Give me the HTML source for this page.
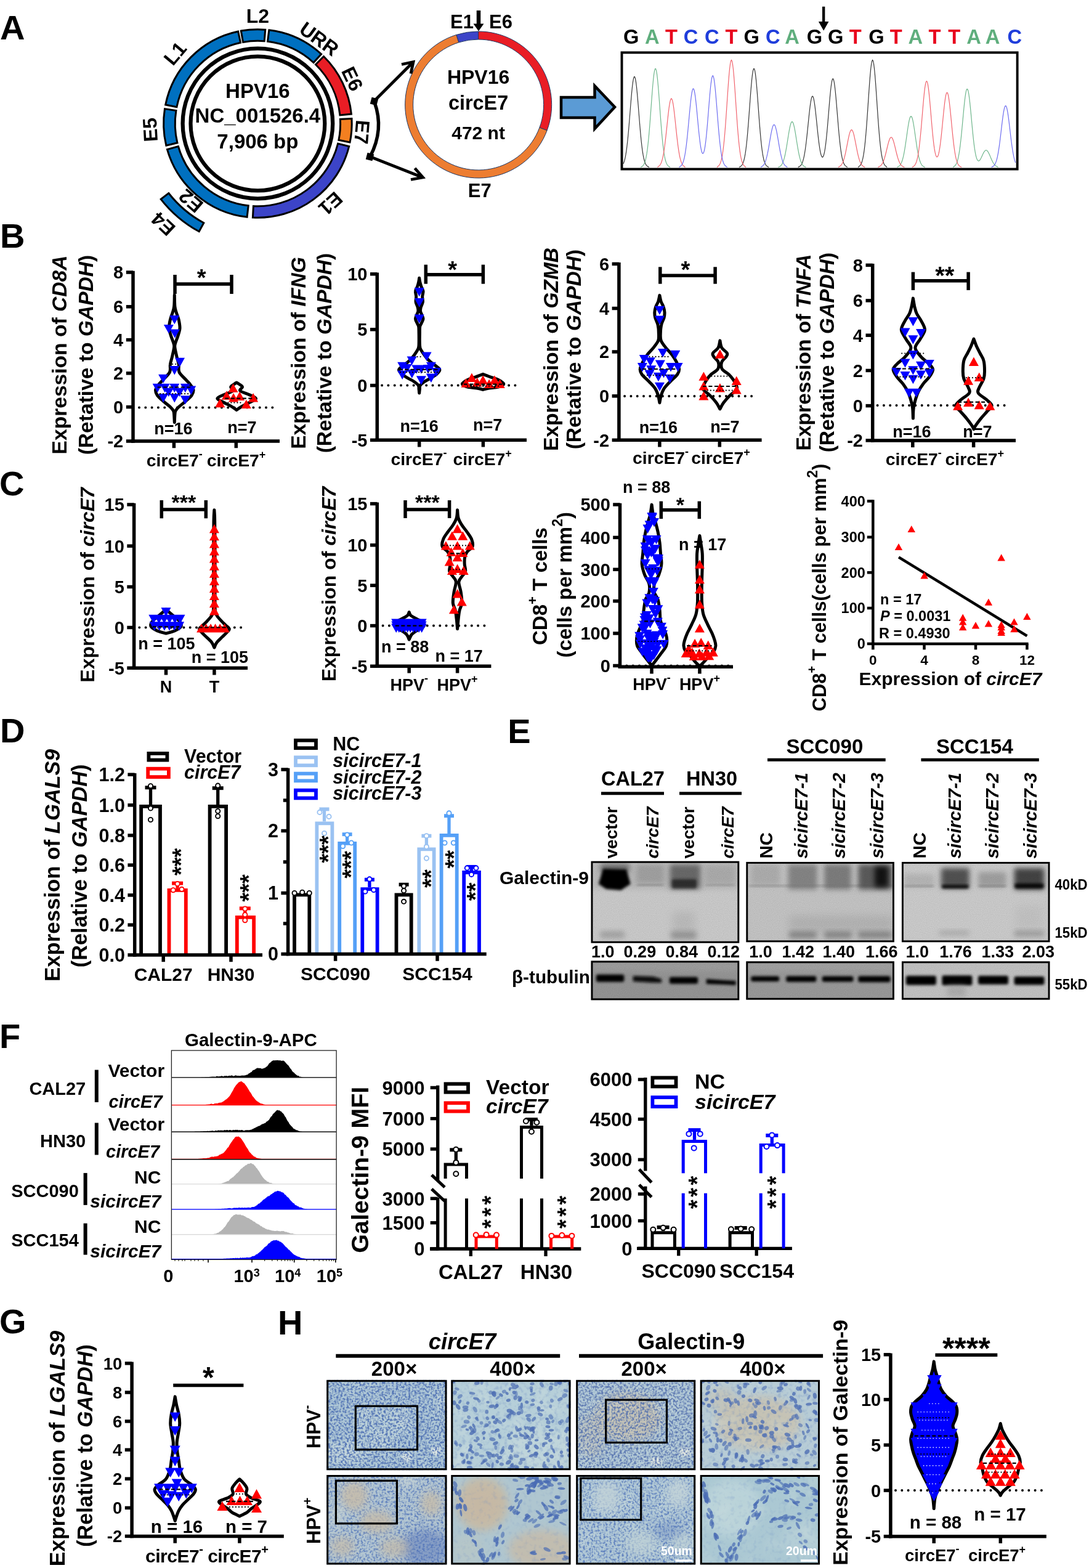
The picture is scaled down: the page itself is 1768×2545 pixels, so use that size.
<!DOCTYPE html>
<html><head><meta charset="utf-8"><title>Figure</title><style>html,body{margin:0;padding:0;background:#fff;}svg{display:block;}</style></head><body>
<svg width="1768" height="2545" viewBox="0 0 1768 2545" font-family='"Liberation Sans", Arial, sans-serif' font-weight="bold">
<rect x="0" y="0" width="1768" height="2545" fill="#fff"/>
<text x="0" y="63.9" font-size="56">A</text>
<text x="0" y="401.9" font-size="56">B</text>
<text x="-1" y="803.5" font-size="56">C</text>
<text x="0" y="1204.9" font-size="56">D</text>
<text x="824.3" y="1205.8" font-size="56">E</text>
<text x="-1" y="1701.4" font-size="56">F</text>
<text x="-1" y="2163.5" font-size="56">G</text>
<text x="451" y="2165.6" font-size="56">H</text>
<path d="M391.3 50.1A152.8 152.8 0 0 1 430.7 48.2L429.2 66.7A134.2 134.2 0 0 0 394.6 68.4Z" fill="#0070c0" stroke="#000" stroke-width="3"/>
<path d="M436.8 48.8A152.8 152.8 0 0 1 521.6 87.8L509.1 101.6A134.2 134.2 0 0 0 434.5 67.3Z" fill="#0070c0" stroke="#000" stroke-width="3"/>
<path d="M525.5 91.5A152.8 152.8 0 0 1 570.4 185.1L551.9 186.9A134.2 134.2 0 0 0 512.5 104.8Z" fill="#e91d25" stroke="#000" stroke-width="3"/>
<path d="M571 192.5A152.8 152.8 0 0 1 568.1 231L549.9 227.3A134.2 134.2 0 0 0 552.4 193.5Z" fill="#f47f20" stroke="#000" stroke-width="3"/>
<path d="M566.7 237.5A152.8 152.8 0 0 1 410.4 353.1L411.4 334.5A134.2 134.2 0 0 0 548.6 233Z" fill="#3c44c8" stroke="#000" stroke-width="3"/>
<path d="M401.1 352.3A152.8 152.8 0 0 1 271.5 242.6L289.4 237.5A134.2 134.2 0 0 0 403.2 333.8Z" fill="#0070c0" stroke="#000" stroke-width="3"/>
<path d="M269.8 236.2A152.8 152.8 0 0 1 267.5 176.6L285.9 179.5A134.2 134.2 0 0 0 287.9 231.8Z" fill="#0070c0" stroke="#000" stroke-width="3"/>
<path d="M268.7 170A152.8 152.8 0 0 1 386.6 51L390.5 69.2A134.2 134.2 0 0 0 286.9 173.7Z" fill="#0070c0" stroke="#000" stroke-width="3"/>
<path d="M323.2 375.8A199.5 199.5 0 0 1 261.2 323.3L273.8 313.5A183.5 183.5 0 0 0 330.8 361.8Z" fill="#0070c0" stroke="#000" stroke-width="3"/>
<circle cx="418.4" cy="200.5" r="121.8" fill="none" stroke="#000" stroke-width="6.3"/>
<circle cx="418.4" cy="200.5" r="108.9" fill="none" stroke="#000" stroke-width="6.2"/>
<text x="418.4" y="159.1" font-size="33" text-anchor="middle">HPV16</text>
<text x="418.4" y="199.2" font-size="33" text-anchor="middle">NC_001526.4</text>
<text x="418.4" y="240.6" font-size="33" text-anchor="middle">7,906 bp</text>
<text transform="translate(418.4 25.5) rotate(0)" font-size="32" text-anchor="middle" dy="11.2">L2</text>
<text transform="translate(518.3 63) rotate(36)" font-size="32" text-anchor="middle" dy="11.2">URR</text>
<text transform="translate(572.1 127.8) rotate(64.7)" font-size="32" text-anchor="middle" dy="11.2">E6</text>
<text transform="translate(587.8 214.4) rotate(94.7)" font-size="32" text-anchor="middle" dy="11.2">E7</text>
<text transform="translate(536.9 330.7) rotate(137.7)" font-size="32" text-anchor="middle" dy="11.2">E1</text>
<text transform="translate(309.9 326.2) rotate(220.8)" font-size="32" text-anchor="middle" dy="11.2">E2</text>
<text transform="translate(264.8 363.5) rotate(223.3)" font-size="32" text-anchor="middle" dy="11.2">E4</text>
<text transform="translate(243.7 210.6) rotate(266.7)" font-size="32" text-anchor="middle" dy="11.2">E5</text>
<text transform="translate(284.2 86.7) rotate(310.3)" font-size="32" text-anchor="middle" dy="11.2">L1</text>
<path d="M740.8 56.5A119 119 0 0 1 776.6 51L776.6 64A106 106 0 0 0 744.7 68.9Z" fill="#3c44c8" stroke="#1f3864" stroke-width="1"/>
<path d="M776.6 51A119 119 0 0 1 888.1 211.7L875.9 207.1A106 106 0 0 0 776.6 64Z" fill="#e91d25" stroke="#1f3864" stroke-width="1"/>
<path d="M888.1 211.7A119 119 0 1 1 740.8 56.5L744.7 68.9A106 106 0 1 0 875.9 207.1Z" fill="#ed7d31" stroke="#1f3864" stroke-width="1"/>
<text x="776.6" y="136.3" font-size="32" text-anchor="middle">HPV16</text>
<text x="776.6" y="177.6" font-size="32.4" text-anchor="middle">circE7</text>
<text x="776.6" y="226" font-size="30" text-anchor="middle">472 nt</text>
<text x="731" y="46" font-size="31">E1</text>
<text x="794" y="46" font-size="31">E6</text>
<path d="M777 17V41" stroke="#000" stroke-width="6.5"/><path d="M768.5 38.5L785.5 38.5L777 50.5Z" fill="#000"/>
<text x="778.7" y="320" font-size="31" text-anchor="middle">E7</text>
<path d="M608 166Q624 210 601 254" fill="none" stroke="#000" stroke-width="5.5"/>
<rect x="602" y="159" width="11" height="11" transform="rotate(15 607.5 164.5)" fill="#000"/><rect x="595" y="249" width="11" height="11" transform="rotate(15 600.5 254.5)" fill="#000"/>
<path d="M607 164.5L670 101.5M652 104.5L671 100.5L667 119.5" fill="none" stroke="#000" stroke-width="4.8" stroke-linejoin="miter"/>
<path d="M600 254L685 287.5M667 291.5L686.5 288L673.5 273" fill="none" stroke="#000" stroke-width="4.8" stroke-linejoin="miter"/>
<path d="M911 158H965.5V139.5L998 173.7L965.5 209V191H911Z" fill="#5b9bd5" stroke="#000" stroke-width="4.5" stroke-linejoin="miter"/>
<g transform="translate(990 0) scale(0.48757)">
<text x="71" y="145" font-size="67" text-anchor="middle">G</text>
<text x="141" y="145" font-size="67" fill="#5fae7d" text-anchor="middle">A</text>
<text x="205" y="145" font-size="67" fill="#e8001c" text-anchor="middle">T</text>
<text x="270" y="145" font-size="67" fill="#1f3ddb" text-anchor="middle">C</text>
<text x="340" y="145" font-size="67" fill="#1f3ddb" text-anchor="middle">C</text>
<text x="405" y="145" font-size="67" fill="#e8001c" text-anchor="middle">T</text>
<text x="472" y="145" font-size="67" text-anchor="middle">G</text>
<text x="543" y="145" font-size="67" fill="#1f3ddb" text-anchor="middle">C</text>
<text x="607" y="145" font-size="67" fill="#5fae7d" text-anchor="middle">A</text>
<text x="682" y="145" font-size="67" text-anchor="middle">G</text>
<text x="752" y="145" font-size="67" text-anchor="middle">G</text>
<text x="818" y="145" font-size="67" fill="#e8001c" text-anchor="middle">T</text>
<text x="888" y="145" font-size="67" text-anchor="middle">G</text>
<text x="953" y="145" font-size="67" fill="#e8001c" text-anchor="middle">T</text>
<text x="1018" y="145" font-size="67" fill="#5fae7d" text-anchor="middle">A</text>
<text x="1082" y="145" font-size="67" fill="#e8001c" text-anchor="middle">T</text>
<text x="1147" y="145" font-size="67" fill="#e8001c" text-anchor="middle">T</text>
<text x="1212" y="145" font-size="67" fill="#5fae7d" text-anchor="middle">A</text>
<text x="1275" y="145" font-size="67" fill="#5fae7d" text-anchor="middle">A</text>
<text x="1348" y="145" font-size="67" fill="#1f3ddb" text-anchor="middle">C</text>
<path d="M712 22V80" stroke="#000" stroke-width="9"/><path d="M695 72L729 72L712 102Z" fill="#000"/>
<path d="M45,545.4 L47,540.6 L49,534.3 L51,526.3 L53,516.1 L55,503.7 L57,488.7 L59,471.2 L61,451.2 L63,429 L65,405.1 L67,380.1 L69,354.9 L71,330.5 L73,307.9 L75,288.2 L77,272.4 L79,261.4 L81,255.7 L83,255.7 L85,261.4 L87,272.4 L89,288.2 L91,307.9 L93,330.5 L95,354.9 L97,380.1 L99,405.1 L101,429 L103,451.2 L105,471.2 L107,488.7 L109,503.7 L111,516.1 L113,526.3 L115,534.3 L117,540.6 L119,545.4 L121,548.9 L123,551.5 L125,553.3 L127,554.6 L129,555.4 L131,557M431,557 L433,555.3 L435,554.3 L437,552.9 L439,551 L441,548.2 L443,544.3 L445,539.1 L447,532.3 L449,523.5 L451,512.5 L453,498.9 L455,482.6 L457,463.5 L459,441.7 L461,417.6 L463,391.5 L465,364.3 L467,336.9 L469,310.3 L471,285.6 L473,264.2 L475,247 L477,235 L479,228.8 L481,228.8 L483,235 L485,247 L487,264.2 L489,285.6 L491,310.3 L493,336.9 L495,364.3 L497,391.5 L499,417.6 L501,441.7 L503,463.5 L505,482.6 L507,498.9 L509,512.5 L511,523.5 L513,532.3 L515,539.1 L517,544.3 L519,548.2 L521,551 L523,552.9 L525,554.3 L527,555.3 L529,557M627,557 L629,555.5 L631,554.6 L633,553.4 L635,551.7 L637,549.4 L639,546.1 L641,541.8 L643,536.2 L645,529.1 L647,520.3 L649,509.5 L651,496.8 L653,482 L655,465.5 L657,447.3 L659,428.1 L661,408.3 L663,388.7 L665,370.2 L667,353.5 L669,339.4 L671,328.8 L673,322.2 L675,320 L677,322.2 L679,328.8 L681,339.4 L683,353.4 L685,370.1 L687,388.6 L689,408 L691,427.6 L693,446.5 L695,464.2 L697,480.1 L699,493.8 L701,505.1 L703,513.7 L705,519.6 L707,522.7 L709,523 L711,520.3 L713,514.7 L715,506 L717,494.3 L719,479.7 L721,462.1 L723,442.1 L725,419.9 L727,396.1 L729,371.7 L731,347.4 L733,324.4 L735,303.6 L737,286.2 L739,273 L741,264.8 L743,262 L745,264.8 L747,273 L749,286.2 L751,303.6 L753,324.4 L755,347.5 L757,371.9 L759,396.5 L761,420.5 L763,443.1 L765,463.7 L767,482 L769,497.9 L771,511.3 L773,522.3 L775,531.2 L777,538.1 L779,543.5 L781,547.5 L783,550.4 L785,552.6 L787,554 L789,555.1 L791,557M827,557 L829,554.7 L831,553.4 L833,551.6 L835,549.1 L837,545.5 L839,540.6 L841,534.2 L843,525.7 L845,515 L847,501.7 L849,485.5 L851,466.3 L853,444.1 L855,419.1 L857,391.8 L859,362.8 L861,333 L863,303.5 L865,275.6 L867,250.4 L869,229.3 L871,213.3 L873,203.4 L875,200 L877,203.4 L879,213.3 L881,229.3 L883,250.4 L885,275.6 L887,303.5 L889,333 L891,362.8 L893,391.8 L895,419.1 L897,444.1 L899,466.3 L901,485.5 L903,501.7 L905,515 L907,525.7 L909,534.2 L911,540.6 L913,545.5 L915,549.1 L917,551.6 L919,553.4 L921,554.7 L923,557" fill="none" stroke="#333" stroke-width="2.4"/>
<path d="M103,557 L105,555.3 L107,554.3 L109,552.9 L111,551 L113,548.2 L115,544.3 L117,539.1 L119,532.3 L121,523.5 L123,512.5 L125,498.9 L127,482.6 L129,463.5 L131,441.7 L133,417.6 L135,391.5 L137,364.3 L139,336.9 L141,310.3 L143,285.6 L145,264.2 L147,247 L149,235 L151,228.8 L153,228.8 L155,235 L157,247 L159,264.2 L161,285.6 L163,310.3 L165,336.9 L167,364.3 L169,391.5 L171,417.6 L173,441.7 L175,463.5 L177,482.6 L179,498.9 L181,512.5 L183,523.5 L185,532.3 L187,539.1 L189,544.3 L191,548.2 L193,551 L195,552.9 L197,554.3 L199,555.3 L201,557M561,557 L563,555.5 L565,554.7 L567,553.6 L569,552.1 L571,550 L573,547.3 L575,543.7 L577,539.1 L579,533.4 L581,526.5 L583,518.4 L585,508.9 L587,498.3 L589,486.7 L591,474.3 L593,461.6 L595,449.1 L597,437.2 L599,426.5 L601,417.5 L603,410.7 L605,406.4 L607,405 L609,406.4 L611,410.7 L613,417.5 L615,426.5 L617,437.2 L619,449.1 L621,461.6 L623,474.3 L625,486.7 L627,498.3 L629,508.9 L631,518.4 L633,526.5 L635,533.4 L637,539.1 L639,543.7 L641,547.3 L643,550 L645,552.1 L647,553.6 L649,554.7 L651,555.5 L653,557M957,557 L959,555.3 L961,554.4 L963,553.2 L965,551.5 L967,549.2 L969,546.1 L971,542.1 L973,537 L975,530.7 L977,522.9 L979,513.8 L981,503.2 L983,491.3 L985,478.3 L987,464.5 L989,450.3 L991,436.3 L993,423 L995,411 L997,400.9 L999,393.3 L1001,388.6 L1003,387 L1005,388.6 L1007,393.3 L1009,400.9 L1011,411 L1013,423 L1015,436.3 L1017,450.3 L1019,464.5 L1021,478.3 L1023,491.3 L1025,503.2 L1027,513.8 L1029,522.9 L1031,530.7 L1033,537 L1035,542.1 L1037,546.1 L1039,549.2 L1041,551.5 L1043,553.2 L1045,554.4 L1047,555.3 L1049,557M1143,557 L1145,554.9 L1147,553.8 L1149,552.2 L1151,550 L1153,546.9 L1155,542.8 L1157,537.4 L1159,530.4 L1161,521.7 L1163,510.9 L1165,498 L1167,482.8 L1169,465.6 L1171,446.4 L1173,425.7 L1175,404.2 L1177,382.4 L1179,361.3 L1181,341.7 L1183,324.7 L1185,311.1 L1187,301.5 L1189,296.6 L1191,296.6 L1193,301.5 L1195,311 L1197,324.7 L1199,341.7 L1201,361.2 L1203,382.2 L1205,403.9 L1207,425.4 L1209,445.8 L1211,464.7 L1213,481.6 L1215,496.1 L1217,508.3 L1219,518 L1221,525.5 L1223,530.7 L1225,534 L1227,535.5 L1229,535.5 L1231,534.2 L1233,531.8 L1235,528.5 L1237,524.6 L1239,520.4 L1241,516 L1243,511.7 L1245,507.9 L1247,504.6 L1249,502.1 L1251,500.5 L1253,500 L1255,500.5 L1257,502.1 L1259,504.7 L1261,508 L1263,512.1 L1265,516.5 L1267,521.2 L1269,526 L1271,530.6 L1273,535 L1275,539 L1277,542.5 L1279,545.6 L1281,548.2 L1283,550.3 L1285,552 L1287,553.4 L1289,554.4 L1291,555.2 L1293,557" fill="none" stroke="#6cb58a" stroke-width="2.4"/>
<path d="M159,557 L161,554.7 L163,553.5 L165,551.9 L167,549.6 L169,546.5 L171,542.3 L173,536.9 L175,530.1 L177,521.5 L179,511.1 L181,498.8 L183,484.6 L185,468.5 L187,451 L189,432.4 L191,413.3 L193,394.4 L195,376.5 L197,360.3 L199,346.8 L201,336.5 L203,330.2 L205,328 L207,330.2 L209,336.5 L211,346.8 L213,360.3 L215,376.5 L217,394.4 L219,413.3 L221,432.4 L223,451 L225,468.5 L227,484.6 L229,498.8 L231,511.1 L233,521.5 L235,530.1 L237,536.9 L239,542.3 L241,546.5 L243,549.6 L245,551.9 L247,553.5 L249,554.7 L251,557M357,557 L359,554.7 L361,553.4 L363,551.6 L365,549.1 L367,545.5 L369,540.6 L371,534.2 L373,525.7 L375,515 L377,501.7 L379,485.5 L381,466.3 L383,444.1 L385,419.1 L387,391.8 L389,362.8 L391,333 L393,303.5 L395,275.6 L397,250.4 L399,229.3 L401,213.3 L403,203.4 L405,200 L407,203.4 L409,213.3 L411,229.3 L413,250.4 L415,275.6 L417,303.5 L419,333 L421,362.8 L423,391.8 L425,419.1 L427,444.1 L429,466.3 L431,485.5 L433,501.7 L435,515 L437,525.7 L439,534.2 L441,540.6 L443,545.5 L445,549.1 L447,551.6 L449,553.4 L451,554.7 L453,557M761,557 L763,555.1 L765,554.2 L767,553 L769,551.3 L771,549 L773,546.1 L775,542.3 L777,537.6 L779,532 L781,525.2 L783,517.5 L785,508.7 L787,499.2 L789,489 L791,478.6 L793,468.2 L795,458.5 L797,449.6 L799,442.3 L801,436.7 L803,433.2 L805,432 L807,433.2 L809,436.7 L811,442.3 L813,449.6 L815,458.5 L817,468.2 L819,478.6 L821,489 L823,499.2 L825,508.7 L827,517.5 L829,525.2 L831,532 L833,537.6 L835,542.3 L837,546.1 L839,549 L841,551.3 L843,553 L845,554.2 L847,555.1 L849,557M893,557 L895,555.5 L897,554.8 L899,553.8 L901,552.4 L903,550.6 L905,548.2 L907,545.2 L909,541.5 L911,537 L913,531.6 L915,525.4 L917,518.4 L919,510.7 L921,502.6 L923,494.3 L925,486 L927,478.2 L929,471.1 L931,465.2 L933,460.7 L935,457.9 L937,457 L939,457.9 L941,460.7 L943,465.2 L945,471.1 L947,478.2 L949,486 L951,494.3 L953,502.6 L955,510.7 L957,518.4 L959,525.4 L961,531.6 L963,537 L965,541.5 L967,545.2 L969,548.2 L971,550.6 L973,552.4 L975,553.8 L977,554.8 L979,555.5 L981,557M1007,557 L1009,555.1 L1011,554.1 L1013,552.7 L1015,550.6 L1017,547.7 L1019,543.8 L1021,538.6 L1023,531.9 L1025,523.2 L1027,512.5 L1029,499.5 L1031,484.1 L1033,466.2 L1035,446.1 L1037,424.2 L1039,400.9 L1041,376.9 L1043,353.2 L1045,330.7 L1047,310.5 L1049,293.5 L1051,280.7 L1053,272.7 L1055,270 L1057,272.7 L1059,280.7 L1061,293.5 L1063,310.5 L1065,330.7 L1067,353.1 L1069,376.7 L1071,400.5 L1073,423.5 L1075,445.1 L1077,464.6 L1079,481.6 L1081,495.7 L1083,507 L1085,515.2 L1087,520.4 L1089,522.7 L1091,522 L1093,518.5 L1095,512 L1097,502.8 L1099,490.8 L1101,476.4 L1103,459.6 L1105,441 L1107,421.1 L1109,400.5 L1111,380 L1113,360.6 L1115,343.1 L1117,328.4 L1119,317.3 L1121,310.3 L1123,308 L1125,310.4 L1127,317.3 L1129,328.4 L1131,343.2 L1133,360.7 L1135,380.2 L1137,400.8 L1139,421.5 L1141,441.8 L1143,460.8 L1145,478.2 L1147,493.7 L1149,507.1 L1151,518.4 L1153,527.7 L1155,535.2 L1157,541.1 L1159,545.6 L1161,549 L1163,551.5 L1165,553.2 L1167,554.5 L1169,555.4 L1171,557" fill="none" stroke="#f0606a" stroke-width="2.4"/>
<path d="M231,557 L233,554.9 L235,553.8 L237,552.2 L239,550 L241,546.9 L243,542.8 L245,537.3 L247,530.3 L249,521.5 L251,510.7 L253,497.7 L255,482.5 L257,465.2 L259,446 L261,425.2 L263,403.6 L265,381.7 L267,360.5 L269,340.9 L271,323.8 L273,310.1 L275,300.5 L277,295.6 L279,295.6 L281,300.5 L283,310.1 L285,323.7 L287,340.7 L289,360.2 L291,381.2 L293,402.8 L295,424 L297,444 L299,462.1 L301,477.9 L303,490.9 L305,500.9 L307,507.6 L309,510.8 L311,510.6 L313,506.9 L315,499.6 L317,488.9 L319,474.7 L321,457.3 L323,437.1 L325,414.5 L327,390.2 L329,365.1 L331,340.1 L333,316.4 L335,294.9 L337,277 L339,263.3 L341,254.9 L343,252 L345,254.9 L347,263.4 L349,277 L351,295.1 L353,316.6 L355,340.4 L357,365.6 L359,391.1 L361,415.9 L363,439.2 L365,460.5 L367,479.5 L369,495.9 L371,509.7 L373,521.1 L375,530.3 L377,537.5 L379,543 L381,547.2 L383,550.2 L385,552.4 L387,553.9 L389,555 L391,557M503,557 L505,554.9 L507,553.8 L509,552.4 L511,550.5 L513,547.9 L515,544.6 L517,540.3 L519,535 L521,528.5 L523,520.9 L525,512.1 L527,502.2 L529,491.3 L531,479.8 L533,467.9 L535,456.2 L537,445.1 L539,435 L541,426.7 L543,420.3 L545,416.3 L547,415 L549,416.3 L551,420.3 L553,426.7 L555,435 L557,445.1 L559,456.2 L561,467.9 L563,479.8 L565,491.3 L567,502.2 L569,512.1 L571,520.9 L573,528.5 L575,535 L577,540.3 L579,544.6 L581,547.9 L583,550.5 L585,552.4 L587,553.8 L589,554.9 L591,557M1271,557 L1273,555.3 L1275,554.5 L1277,553.2 L1279,551.5 L1281,549.1 L1283,545.9 L1285,541.6 L1287,536.1 L1289,529.3 L1291,520.8 L1293,510.6 L1295,498.7 L1297,485.2 L1299,470.1 L1301,453.9 L1303,436.9 L1305,419.8 L1307,403.3 L1309,387.9 L1311,374.5 L1313,363.8 L1315,356.3 L1317,352.5 L1319,352.5 L1321,356.3 L1323,363.8 L1325,374.5 L1327,387.9 L1329,403.3 L1331,419.8 L1333,436.9 L1335,453.9 L1337,470.1 L1339,485.2 L1341,498.7 L1343,510.6 L1345,520.8 L1347,529.3 L1349,536.1 L1351,541.6" fill="none" stroke="#6a6af0" stroke-width="2.4"/>
<rect x="40" y="175" width="1317" height="388" fill="none" stroke="#000" stroke-width="8"/>
</g>
<text transform="translate(108 576) rotate(-90)" font-size="33.6" text-anchor="middle">Expression of <tspan font-style="italic">CD8A</tspan></text>
<text transform="translate(151 576) rotate(-90)" font-size="33.6" text-anchor="middle">(Retative to <tspan font-style="italic">GAPDH</tspan>)</text>
<line x1="226" y1="661.5" x2="450" y2="661.5" stroke="#000" stroke-width="4" stroke-dasharray="0 10.3" stroke-linecap="round"/>
<path d="M283.3 478.8C283.4 481.9 283.4 492.8 283.9 497.6C284.4 502.4 285.3 504.1 286.4 507.6C287.4 511.2 289.2 514.7 290.2 518.9C291.1 523.1 292.2 528.3 292 532.7C291.8 537.1 290.2 541 288.9 545.2C287.6 549.4 285.3 554.6 284.5 557.7C283.7 560.9 283.5 560.5 283.9 564C284.3 567.6 286 574.5 287 579C288.1 583.6 289.5 587.4 290.2 591.6C290.8 595.8 289 599.9 291 604.1C293 608.3 299.1 613.3 302.1 616.6C305 620 307 621.4 308.9 624.2C310.9 626.9 313.6 630 314 632.9C314.3 635.9 313.3 638.6 311.1 641.7C308.9 644.8 304.3 648.6 300.8 651.7C297.3 654.9 292.8 658 290.2 660.5C287.5 663 286.1 664.7 285 666.8C284 668.9 284.2 669.9 283.9 673C283.6 676.2 283.4 683.5 283.3 685.6L283.3 685.6C283.2 683.5 282.9 676.2 282.6 673C282.3 669.9 282.5 668.9 281.5 666.8C280.5 664.7 279 663 276.4 660.5C273.7 658 269.2 654.9 265.7 651.7C262.2 648.6 257.6 644.8 255.4 641.7C253.2 638.6 252.2 635.9 252.6 632.9C252.9 630 255.6 626.9 257.6 624.2C259.6 621.4 261.5 620 264.5 616.6C267.4 613.3 273.5 608.3 275.5 604.1C277.5 599.9 275.7 595.8 276.4 591.6C277 587.4 278.5 583.6 279.5 579C280.5 574.5 282.2 567.6 282.6 564C283 560.5 282.8 560.9 282 557.7C281.2 554.6 278.9 549.4 277.6 545.2C276.4 541 274.7 537.1 274.5 532.7C274.3 528.3 275.4 523.1 276.4 518.9C277.3 514.7 279.1 511.2 280.1 507.6C281.2 504.1 282.1 502.4 282.6 497.6C283.2 492.8 283.2 481.9 283.3 478.8Z" fill="none" stroke="#000" stroke-width="5" stroke-linejoin="round" stroke-linecap="round"/>
<path d="M384.1 621C384.7 621.3 385.7 621.8 387.3 622.9C388.8 624.1 393.1 626 393.5 627.9C394 629.8 388 632.1 389.8 634.2C391.5 636.3 399.9 638.4 404.2 640.5C408.5 642.5 415.3 644.6 415.5 646.7C415.7 648.8 408.6 651.2 405.4 653C402.3 654.8 399.4 655.9 396.7 657.4C394 658.8 391.2 660.4 389.1 661.8C387.1 663.1 385 664.9 384.1 665.5L384.1 665.5C383.3 664.9 381.2 663.1 379.1 661.8C377 660.4 374.3 658.8 371.6 657.4C368.9 655.9 366 654.8 362.8 653C359.7 651.2 352.6 648.8 352.8 646.7C353 644.6 359.8 642.5 364.1 640.5C368.4 638.4 376.7 636.3 378.5 634.2C380.3 632.1 374.3 629.8 374.7 627.9C375.2 626 379.4 624.1 381 622.9C382.6 621.8 383.6 621.3 384.1 621Z" fill="none" stroke="#000" stroke-width="5" stroke-linejoin="round" stroke-linecap="round"/>
<path d="M283.3 526.3l-8 -14.4h16zM273.9 541.3l-8 -14.4h16zM283.9 548.8l-8 -14.4h16zM292 595.2l-8 -14.4h16zM283.3 608.4l-8 -14.4h16zM265.1 622.1l-8 -14.4h16zM255.7 637.2l-8 -14.4h16zM267.6 637.2l-8 -14.4h16zM283.3 637.2l-8 -14.4h16zM300.8 637.2l-8 -14.4h16zM310.2 640.9l-8 -14.4h16zM265.1 653.5l-8 -14.4h16zM283.3 653.5l-8 -14.4h16zM300.8 656.6l-8 -14.4h16zM273.9 644.1l-8 -14.4h16zM291.4 644.1l-8 -14.4h16z" fill="#0000ff"/>
<line x1="255.7" y1="628.5" x2="310.2" y2="628.5" stroke="#000" stroke-width="2.2" stroke-dasharray="6 3.5"/>
<line x1="255.1" y1="639.2" x2="308.9" y2="639.2" stroke="#000" stroke-width="2.2" stroke-dasharray="0 5" stroke-linecap="round"/>
<line x1="280.1" y1="591" x2="286.4" y2="591" stroke="#000" stroke-width="2.2" stroke-dasharray="0 5" stroke-linecap="round"/>
<path d="M378.5 622.4l8 14.4h-16zM367.8 634.3l8 14.4h-16zM379.1 638.1l8 14.4h-16zM389.1 635.6l8 14.4h-16zM411.1 638.1l8 14.4h-16zM357.2 646.8l8 14.4h-16zM399.8 648.7l8 14.4h-16z" fill="#ff0000"/>
<line x1="365.3" y1="646.7" x2="413" y2="646.7" stroke="#000" stroke-width="2.2" stroke-dasharray="6 3.5"/>
<line x1="370.4" y1="653.6" x2="392.9" y2="653.6" stroke="#000" stroke-width="2.2" stroke-dasharray="0 5" stroke-linecap="round"/>
<line x1="216" y1="439.8" x2="216" y2="718.8" stroke="#000" stroke-width="5.5"/>
<line x1="213.2" y1="716" x2="454" y2="716" stroke="#000" stroke-width="5.5"/>
<line x1="204.8" y1="442" x2="216" y2="442" stroke="#000" stroke-width="5.5"/>
<text x="200.2" y="452.4" font-size="29" text-anchor="end">8</text>
<line x1="204.8" y1="497.8" x2="216" y2="497.8" stroke="#000" stroke-width="5.5"/>
<text x="200.2" y="508.2" font-size="29" text-anchor="end">6</text>
<line x1="204.8" y1="551.6" x2="216" y2="551.6" stroke="#000" stroke-width="5.5"/>
<text x="200.2" y="562" font-size="29" text-anchor="end">4</text>
<line x1="204.8" y1="605.8" x2="216" y2="605.8" stroke="#000" stroke-width="5.5"/>
<text x="200.2" y="616.2" font-size="29" text-anchor="end">2</text>
<line x1="204.8" y1="660.6" x2="216" y2="660.6" stroke="#000" stroke-width="5.5"/>
<text x="200.2" y="671" font-size="29" text-anchor="end">0</text>
<line x1="204.8" y1="716" x2="216" y2="716" stroke="#000" stroke-width="5.5"/>
<text x="200.2" y="726.4" font-size="29" text-anchor="end">-2</text>
<line x1="282.4" y1="716" x2="282.4" y2="727.2" stroke="#000" stroke-width="5.5"/>
<line x1="383.3" y1="716" x2="383.3" y2="727.2" stroke="#000" stroke-width="5.5"/>
<line x1="284" y1="461" x2="376" y2="461" stroke="#000" stroke-width="5.5"/>
<line x1="284" y1="446" x2="284" y2="477" stroke="#000" stroke-width="5.5"/>
<line x1="376" y1="446" x2="376" y2="477" stroke="#000" stroke-width="5.5"/>
<text x="327.1" y="463.5" font-size="38" text-anchor="middle">*</text>
<text x="281.5" y="704.8" font-size="27" text-anchor="middle">n=16</text>
<text x="393" y="702.8" font-size="27" text-anchor="middle">n=7</text>
<text x="237.8" y="756.6" font-size="28.3">circE7<tspan dy="-14" font-size="18">-</tspan></text>
<text x="335.8" y="756.6" font-size="28.3">circE7<tspan dy="-13" font-size="18">+</tspan></text>
<text transform="translate(496 573) rotate(-90)" font-size="33.6" text-anchor="middle">Expression of <tspan font-style="italic">IFNG</tspan></text>
<text transform="translate(538 573) rotate(-90)" font-size="33.6" text-anchor="middle">(Retative to <tspan font-style="italic">GAPDH</tspan>)</text>
<line x1="620.1" y1="625.6" x2="846.4" y2="625.6" stroke="#000" stroke-width="4" stroke-dasharray="0 10.3" stroke-linecap="round"/>
<path d="M680.7 451.3C680.9 452.3 681.2 455.2 681.7 457.5C682.3 459.8 683 462.6 683.9 465.1C684.7 467.6 686.7 469.9 687 472.6C687.3 475.3 685.8 478.4 685.7 481.4C685.6 484.3 686.8 487.2 686.4 490.1C685.9 493 683.9 496.4 683.2 498.9C682.6 501.4 682.4 503.3 682.6 505.2C682.8 507 683.8 508.1 684.5 510.2C685.2 512.3 687.1 515.2 687 517.7C686.9 520.2 684.7 523.1 683.9 525.2C683 527.3 682.1 527.7 681.7 530.2C681.3 532.7 681.4 535.4 681.4 540.3C681.3 545.1 681.2 554.9 681.4 559C681.5 563.2 681.5 563.2 682.2 565.3C683 567.4 684.1 569.1 685.7 571.6C687.4 574.1 689.7 577.6 692 580.4C694.3 583.1 696.6 585.4 699.5 587.9C702.4 590.4 707.1 593.3 709.5 595.4C712 597.5 713.9 598.5 713.9 600.4C713.9 602.3 711.7 604.6 709.5 606.7C707.4 608.8 704.1 610.8 700.8 612.9C697.4 615 692.6 617.1 689.5 619.2C686.4 621.3 683.6 623.4 682.2 625.5C680.9 627.6 681.6 629.6 681.4 631.7C681.1 633.8 680.8 637 680.7 638L680.7 638C680.6 637 680.4 633.8 680.1 631.7C679.8 629.6 680.6 627.6 679.2 625.5C677.9 623.4 675 621.3 672 619.2C668.9 617.1 664 615 660.7 612.9C657.3 610.8 654.1 608.8 651.9 606.7C649.7 604.6 647.5 602.3 647.5 600.4C647.5 598.5 649.5 597.5 651.9 595.4C654.3 593.3 659 590.4 661.9 587.9C664.9 585.4 667.2 583.1 669.4 580.4C671.7 577.6 674.1 574.1 675.7 571.6C677.3 569.1 678.5 567.4 679.2 565.3C680 563.2 680 563.2 680.1 559C680.2 554.9 680.2 545.1 680.1 540.3C680 535.4 680.1 532.7 679.7 530.2C679.3 527.7 678.5 527.3 677.6 525.2C676.7 523.1 674.6 520.2 674.5 517.7C674.4 515.2 676.2 512.3 677 510.2C677.7 508.1 678.6 507 678.8 505.2C679.1 503.3 678.8 501.4 678.2 498.9C677.6 496.4 675.5 493 675.1 490.1C674.7 487.2 675.8 484.3 675.7 481.4C675.6 478.4 674.1 475.3 674.5 472.6C674.8 469.9 676.7 467.6 677.6 465.1C678.5 462.6 679.2 459.8 679.7 457.5C680.2 455.2 680.6 452.3 680.7 451.3Z" fill="none" stroke="#000" stroke-width="5" stroke-linejoin="round" stroke-linecap="round"/>
<path d="M784.1 607.3C784.9 607.6 787.2 608.4 789.1 609.2C791 609.9 792.5 610.6 795.4 611.7C798.3 612.7 803.3 614 806.7 615.4C810 616.9 813.7 619 815.4 620.5C817.2 621.9 818.4 623 817.3 624.2C816.3 625.5 813.5 626.9 809.2 628C804.9 629 795.8 629.7 791.6 630.5C787.5 631.2 785.4 632 784.1 632.4L784.1 632.4C782.9 632 780.8 631.2 776.6 630.5C772.4 629.7 763.3 629 759 628C754.8 626.9 751.9 625.5 750.9 624.2C749.9 623 751 621.9 752.8 620.5C754.6 619 758.2 616.9 761.6 615.4C764.9 614 769.9 612.7 772.8 611.7C775.8 610.6 777.2 609.9 779.1 609.2C781 608.4 783.3 607.6 784.1 607.3Z" fill="none" stroke="#000" stroke-width="5" stroke-linejoin="round" stroke-linecap="round"/>
<path d="M680.7 481.5l-8 -14.4h16zM680.7 498.5l-8 -14.4h16zM680.7 524.8l-8 -14.4h16zM692.6 585.9l-8 -14.4h16zM668.6 592.8l-8 -14.4h16zM653.2 602.1l-8 -14.4h16zM699.9 602.1l-8 -14.4h16zM660.7 605.3l-8 -14.4h16zM683.9 606.8l-8 -14.4h16zM676.3 606.8l-8 -14.4h16zM708.3 611.5l-8 -14.4h16zM653.2 615.9l-8 -14.4h16zM668.8 614.1l-8 -14.4h16zM683.9 624.7l-8 -14.4h16zM699.9 620.9l-8 -14.4h16zM695.1 606.5l-8 -14.4h16z" fill="#0000ff"/>
<path d="M765.9 605.5l8 14.4h-16zM756.5 614.3l8 14.4h-16zM774.7 613.1l8 14.4h-16zM784.1 609.3l8 14.4h-16zM794.1 615.6l8 14.4h-16zM802.9 609.3l8 14.4h-16zM811.7 615.6l8 14.4h-16z" fill="#ff0000"/>
<line x1="647.5" y1="599.8" x2="713.9" y2="599.8" stroke="#000" stroke-width="2.2" stroke-dasharray="6 3.5"/>
<line x1="650" y1="604.2" x2="710.2" y2="604.2" stroke="#000" stroke-width="2.2" stroke-dasharray="0 5" stroke-linecap="round"/>
<line x1="677.6" y1="579.1" x2="685.1" y2="579.1" stroke="#000" stroke-width="2.2" stroke-dasharray="0 5" stroke-linecap="round"/>
<line x1="752.8" y1="623.6" x2="815.4" y2="623.6" stroke="#000" stroke-width="2.2" stroke-dasharray="6 3.5"/>
<line x1="759" y1="626.7" x2="809.2" y2="626.7" stroke="#000" stroke-width="2.2" stroke-dasharray="0 5" stroke-linecap="round"/>
<line x1="612.3" y1="442.6" x2="612.3" y2="717" stroke="#000" stroke-width="5.5"/>
<line x1="609.5" y1="714.3" x2="855" y2="714.3" stroke="#000" stroke-width="5.5"/>
<line x1="601" y1="444.8" x2="612.3" y2="444.8" stroke="#000" stroke-width="5.5"/>
<text x="596.5" y="455.2" font-size="29" text-anchor="end">10</text>
<line x1="601" y1="534.8" x2="612.3" y2="534.8" stroke="#000" stroke-width="5.5"/>
<text x="596.5" y="545.2" font-size="29" text-anchor="end">5</text>
<line x1="601" y1="625.6" x2="612.3" y2="625.6" stroke="#000" stroke-width="5.5"/>
<text x="596.5" y="636" font-size="29" text-anchor="end">0</text>
<line x1="601" y1="714.3" x2="612.3" y2="714.3" stroke="#000" stroke-width="5.5"/>
<text x="596.5" y="724.7" font-size="29" text-anchor="end">-5</text>
<line x1="680.7" y1="714.3" x2="680.7" y2="725.5" stroke="#000" stroke-width="5.5"/>
<line x1="784.4" y1="714.3" x2="784.4" y2="725.5" stroke="#000" stroke-width="5.5"/>
<line x1="691.3" y1="445.7" x2="784.4" y2="445.7" stroke="#000" stroke-width="5.5"/>
<line x1="691.3" y1="429.6" x2="691.3" y2="460.7" stroke="#000" stroke-width="5.5"/>
<line x1="784.4" y1="429.6" x2="784.4" y2="460.7" stroke="#000" stroke-width="5.5"/>
<text x="734.6" y="450.7" font-size="38" text-anchor="middle">*</text>
<text x="680.7" y="700.5" font-size="27" text-anchor="middle">n=16</text>
<text x="791.6" y="699.3" font-size="27" text-anchor="middle">n=7</text>
<text x="634.5" y="754.7" font-size="28.3">circE7<tspan dy="-14" font-size="18">-</tspan></text>
<text x="735.4" y="754.7" font-size="28.3">circE7<tspan dy="-13" font-size="18">+</tspan></text>
<text transform="translate(906 567) rotate(-90)" font-size="33.6" text-anchor="middle">Expression of <tspan font-style="italic">GZMB</tspan></text>
<text transform="translate(943.4 567) rotate(-90)" font-size="33.6" text-anchor="middle">(Retative to <tspan font-style="italic">GAPDH</tspan>)</text>
<line x1="1014.1" y1="642.9" x2="1227.4" y2="642.9" stroke="#000" stroke-width="4" stroke-dasharray="0 10.3" stroke-linecap="round"/>
<path d="M1070.9 479.4C1071.3 481.1 1072.1 486.4 1073.2 489.5C1074.3 492.6 1076.3 495.3 1077.2 498.2C1078.2 501.1 1078.8 503.9 1079 506.8C1079.1 509.7 1079 512.1 1078.1 515.5C1077.2 518.8 1074.7 522.7 1073.8 527C1072.8 531.3 1072.4 537.1 1072.3 541.4C1072.2 545.7 1071.8 549.1 1073.2 552.9C1074.6 556.8 1078 560.6 1081 564.5C1084 568.3 1088.2 572.1 1091.1 576C1093.9 579.8 1096.3 583.7 1098.3 587.5C1100.2 591.4 1102.4 595.7 1102.6 599C1102.8 602.4 1102.1 604.3 1099.7 607.7C1097.3 611.1 1091.8 615.4 1088.2 619.2C1084.6 623.1 1080.6 626.9 1078.1 630.7C1075.6 634.6 1074.4 638.4 1073.2 642.3C1072 646.1 1071.3 651.9 1070.9 653.8L1070.9 653.8C1070.5 651.9 1069.8 646.1 1068.6 642.3C1067.4 638.4 1066.2 634.6 1063.7 630.7C1061.2 626.9 1057.2 623.1 1053.6 619.2C1050 615.4 1044.5 611.1 1042.1 607.7C1039.7 604.3 1038.9 602.4 1039.2 599C1039.4 595.7 1041.6 591.4 1043.5 587.5C1045.4 583.7 1047.8 579.8 1050.7 576C1053.6 572.1 1057.8 568.3 1060.8 564.5C1063.8 560.6 1067.1 556.8 1068.6 552.9C1070 549.1 1069.5 545.7 1069.4 541.4C1069.4 537.1 1069 531.3 1068 527C1067 522.7 1064.5 518.8 1063.7 515.5C1062.8 512.1 1062.7 509.7 1062.8 506.8C1063 503.9 1063.6 501.1 1064.5 498.2C1065.5 495.3 1067.5 492.6 1068.6 489.5C1069.6 486.4 1070.5 481.1 1070.9 479.4Z" fill="none" stroke="#000" stroke-width="5" stroke-linejoin="round" stroke-linecap="round"/>
<path d="M1168.9 552.9C1169.4 554.9 1169.8 561.1 1171.8 564.5C1173.7 567.8 1179.2 570.7 1180.4 573.1C1181.6 575.5 1180.4 576.5 1179 578.9C1177.5 581.3 1172.9 584.2 1171.8 587.5C1170.7 590.9 1170.4 595.7 1172.3 599C1174.3 602.4 1180.3 604.8 1183.3 607.7C1186.3 610.6 1188.3 613 1190.5 616.3C1192.7 619.7 1195.5 625 1196.3 627.9C1197 630.7 1196.7 631.2 1194.8 633.6C1192.9 636 1188.1 638.9 1184.7 642.3C1181.4 645.6 1177.3 650.2 1174.6 653.8C1172 657.4 1169.8 662.2 1168.9 663.9L1168.9 663.9C1167.9 662.2 1165.8 657.4 1163.1 653.8C1160.5 650.2 1156.4 645.6 1153 642.3C1149.7 638.9 1144.9 636 1142.9 633.6C1141 631.2 1140.8 630.7 1141.5 627.9C1142.2 625 1145.1 619.7 1147.3 616.3C1149.4 613 1151.4 610.6 1154.5 607.7C1157.5 604.8 1163.5 602.4 1165.4 599C1167.3 595.7 1167.1 590.9 1166 587.5C1164.9 584.2 1160.2 581.3 1158.8 578.9C1157.4 576.5 1156.2 575.5 1157.4 573.1C1158.6 570.7 1164.1 567.8 1166 564.5C1167.9 561.1 1168.4 554.9 1168.9 552.9Z" fill="none" stroke="#000" stroke-width="5" stroke-linejoin="round" stroke-linecap="round"/>
<path d="M1070.9 511.1l-8 -14.4h16zM1070.9 527l-8 -14.4h16zM1045.8 590.4l-8 -14.4h16zM1055.9 594.7l-8 -14.4h16zM1076.1 580.3l-8 -14.4h16zM1096.3 583.2l-8 -14.4h16zM1042.9 603.4l-8 -14.4h16zM1057.3 607.7l-8 -14.4h16zM1071.8 599l-8 -14.4h16zM1089 603.4l-8 -14.4h16zM1100.6 603.4l-8 -14.4h16zM1054.5 614.9l-8 -14.4h16zM1068.9 619.2l-8 -14.4h16zM1087.6 622.1l-8 -14.4h16zM1070.9 635.1l-8 -14.4h16zM1077.5 613.4l-8 -14.4h16z" fill="#0000ff"/>
<path d="M1168.9 567.3l8 14.4h-16zM1142.4 603.4l8 14.4h-16zM1142.4 619.2l8 14.4h-16zM1168.9 622.1l8 14.4h-16zM1195.7 610.6l8 14.4h-16zM1195.7 625l8 14.4h-16zM1142.4 635.1l8 14.4h-16z" fill="#ff0000"/>
<line x1="1042.9" y1="599" x2="1099.1" y2="599" stroke="#000" stroke-width="2.2" stroke-dasharray="6 3.5"/>
<line x1="1054.5" y1="578.9" x2="1086.2" y2="578.9" stroke="#000" stroke-width="2.2" stroke-dasharray="0 5" stroke-linecap="round"/>
<line x1="1045.8" y1="609.1" x2="1094.8" y2="609.1" stroke="#000" stroke-width="2.2" stroke-dasharray="0 5" stroke-linecap="round"/>
<line x1="1140.9" y1="627" x2="1195.7" y2="627" stroke="#000" stroke-width="2.2" stroke-dasharray="6 3.5"/>
<line x1="1155.3" y1="610.6" x2="1181.3" y2="610.6" stroke="#000" stroke-width="2.2" stroke-dasharray="0 5" stroke-linecap="round"/>
<line x1="1143.8" y1="633.6" x2="1192.8" y2="633.6" stroke="#000" stroke-width="2.2" stroke-dasharray="0 5" stroke-linecap="round"/>
<line x1="1004.9" y1="426.1" x2="1004.9" y2="717" stroke="#000" stroke-width="5.5"/>
<line x1="1002.1" y1="714.3" x2="1236.6" y2="714.3" stroke="#000" stroke-width="5.5"/>
<line x1="993.6" y1="428.4" x2="1004.9" y2="428.4" stroke="#000" stroke-width="5.5"/>
<text x="989.1" y="438.8" font-size="29" text-anchor="end">6</text>
<line x1="993.6" y1="500.5" x2="1004.9" y2="500.5" stroke="#000" stroke-width="5.5"/>
<text x="989.1" y="510.9" font-size="29" text-anchor="end">4</text>
<line x1="993.6" y1="571" x2="1004.9" y2="571" stroke="#000" stroke-width="5.5"/>
<text x="989.1" y="581.4" font-size="29" text-anchor="end">2</text>
<line x1="993.6" y1="642.8" x2="1004.9" y2="642.8" stroke="#000" stroke-width="5.5"/>
<text x="989.1" y="653.2" font-size="29" text-anchor="end">0</text>
<line x1="993.6" y1="714.3" x2="1004.9" y2="714.3" stroke="#000" stroke-width="5.5"/>
<text x="989.1" y="724.7" font-size="29" text-anchor="end">-2</text>
<line x1="1070.9" y1="714.3" x2="1070.9" y2="725.5" stroke="#000" stroke-width="5.5"/>
<line x1="1168.3" y1="714.3" x2="1168.3" y2="725.5" stroke="#000" stroke-width="5.5"/>
<line x1="1071.8" y1="447.2" x2="1161.1" y2="447.2" stroke="#000" stroke-width="5.5"/>
<line x1="1071.8" y1="433.3" x2="1071.8" y2="460.7" stroke="#000" stroke-width="5.5"/>
<line x1="1161.1" y1="433.3" x2="1161.1" y2="460.7" stroke="#000" stroke-width="5.5"/>
<text x="1113" y="451.3" font-size="38" text-anchor="middle">*</text>
<text x="1068.9" y="702.8" font-size="27" text-anchor="middle">n=16</text>
<text x="1177" y="702.2" font-size="27" text-anchor="middle">n=7</text>
<text x="1027.1" y="753.2" font-size="28.3">circE7<tspan dy="-14" font-size="18">-</tspan></text>
<text x="1122.2" y="753.2" font-size="28.3">circE7<tspan dy="-13" font-size="18">+</tspan></text>
<text transform="translate(1316 572) rotate(-90)" font-size="33.6" text-anchor="middle">Expression of <tspan font-style="italic">TNFA</tspan></text>
<text transform="translate(1354 572) rotate(-90)" font-size="33.6" text-anchor="middle">(Retative to <tspan font-style="italic">GAPDH</tspan>)</text>
<line x1="1424.6" y1="658" x2="1640.1" y2="658" stroke="#000" stroke-width="4" stroke-dasharray="0 10.3" stroke-linecap="round"/>
<path d="M1482.4 484.1C1482.8 486.3 1483.8 493.1 1484.7 497.3C1485.7 501.4 1486.4 505.1 1488.3 509C1490.1 512.9 1493.4 516.4 1495.6 520.8C1497.8 525.1 1501.7 530.5 1501.4 535.4C1501.2 540.3 1496.7 545.2 1494.1 550.1C1491.5 555 1485.7 559.8 1485.9 564.7C1486.2 569.6 1491.8 575 1495.6 579.4C1499.4 583.8 1505.6 587.7 1508.8 591.1C1512 594.5 1514.6 596.5 1514.6 599.9C1514.6 603.3 1511.5 607.7 1508.8 611.7C1506.1 615.6 1501.4 619.5 1498.5 623.4C1495.6 627.3 1493.1 631.2 1491.2 635.1C1489.2 639 1488.1 642.4 1486.8 646.8C1485.5 651.2 1484 656.1 1483.3 661.5C1482.5 666.9 1482.5 676.2 1482.4 679.1L1482.4 679.1C1482.2 676.2 1482.2 666.9 1481.5 661.5C1480.8 656.1 1479.3 651.2 1478 646.8C1476.7 642.4 1475.5 639 1473.6 635.1C1471.6 631.2 1469.2 627.3 1466.3 623.4C1463.3 619.5 1458.7 615.6 1456 611.7C1453.3 607.7 1450.1 603.3 1450.1 599.9C1450.1 596.5 1452.8 594.5 1456 591.1C1459.2 587.7 1465.4 583.8 1469.2 579.4C1473 575 1478.6 569.6 1478.9 564.7C1479.1 559.8 1473.2 555 1470.7 550.1C1468.1 545.2 1463.6 540.3 1463.3 535.4C1463.1 530.5 1467 525.1 1469.2 520.8C1471.4 516.4 1474.7 512.9 1476.5 509C1478.3 505.1 1479.1 501.4 1480 497.3C1481 493.1 1482 486.3 1482.4 484.1Z" fill="none" stroke="#000" stroke-width="5" stroke-linejoin="round" stroke-linecap="round"/>
<path d="M1580.9 550.1C1581.6 552 1583.6 557.9 1585.3 561.8C1587 565.7 1589.2 569.6 1591.2 573.5C1593.1 577.4 1595.8 580.4 1597 585.3C1598.3 590.1 1598.5 598 1598.5 602.9C1598.5 607.7 1598.5 610.2 1597 614.6C1595.6 619 1591.2 625.3 1589.7 629.2C1588.2 633.2 1586 634.6 1588.2 638C1590.4 641.5 1599.2 646.3 1602.9 649.8C1606.6 653.2 1610.2 655.6 1610.2 658.6C1610.2 661.5 1605.8 663.9 1602.9 667.4C1600 670.8 1595.8 675.2 1592.6 679.1C1589.5 683 1585.8 687.9 1583.8 690.8C1581.9 693.8 1581.4 695.7 1580.9 696.7L1580.9 696.7C1580.4 695.7 1579.9 693.8 1578 690.8C1576 687.9 1572.4 683 1569.2 679.1C1566 675.2 1561.9 670.8 1558.9 667.4C1556 663.9 1551.6 661.5 1551.6 658.6C1551.6 655.6 1555.3 653.2 1558.9 649.8C1562.6 646.3 1571.4 641.5 1573.6 638C1575.8 634.6 1573.6 633.2 1572.1 629.2C1570.7 625.3 1566.3 619 1564.8 614.6C1563.3 610.2 1563.3 607.7 1563.3 602.9C1563.3 598 1563.6 590.1 1564.8 585.3C1566 580.4 1568.7 577.4 1570.7 573.5C1572.6 569.6 1574.8 565.7 1576.5 561.8C1578.2 557.9 1580.2 552 1580.9 550.1Z" fill="none" stroke="#000" stroke-width="5" stroke-linejoin="round" stroke-linecap="round"/>
<path d="M1482.4 529.4l-8 -14.4h16zM1469.5 547l-8 -14.4h16zM1495 548.4l-8 -14.4h16zM1482.4 558.7l-8 -14.4h16zM1482.4 583.6l-8 -14.4h16zM1469.5 596.8l-8 -14.4h16zM1495 601.2l-8 -14.4h16zM1508.8 598.3l-8 -14.4h16zM1455.4 611.5l-8 -14.4h16zM1469.5 617.4l-8 -14.4h16zM1482.4 608.6l-8 -14.4h16zM1482.4 623.2l-8 -14.4h16zM1495 615.9l-8 -14.4h16zM1508.8 613l-8 -14.4h16zM1475.9 645.2l-8 -14.4h16zM1487.7 645.2l-8 -14.4h16z" fill="#0000ff"/>
<path d="M1580.9 579.6l8 14.4h-16zM1572.1 610.3l8 14.4h-16zM1589.7 604.5l8 14.4h-16zM1572.1 645.5l8 14.4h-16zM1589.7 649.9l8 14.4h-16zM1555.1 651.4l8 14.4h-16zM1607.3 651.4l8 14.4h-16z" fill="#ff0000"/>
<line x1="1455.4" y1="598.5" x2="1508.8" y2="598.5" stroke="#000" stroke-width="2.2" stroke-dasharray="6 3.5"/>
<line x1="1464.2" y1="573.5" x2="1502.3" y2="573.5" stroke="#000" stroke-width="2.2" stroke-dasharray="0 5" stroke-linecap="round"/>
<line x1="1461.3" y1="611.7" x2="1505.3" y2="611.7" stroke="#000" stroke-width="2.2" stroke-dasharray="0 5" stroke-linecap="round"/>
<line x1="1555.1" y1="652.7" x2="1607.3" y2="652.7" stroke="#000" stroke-width="2.2" stroke-dasharray="6 3.5"/>
<line x1="1563.9" y1="613.1" x2="1596.2" y2="613.1" stroke="#000" stroke-width="2.2" stroke-dasharray="0 5" stroke-linecap="round"/>
<line x1="1416.7" y1="428.1" x2="1416.7" y2="717.6" stroke="#000" stroke-width="5.5"/>
<line x1="1414" y1="714.9" x2="1649" y2="714.9" stroke="#000" stroke-width="5.5"/>
<line x1="1405.5" y1="430.4" x2="1416.7" y2="430.4" stroke="#000" stroke-width="5.5"/>
<text x="1401" y="440.8" font-size="29" text-anchor="end">8</text>
<line x1="1405.5" y1="487.9" x2="1416.7" y2="487.9" stroke="#000" stroke-width="5.5"/>
<text x="1401" y="498.3" font-size="29" text-anchor="end">6</text>
<line x1="1405.5" y1="544.2" x2="1416.7" y2="544.2" stroke="#000" stroke-width="5.5"/>
<text x="1401" y="554.6" font-size="29" text-anchor="end">4</text>
<line x1="1405.5" y1="601.4" x2="1416.7" y2="601.4" stroke="#000" stroke-width="5.5"/>
<text x="1401" y="611.8" font-size="29" text-anchor="end">2</text>
<line x1="1405.5" y1="658.6" x2="1416.7" y2="658.6" stroke="#000" stroke-width="5.5"/>
<text x="1401" y="669" font-size="29" text-anchor="end">0</text>
<line x1="1405.5" y1="714.9" x2="1416.7" y2="714.9" stroke="#000" stroke-width="5.5"/>
<text x="1401" y="725.3" font-size="29" text-anchor="end">-2</text>
<line x1="1481.8" y1="714.9" x2="1481.8" y2="726.1" stroke="#000" stroke-width="5.5"/>
<line x1="1580.6" y1="714.9" x2="1580.6" y2="726.1" stroke="#000" stroke-width="5.5"/>
<line x1="1482.4" y1="455.7" x2="1572.1" y2="455.7" stroke="#000" stroke-width="5.5"/>
<line x1="1482.4" y1="441.6" x2="1482.4" y2="470.9" stroke="#000" stroke-width="5.5"/>
<line x1="1572.1" y1="441.6" x2="1572.1" y2="470.9" stroke="#000" stroke-width="5.5"/>
<text x="1533.7" y="460.5" font-size="40" text-anchor="middle">**</text>
<text x="1480.3" y="709.9" font-size="27" text-anchor="middle">n=16</text>
<text x="1586.8" y="709.9" font-size="27" text-anchor="middle">n=7</text>
<text x="1437.8" y="755.3" font-size="28.3">circE7<tspan dy="-14" font-size="18">-</tspan></text>
<text x="1534.6" y="755.3" font-size="28.3">circE7<tspan dy="-13" font-size="18">+</tspan></text>
<text transform="translate(153 949.4) rotate(-90)" font-size="32" text-anchor="middle">Expression of <tspan font-style="italic">circE7</tspan></text>
<line x1="226.3" y1="1018.5" x2="399.2" y2="1018.5" stroke="#000" stroke-width="4" stroke-dasharray="0 10.3" stroke-linecap="round"/>
<path d="M347.9 827.7C348 830.9 348.6 833.7 348.7 846.5C348.9 859.2 349 884.9 349 904.1C349.1 923.3 349 947.3 349 961.8C349.1 976.2 348.8 984.3 349.3 990.6C349.8 996.8 350.5 996.3 352.2 999.2C353.9 1002.1 357 1005.2 359.4 1007.9C361.8 1010.5 364.5 1012.9 366.6 1015.1C368.8 1017.2 372.1 1018.9 372.4 1020.8C372.6 1022.8 370 1024.4 368.1 1026.6C366.1 1028.8 363.5 1031.2 360.8 1033.8C358.2 1036.4 354.4 1039.6 352.2 1042.5C350 1045.3 348.6 1049.7 347.9 1051.1L347.9 1051.1C347.2 1049.7 345.7 1045.3 343.6 1042.5C341.4 1039.6 337.6 1036.4 334.9 1033.8C332.3 1031.2 329.6 1028.8 327.7 1026.6C325.8 1024.4 323.1 1022.8 323.4 1020.8C323.6 1018.9 327 1017.2 329.1 1015.1C331.3 1012.9 333.9 1010.5 336.4 1007.9C338.8 1005.2 341.9 1002.1 343.6 999.2C345.2 996.3 345.9 996.8 346.4 990.6C347 984.3 346.7 976.2 346.7 961.8C346.8 947.3 346.7 923.3 346.7 904.1C346.8 884.9 346.8 859.2 347 846.5C347.2 833.7 347.7 830.9 347.9 827.7Z" fill="none" stroke="#000" stroke-width="5" stroke-linejoin="round" stroke-linecap="round"/>
<path d="M269.5 989.1C271.4 990.8 277.4 996.1 281 999.2C284.6 1002.3 288.9 1005 291.1 1007.9C293.3 1010.7 295.2 1013.9 294 1016.5C292.8 1019.2 288 1021.8 283.9 1023.7C279.8 1025.6 271.9 1027.3 269.5 1028L269.5 1028C267.1 1027.3 259.2 1025.6 255.1 1023.7C251 1021.8 246.2 1019.2 245 1016.5C243.8 1013.9 245.7 1010.7 247.9 1007.9C250 1005 254.4 1002.3 258 999.2C261.6 996.1 267.6 990.8 269.5 989.1Z" fill="none" stroke="#000" stroke-width="5" stroke-linejoin="round" stroke-linecap="round"/>
<path d="M269.5 1000.7l-8 -14.4h16zM249.3 1012.2l-8 -14.4h16zM258 1012.2l-8 -14.4h16zM266.6 1012.2l-8 -14.4h16zM275.2 1012.2l-8 -14.4h16zM283.9 1012.2l-8 -14.4h16zM292.5 1012.2l-8 -14.4h16zM250.7 1023.7l-8 -14.4h16zM258.8 1023.7l-8 -14.4h16zM266.9 1023.7l-8 -14.4h16zM275 1023.7l-8 -14.4h16zM283 1023.7l-8 -14.4h16zM291.1 1023.7l-8 -14.4h16z" fill="#0000ff"/>
<path d="M347.9 850.8l8 14.4h-16zM347.9 862.9l8 14.4h-16zM347.9 875l8 14.4h-16zM347.9 887.1l8 14.4h-16zM347.9 899.2l8 14.4h-16zM347.9 911.3l8 14.4h-16zM347.9 923.4l8 14.4h-16zM347.9 935.5l8 14.4h-16zM347.9 947.6l8 14.4h-16zM347.9 959.7l8 14.4h-16zM347.9 971.8l8 14.4h-16zM347.9 984l8 14.4h-16zM327.1 1012.2l8 14.4h-16zM334.6 1012.2l8 14.4h-16zM342.1 1012.2l8 14.4h-16zM349.6 1012.2l8 14.4h-16zM357.1 1012.2l8 14.4h-16zM364.6 1012.2l8 14.4h-16z" fill="#ff0000"/>
<line x1="247.9" y1="1017.4" x2="291.1" y2="1017.4" stroke="#000" stroke-width="2.2" stroke-dasharray="6 3.5"/>
<line x1="322.8" y1="1018.5" x2="371.8" y2="1018.5" stroke="#000" stroke-width="2.2" stroke-dasharray="6 3.5"/>
<line x1="217.6" y1="816.8" x2="217.6" y2="1087" stroke="#000" stroke-width="5.5"/>
<line x1="214.8" y1="1084.2" x2="402" y2="1084.2" stroke="#000" stroke-width="5.5"/>
<line x1="206.3" y1="819" x2="217.6" y2="819" stroke="#000" stroke-width="5.5"/>
<text x="201.8" y="829.4" font-size="29" text-anchor="end">15</text>
<line x1="206.3" y1="886.2" x2="217.6" y2="886.2" stroke="#000" stroke-width="5.5"/>
<text x="201.8" y="896.6" font-size="29" text-anchor="end">10</text>
<line x1="206.3" y1="952.5" x2="217.6" y2="952.5" stroke="#000" stroke-width="5.5"/>
<text x="201.8" y="962.9" font-size="29" text-anchor="end">5</text>
<line x1="206.3" y1="1018.5" x2="217.6" y2="1018.5" stroke="#000" stroke-width="5.5"/>
<text x="201.8" y="1028.9" font-size="29" text-anchor="end">0</text>
<line x1="206.3" y1="1084.2" x2="217.6" y2="1084.2" stroke="#000" stroke-width="5.5"/>
<text x="201.8" y="1094.6" font-size="29" text-anchor="end">-5</text>
<line x1="269.5" y1="1084.2" x2="269.5" y2="1095.5" stroke="#000" stroke-width="5.5"/>
<line x1="347.9" y1="1084.2" x2="347.9" y2="1095.5" stroke="#000" stroke-width="5.5"/>
<line x1="262.3" y1="826.9" x2="334.3" y2="826.9" stroke="#000" stroke-width="5.5"/>
<line x1="262.3" y1="811.9" x2="262.3" y2="841.3" stroke="#000" stroke-width="5.5"/>
<line x1="334.3" y1="811.9" x2="334.3" y2="841.3" stroke="#000" stroke-width="5.5"/>
<text x="298.3" y="826.5" font-size="34" text-anchor="middle">***</text>
<text x="224.2" y="1054" font-size="27">n = 105</text>
<text x="310.7" y="1075.6" font-size="27">n = 105</text>
<text x="269.5" y="1123.7" font-size="27" text-anchor="middle">N</text>
<text x="347.9" y="1123.7" font-size="27" text-anchor="middle">T</text>
<text transform="translate(545 948) rotate(-90)" font-size="32" text-anchor="middle">Expression of <tspan font-style="italic">circE7</tspan></text>
<line x1="621.6" y1="1015.6" x2="793.1" y2="1015.6" stroke="#000" stroke-width="4" stroke-dasharray="0 10.3" stroke-linecap="round"/>
<path d="M664.2 993.5C664.7 994.4 665 997.3 667.1 999.2C669.3 1001.1 673.8 1003.1 677.2 1005C680.6 1006.9 685.5 1008.8 687.3 1010.7C689.1 1012.7 689.3 1014.6 687.9 1016.5C686.4 1018.4 681.9 1020.1 678.6 1022.3C675.4 1024.4 671 1026.8 668.6 1029.5C666.2 1032.1 665 1036.7 664.2 1038.1L664.2 1038.1C663.5 1036.7 662.3 1032.1 659.9 1029.5C657.5 1026.8 653 1024.4 649.8 1022.3C646.6 1020.1 642 1018.4 640.6 1016.5C639.2 1014.6 639.4 1012.7 641.2 1010.7C643 1008.8 647.9 1006.9 651.3 1005C654.6 1003.1 659.2 1001.1 661.4 999.2C663.5 997.3 663.8 994.4 664.2 993.5Z" fill="none" stroke="#000" stroke-width="5" stroke-linejoin="round" stroke-linecap="round"/>
<path d="M742.6 827.7C742.9 829.9 742.9 836.6 744.1 840.7C745.3 844.8 747.4 848.4 749.8 852.2C752.2 856.1 755.8 859.9 758.5 863.8C761.1 867.6 764.2 871.4 765.7 875.3C767.1 879.1 768.3 883.5 767.1 886.8C765.9 890.2 760.5 892.6 758.5 895.5C756.4 898.3 755.5 900.7 754.7 904.1C754 907.5 754 911.8 754.2 915.6C754.3 919.5 756.3 923.8 755.6 927.2C754.9 930.5 751.6 932.9 749.8 935.8C748.1 938.7 745.2 940.1 744.9 944.5C744.7 948.8 747.6 956 748.4 961.8C749.2 967.5 750.2 974.2 749.8 979C749.4 983.8 747 986.3 746.1 990.6C745.1 994.9 744.6 999.9 744.1 1005C743.5 1010 742.9 1018.2 742.6 1020.8L742.6 1020.8C742.4 1018.2 741.8 1010 741.2 1005C740.6 999.9 740.1 994.9 739.2 990.6C738.2 986.3 735.8 983.8 735.4 979C735 974.2 736 967.5 736.9 961.8C737.7 956 740.6 948.8 740.3 944.5C740.1 940.1 737.2 938.7 735.4 935.8C733.6 932.9 730.4 930.5 729.7 927.2C728.9 923.8 731 919.5 731.1 915.6C731.2 911.8 731.2 907.5 730.5 904.1C729.8 900.7 728.8 898.3 726.8 895.5C724.7 892.6 719.3 890.2 718.1 886.8C716.9 883.5 718.1 879.1 719.6 875.3C721 871.4 724.1 867.6 726.8 863.8C729.4 859.9 733 856.1 735.4 852.2C737.8 848.4 740 844.8 741.2 840.7C742.4 836.6 742.4 829.9 742.6 827.7Z" fill="none" stroke="#000" stroke-width="5" stroke-linejoin="round" stroke-linecap="round"/>
<path d="M643.2 1018.8l-8 -14.4h16zM647.8 1018.8l-8 -14.4h16zM652.4 1018.8l-8 -14.4h16zM657 1018.8l-8 -14.4h16zM661.6 1018.8l-8 -14.4h16zM666.3 1018.8l-8 -14.4h16zM670.9 1018.8l-8 -14.4h16zM675.5 1018.8l-8 -14.4h16zM680.1 1018.8l-8 -14.4h16zM684.7 1018.8l-8 -14.4h16zM643.2 1022.8l-8 -14.4h16zM647.8 1022.8l-8 -14.4h16zM652.4 1022.8l-8 -14.4h16zM657 1022.8l-8 -14.4h16zM661.6 1022.8l-8 -14.4h16zM666.3 1022.8l-8 -14.4h16zM670.9 1022.8l-8 -14.4h16zM675.5 1022.8l-8 -14.4h16zM680.1 1022.8l-8 -14.4h16zM684.7 1022.8l-8 -14.4h16zM643.2 1026.9l-8 -14.4h16zM647.8 1026.9l-8 -14.4h16zM652.4 1026.9l-8 -14.4h16zM657 1026.9l-8 -14.4h16zM661.6 1026.9l-8 -14.4h16zM666.3 1026.9l-8 -14.4h16zM670.9 1026.9l-8 -14.4h16zM675.5 1026.9l-8 -14.4h16zM680.1 1026.9l-8 -14.4h16zM684.7 1026.9l-8 -14.4h16z" fill="#0000ff"/>
<line x1="641.8" y1="1015.6" x2="687.9" y2="1015.6" stroke="#000" stroke-width="2.2" stroke-dasharray="6 3.5"/>
<path d="M742.6 850.8l8 14.4h-16zM734 862.3l8 14.4h-16zM751.3 862.3l8 14.4h-16zM723.9 878.2l8 14.4h-16zM742.6 878.2l8 14.4h-16zM762.8 878.2l8 14.4h-16zM732.5 888.3l8 14.4h-16zM751.3 889.7l8 14.4h-16zM742.6 896.9l8 14.4h-16zM729.7 904.1l8 14.4h-16zM742.6 915.6l8 14.4h-16zM752.7 918.5l8 14.4h-16zM734 918.5l8 14.4h-16zM742.6 956l8 14.4h-16zM749.8 969l8 14.4h-16zM736.9 981.9l8 14.4h-16z" fill="#ff0000"/>
<line x1="721" y1="885.4" x2="764.2" y2="885.4" stroke="#000" stroke-width="2.2" stroke-dasharray="0 5" stroke-linecap="round"/>
<line x1="731.1" y1="898.3" x2="754.2" y2="898.3" stroke="#000" stroke-width="2.2" stroke-dasharray="6 3.5"/>
<line x1="731.1" y1="924.3" x2="754.2" y2="924.3" stroke="#000" stroke-width="2.2" stroke-dasharray="0 5" stroke-linecap="round"/>
<line x1="612.3" y1="815.4" x2="612.3" y2="1084" stroke="#000" stroke-width="5.5"/>
<line x1="609.5" y1="1081.3" x2="797.4" y2="1081.3" stroke="#000" stroke-width="5.5"/>
<line x1="601" y1="817.6" x2="612.3" y2="817.6" stroke="#000" stroke-width="5.5"/>
<text x="596.5" y="828" font-size="29" text-anchor="end">15</text>
<line x1="601" y1="884.8" x2="612.3" y2="884.8" stroke="#000" stroke-width="5.5"/>
<text x="596.5" y="895.2" font-size="29" text-anchor="end">10</text>
<line x1="601" y1="950.2" x2="612.3" y2="950.2" stroke="#000" stroke-width="5.5"/>
<text x="596.5" y="960.6" font-size="29" text-anchor="end">5</text>
<line x1="601" y1="1015.6" x2="612.3" y2="1015.6" stroke="#000" stroke-width="5.5"/>
<text x="596.5" y="1026" font-size="29" text-anchor="end">0</text>
<line x1="601" y1="1081.3" x2="612.3" y2="1081.3" stroke="#000" stroke-width="5.5"/>
<text x="596.5" y="1091.7" font-size="29" text-anchor="end">-5</text>
<line x1="664.2" y1="1081.3" x2="664.2" y2="1092.5" stroke="#000" stroke-width="5.5"/>
<line x1="742.6" y1="1081.3" x2="742.6" y2="1092.5" stroke="#000" stroke-width="5.5"/>
<line x1="658" y1="826.9" x2="729.6" y2="826.9" stroke="#000" stroke-width="5.5"/>
<line x1="658" y1="812" x2="658" y2="841" stroke="#000" stroke-width="5.5"/>
<line x1="729.6" y1="812" x2="729.6" y2="841" stroke="#000" stroke-width="5.5"/>
<text x="693.8" y="826.5" font-size="34" text-anchor="middle">***</text>
<text x="619" y="1059" font-size="27">n = 88</text>
<text x="706.6" y="1074" font-size="27">n = 17</text>
<text x="664.2" y="1120.8" font-size="27" text-anchor="middle">HPV<tspan dy="-14" font-size="18">-</tspan></text>
<text x="742.6" y="1120.8" font-size="27" text-anchor="middle">HPV<tspan dy="-13" font-size="18">+</tspan></text>
<text transform="translate(888 951.6) rotate(-90)" font-size="33" text-anchor="middle">CD8<tspan dy="-16" font-size="22">+</tspan><tspan dy="16"> T cells</tspan></text>
<text transform="translate(928 949.3) rotate(-90)" font-size="33" text-anchor="middle">(cells per mm<tspan dy="-15" font-size="23">2</tspan><tspan dy="15">)</tspan></text>
<path d="M1058.1 819.1C1058.5 821.7 1059.4 830.4 1060.4 834.9C1061.4 839.5 1062.6 841.7 1063.9 846.5C1065.2 851.3 1067 858 1068.2 863.8C1069.4 869.5 1070.3 875.3 1071.1 881.1C1071.8 886.8 1072 892.6 1072.5 898.3C1073 904.1 1074.4 909.9 1073.9 915.6C1073.5 921.4 1071.5 927.6 1069.6 932.9C1067.7 938.2 1063.6 942.5 1062.4 947.3C1061.2 952.1 1061.5 957.4 1062.4 961.8C1063.4 966.1 1066.7 968.5 1068.2 973.3C1069.6 978.1 1070.3 984.8 1071.1 990.6C1071.8 996.3 1071.1 1002.1 1072.5 1007.9C1073.9 1013.6 1078 1020.4 1079.7 1025.2C1081.4 1030 1082.3 1032.8 1082.6 1036.7C1082.9 1040.5 1083.2 1044.4 1081.7 1048.2C1080.3 1052.1 1076.7 1055.9 1073.9 1059.7C1071.2 1063.6 1067.9 1067.8 1065.3 1071.3C1062.7 1074.7 1059.3 1079 1058.1 1080.5L1058.1 1080.5C1056.9 1079 1053.5 1074.7 1050.9 1071.3C1048.2 1067.8 1045 1063.6 1042.2 1059.7C1039.5 1055.9 1035.9 1052.1 1034.5 1048.2C1033 1044.4 1033.3 1040.5 1033.6 1036.7C1033.9 1032.8 1034.8 1030 1036.5 1025.2C1038.2 1020.4 1042.2 1013.6 1043.7 1007.9C1045.1 1002.1 1044.4 996.3 1045.1 990.6C1045.8 984.8 1046.6 978.1 1048 973.3C1049.4 968.5 1052.8 966.1 1053.8 961.8C1054.7 957.4 1055 952.1 1053.8 947.3C1052.6 942.5 1048.5 938.2 1046.6 932.9C1044.6 927.6 1042.7 921.4 1042.2 915.6C1041.8 909.9 1043.2 904.1 1043.7 898.3C1044.2 892.6 1044.4 886.8 1045.1 881.1C1045.8 875.3 1046.8 869.5 1048 863.8C1049.2 858 1051 851.3 1052.3 846.5C1053.6 841.7 1054.8 839.5 1055.8 834.9C1056.7 830.4 1057.7 821.7 1058.1 819.1Z" fill="none" stroke="#000" stroke-width="5" stroke-linejoin="round" stroke-linecap="round"/>
<path d="M1135.9 869.5C1136.3 871.9 1137.5 879.1 1138.2 883.9C1138.9 888.7 1139.9 892.6 1140.2 898.3C1140.6 904.1 1140.4 910.4 1140.2 918.5C1140.1 926.7 1139.5 937.7 1139.4 947.3C1139.2 956.9 1139 968 1139.4 976.2C1139.8 984.3 1140.1 990.1 1141.7 996.3C1143.3 1002.6 1146.5 1008.3 1148.9 1013.6C1151.3 1018.9 1154.2 1023.7 1156.1 1028C1158 1032.4 1159.4 1036.2 1160.4 1039.6C1161.4 1042.9 1162.1 1045.3 1161.9 1048.2C1161.6 1051.1 1160.9 1054 1159 1056.9C1157 1059.7 1153 1062.6 1150.3 1065.5C1147.7 1068.4 1145.5 1071.5 1143.1 1074.2C1140.7 1076.8 1137.1 1080.2 1135.9 1081.4L1135.9 1081.4C1134.7 1080.2 1131.1 1076.8 1128.7 1074.2C1126.3 1071.5 1124.1 1068.4 1121.5 1065.5C1118.9 1062.6 1114.8 1059.7 1112.9 1056.9C1110.9 1054 1110.2 1051.1 1110 1048.2C1109.7 1045.3 1110.5 1042.9 1111.4 1039.6C1112.4 1036.2 1113.8 1032.4 1115.7 1028C1117.7 1023.7 1120.5 1018.9 1122.9 1013.6C1125.3 1008.3 1128.6 1002.6 1130.1 996.3C1131.7 990.1 1132.1 984.3 1132.5 976.2C1132.8 968 1132.6 956.9 1132.5 947.3C1132.3 937.7 1131.7 926.7 1131.6 918.5C1131.4 910.4 1131.3 904.1 1131.6 898.3C1131.9 892.6 1132.9 888.7 1133.6 883.9C1134.3 879.1 1135.5 871.9 1135.9 869.5Z" fill="none" stroke="#000" stroke-width="5" stroke-linejoin="round" stroke-linecap="round"/>
<path d="M1058.4 846.3l-8 -14.4h16zM1058.9 847.8l-8 -14.4h16zM1051.5 865.9l-8 -14.4h16zM1062 855.3l-8 -14.4h16zM1054.6 859.6l-8 -14.4h16zM1057.4 889.6l-8 -14.4h16zM1057.6 886.9l-8 -14.4h16zM1051 883.4l-8 -14.4h16zM1065.5 883.4l-8 -14.4h16zM1063.7 898.7l-8 -14.4h16zM1047.9 901.3l-8 -14.4h16zM1060.2 902.8l-8 -14.4h16zM1047.5 894.9l-8 -14.4h16zM1057.4 904.7l-8 -14.4h16zM1067.7 919.4l-8 -14.4h16zM1068.8 919.3l-8 -14.4h16zM1065.6 913.8l-8 -14.4h16zM1069 914.7l-8 -14.4h16zM1047.7 922.2l-8 -14.4h16zM1051.2 909.3l-8 -14.4h16zM1056.9 941l-8 -14.4h16zM1053.9 935.1l-8 -14.4h16zM1055.6 933l-8 -14.4h16zM1060.1 930.3l-8 -14.4h16zM1066.8 934.4l-8 -14.4h16zM1062.3 951.4l-8 -14.4h16zM1061.8 953.9l-8 -14.4h16zM1054.7 951.2l-8 -14.4h16zM1060.8 968.4l-8 -14.4h16zM1059.1 980.8l-8 -14.4h16zM1054.3 978.6l-8 -14.4h16zM1059.6 996.3l-8 -14.4h16zM1050.3 986.8l-8 -14.4h16zM1068.4 996.7l-8 -14.4h16zM1063.1 983.5l-8 -14.4h16zM1049.9 1006.3l-8 -14.4h16zM1064.3 1004.3l-8 -14.4h16zM1046.5 1014.3l-8 -14.4h16zM1047 1009.8l-8 -14.4h16zM1053.9 1011.6l-8 -14.4h16zM1075.4 1031.7l-8 -14.4h16zM1073.9 1025.2l-8 -14.4h16zM1045.6 1021.9l-8 -14.4h16zM1042.7 1026.9l-8 -14.4h16zM1055.5 1019.9l-8 -14.4h16zM1046.8 1027.1l-8 -14.4h16zM1067.8 1017.2l-8 -14.4h16zM1076.1 1037.4l-8 -14.4h16zM1052.9 1044.1l-8 -14.4h16zM1058.9 1039.1l-8 -14.4h16zM1062 1041.2l-8 -14.4h16zM1063 1040.2l-8 -14.4h16zM1058.4 1044.6l-8 -14.4h16zM1066.9 1038.8l-8 -14.4h16zM1050.4 1036.5l-8 -14.4h16zM1059 1045.1l-8 -14.4h16zM1038.2 1040.1l-8 -14.4h16zM1061.5 1050.1l-8 -14.4h16zM1063.1 1045.6l-8 -14.4h16zM1039.6 1052.6l-8 -14.4h16zM1056.7 1052.6l-8 -14.4h16zM1051.9 1053.2l-8 -14.4h16zM1068.1 1053.5l-8 -14.4h16zM1039.1 1045.6l-8 -14.4h16zM1077.6 1053.1l-8 -14.4h16zM1056.2 1048.2l-8 -14.4h16zM1050.5 1052.2l-8 -14.4h16zM1051.2 1061.1l-8 -14.4h16zM1061.6 1061.1l-8 -14.4h16zM1053.5 1060.3l-8 -14.4h16zM1043.1 1065.8l-8 -14.4h16zM1066.2 1063.4l-8 -14.4h16zM1047.7 1060.4l-8 -14.4h16zM1049.9 1066.1l-8 -14.4h16zM1055.6 1059l-8 -14.4h16zM1051.4 1074.4l-8 -14.4h16zM1054.2 1071.2l-8 -14.4h16zM1057.2 1075.6l-8 -14.4h16zM1053.5 1075.8l-8 -14.4h16zM1061.5 1071.3l-8 -14.4h16z" fill="#0000ff"/>
<line x1="1048.9" y1="923.4" x2="1069" y2="923.4" stroke="#000" stroke-width="2.2" stroke-dasharray="0 5" stroke-linecap="round"/>
<line x1="1046" y1="1008.4" x2="1071.9" y2="1008.4" stroke="#000" stroke-width="2.2" stroke-dasharray="6 3.5"/>
<line x1="1037.3" y1="1041" x2="1077.7" y2="1041" stroke="#000" stroke-width="2.2" stroke-dasharray="0 5" stroke-linecap="round"/>
<path d="M1135.9 908.4l8 14.4h-16zM1135.9 932.9l8 14.4h-16zM1135.9 948.8l8 14.4h-16zM1135.9 973.3l8 14.4h-16zM1135.9 1012.2l8 14.4h-16zM1118 1045.3l8 14.4h-16zM1128.1 1036.7l8 14.4h-16zM1138.2 1035.3l8 14.4h-16zM1149.7 1039.6l8 14.4h-16zM1113.7 1052.5l8 14.4h-16zM1123.8 1051.1l8 14.4h-16zM1135.3 1052.5l8 14.4h-16zM1146.9 1051.1l8 14.4h-16zM1157.8 1051.1l8 14.4h-16zM1126.7 1057.4l8 14.4h-16zM1139.7 1057.4l8 14.4h-16zM1151.2 1056.9l8 14.4h-16z" fill="#ff0000"/>
<line x1="1115.2" y1="1048.2" x2="1155.5" y2="1048.2" stroke="#000" stroke-width="2.2" stroke-dasharray="6 3.5"/>
<line x1="1115.2" y1="1056.3" x2="1155.5" y2="1056.3" stroke="#000" stroke-width="2.2" stroke-dasharray="0 5" stroke-linecap="round"/>
<line x1="1007.1" y1="1080.5" x2="1190.1" y2="1080.5" stroke="#000" stroke-width="4" stroke-dasharray="0 10.3" stroke-linecap="round"/>
<line x1="1006.5" y1="816.8" x2="1006.5" y2="1085" stroke="#000" stroke-width="5.5"/>
<line x1="1003.8" y1="1082.2" x2="1190" y2="1082.2" stroke="#000" stroke-width="5.5"/>
<line x1="995.2" y1="819" x2="1006.5" y2="819" stroke="#000" stroke-width="5.5"/>
<text x="990.8" y="829.4" font-size="29" text-anchor="end">500</text>
<line x1="995.2" y1="872.4" x2="1006.5" y2="872.4" stroke="#000" stroke-width="5.5"/>
<text x="990.8" y="882.8" font-size="29" text-anchor="end">400</text>
<line x1="995.2" y1="924.3" x2="1006.5" y2="924.3" stroke="#000" stroke-width="5.5"/>
<text x="990.8" y="934.7" font-size="29" text-anchor="end">300</text>
<line x1="995.2" y1="975.6" x2="1006.5" y2="975.6" stroke="#000" stroke-width="5.5"/>
<text x="990.8" y="986" font-size="29" text-anchor="end">200</text>
<line x1="995.2" y1="1028" x2="1006.5" y2="1028" stroke="#000" stroke-width="5.5"/>
<text x="990.8" y="1038.4" font-size="29" text-anchor="end">100</text>
<line x1="995.2" y1="1080.5" x2="1006.5" y2="1080.5" stroke="#000" stroke-width="5.5"/>
<text x="990.8" y="1090.9" font-size="29" text-anchor="end">0</text>
<line x1="1058" y1="1082.2" x2="1058" y2="1093.5" stroke="#000" stroke-width="5.5"/>
<line x1="1135.9" y1="1082.2" x2="1135.9" y2="1093.5" stroke="#000" stroke-width="5.5"/>
<line x1="1073.3" y1="827.7" x2="1135.3" y2="827.7" stroke="#000" stroke-width="5.5"/>
<line x1="1073.3" y1="813.6" x2="1073.3" y2="842.1" stroke="#000" stroke-width="5.5"/>
<line x1="1135.3" y1="813.6" x2="1135.3" y2="842.1" stroke="#000" stroke-width="5.5"/>
<text x="1104.3" y="831" font-size="34" text-anchor="middle">*</text>
<text x="1011" y="799.8" font-size="27">n = 88</text>
<text x="1102" y="892.6" font-size="27">n = 17</text>
<text x="1058" y="1120.3" font-size="27" text-anchor="middle">HPV<tspan dy="-14" font-size="18">-</tspan></text>
<text x="1135.9" y="1120.3" font-size="27" text-anchor="middle">HPV<tspan dy="-13" font-size="18">+</tspan></text>
<line x1="1417.3" y1="811.2" x2="1417.3" y2="1047.1" stroke="#000" stroke-width="4.5"/>
<line x1="1417.3" y1="1044.9" x2="1669.6" y2="1044.9" stroke="#000" stroke-width="4.5"/>
<line x1="1407.8" y1="813.4" x2="1417.3" y2="813.4" stroke="#000" stroke-width="4.5"/>
<text x="1404.8" y="821.8" font-size="23.5" text-anchor="end">400</text>
<line x1="1407.8" y1="871.8" x2="1417.3" y2="871.8" stroke="#000" stroke-width="4.5"/>
<text x="1404.8" y="880.2" font-size="23.5" text-anchor="end">300</text>
<line x1="1407.8" y1="929.3" x2="1417.3" y2="929.3" stroke="#000" stroke-width="4.5"/>
<text x="1404.8" y="937.7" font-size="23.5" text-anchor="end">200</text>
<line x1="1407.8" y1="987" x2="1417.3" y2="987" stroke="#000" stroke-width="4.5"/>
<text x="1404.8" y="995.4" font-size="23.5" text-anchor="end">100</text>
<line x1="1407.8" y1="1044.9" x2="1417.3" y2="1044.9" stroke="#000" stroke-width="4.5"/>
<text x="1404.8" y="1053.3" font-size="23.5" text-anchor="end">0</text>
<line x1="1417.3" y1="1044.9" x2="1417.3" y2="1054.4" stroke="#000" stroke-width="4.5"/>
<text x="1417.3" y="1079" font-size="22.5" text-anchor="middle">0</text>
<line x1="1500.5" y1="1044.9" x2="1500.5" y2="1054.4" stroke="#000" stroke-width="4.5"/>
<text x="1500.5" y="1079" font-size="22.5" text-anchor="middle">4</text>
<line x1="1584" y1="1044.9" x2="1584" y2="1054.4" stroke="#000" stroke-width="4.5"/>
<text x="1584" y="1079" font-size="22.5" text-anchor="middle">8</text>
<line x1="1667.4" y1="1044.9" x2="1667.4" y2="1054.4" stroke="#000" stroke-width="4.5"/>
<text x="1667.4" y="1079" font-size="22.5" text-anchor="middle">12</text>
<line x1="1459" y1="904.3" x2="1667.4" y2="1032.2" stroke="#000" stroke-width="4.5"/>
<path d="M1459 881.9l6.2 11.2h-12.5zM1479.8 852.9l6.2 11.2h-12.5zM1500.7 928.2l6.2 11.2h-12.5zM1563.2 996.5l6.2 11.2h-12.5zM1563.2 1003.4l6.2 11.2h-12.5zM1563.2 1012.1l6.2 11.2h-12.5zM1584 1009.2l6.2 11.2h-12.5zM1604.9 971.6l6.2 11.2h-12.5zM1604.9 1006.3l6.2 11.2h-12.5zM1625.7 899.2l6.2 11.2h-12.5zM1625.7 1008.1l6.2 11.2h-12.5zM1625.7 1012.1l6.2 11.2h-12.5zM1625.7 1020.8l6.2 11.2h-12.5zM1625.7 1017.9l6.2 11.2h-12.5zM1646.5 1003.4l6.2 11.2h-12.5zM1646.5 1015l6.2 11.2h-12.5zM1667.4 994.7l6.2 11.2h-12.5z" fill="#ff0000"/>
<text x="1429" y="981" font-size="23.5">n = 17</text>
<text x="1429" y="1008" font-size="23.5"><tspan font-style="italic">P</tspan> = 0.0031</text>
<text x="1427" y="1035.5" font-size="23.5">R = 0.4930</text>
<text x="1543" y="1112.4" font-size="30" text-anchor="middle">Expression of <tspan font-style="italic">circE7</tspan></text>
<text transform="translate(1341 953.5) rotate(-90)" font-size="31" text-anchor="middle">CD8<tspan dy="-16" font-size="20">+</tspan><tspan dy="16"> T cells(cells per mm</tspan><tspan dy="-14" font-size="23">2</tspan><tspan dy="14">)</tspan></text>
<text transform="translate(97 1404.5) rotate(-90)" font-size="34.8" text-anchor="middle">Expression of <tspan font-style="italic">LGALS9</tspan></text>
<text transform="translate(141 1405.3) rotate(-90)" font-size="34.3" text-anchor="middle">(Relative to <tspan font-style="italic">GAPDH</tspan>)</text>
<path d="M229.1 1550V1308.9H260V1550" fill="none" stroke="#000" stroke-width="5.8" stroke-linejoin="miter"/>
<path d="M274.5 1550V1444.8H301.8V1550" fill="none" stroke="#ff0000" stroke-width="5.8" stroke-linejoin="miter"/>
<path d="M340.6 1550V1308.9H367.1V1550" fill="none" stroke="#000" stroke-width="5.8" stroke-linejoin="miter"/>
<path d="M384.8 1550V1488.9H412.1V1550" fill="none" stroke="#ff0000" stroke-width="5.8" stroke-linejoin="miter"/>
<line x1="244.5" y1="1306" x2="244.5" y2="1278.3" stroke="#000" stroke-width="5.3"/>
<line x1="235.5" y1="1278.3" x2="253.5" y2="1278.3" stroke="#000" stroke-width="5.9"/>
<line x1="353.7" y1="1306" x2="353.7" y2="1279.2" stroke="#000" stroke-width="5.3"/>
<line x1="344.7" y1="1279.2" x2="362.7" y2="1279.2" stroke="#000" stroke-width="5.9"/>
<line x1="288.1" y1="1441.9" x2="288.1" y2="1433.6" stroke="#ff0000" stroke-width="5.3"/>
<line x1="279.1" y1="1433.6" x2="297.1" y2="1433.6" stroke="#ff0000" stroke-width="5.9"/>
<line x1="397.8" y1="1486" x2="397.8" y2="1474.4" stroke="#ff0000" stroke-width="5.3"/>
<line x1="388.8" y1="1474.4" x2="406.8" y2="1474.4" stroke="#ff0000" stroke-width="5.9"/>
<circle cx="244.5" cy="1275.7" r="3.6" fill="#fff" stroke="#000" stroke-width="1.9"/>
<circle cx="244.5" cy="1311.9" r="3.6" fill="#fff" stroke="#000" stroke-width="1.9"/>
<circle cx="244.5" cy="1330.5" r="3.6" fill="#fff" stroke="#000" stroke-width="1.9"/>
<circle cx="353.7" cy="1275.1" r="3.6" fill="#fff" stroke="#000" stroke-width="1.9"/>
<circle cx="353.7" cy="1316.5" r="3.6" fill="#fff" stroke="#000" stroke-width="1.9"/>
<circle cx="353.7" cy="1324.7" r="3.6" fill="#fff" stroke="#000" stroke-width="1.9"/>
<circle cx="288.1" cy="1434.5" r="3.6" fill="#fff" stroke="#ff0000" stroke-width="1.9"/>
<circle cx="281.2" cy="1444.7" r="3.6" fill="#fff" stroke="#ff0000" stroke-width="1.9"/>
<circle cx="295" cy="1443.3" r="3.6" fill="#fff" stroke="#ff0000" stroke-width="1.9"/>
<circle cx="397.8" cy="1475" r="3.6" fill="#fff" stroke="#ff0000" stroke-width="1.9"/>
<circle cx="397.8" cy="1484.6" r="3.6" fill="#fff" stroke="#ff0000" stroke-width="1.9"/>
<circle cx="397.8" cy="1493.7" r="3.6" fill="#fff" stroke="#ff0000" stroke-width="1.9"/>
<text transform="translate(306.9 1376.6) rotate(-90)" font-size="38" text-anchor="end">***</text>
<text transform="translate(417.4 1419.1) rotate(-90)" font-size="38" text-anchor="end">***</text>
<line x1="218.7" y1="1255" x2="218.7" y2="1552.8" stroke="#000" stroke-width="5.5"/>
<line x1="215.9" y1="1550" x2="426" y2="1550" stroke="#000" stroke-width="5.5"/>
<line x1="207.4" y1="1257.2" x2="218.7" y2="1257.2" stroke="#000" stroke-width="5.5"/>
<text x="202.9" y="1268.1" font-size="30.5" text-anchor="end">1.2</text>
<line x1="207.4" y1="1306.8" x2="218.7" y2="1306.8" stroke="#000" stroke-width="5.5"/>
<text x="202.9" y="1317.7" font-size="30.5" text-anchor="end">1.0</text>
<line x1="207.4" y1="1355.9" x2="218.7" y2="1355.9" stroke="#000" stroke-width="5.5"/>
<text x="202.9" y="1366.8" font-size="30.5" text-anchor="end">0.8</text>
<line x1="207.4" y1="1404.1" x2="218.7" y2="1404.1" stroke="#000" stroke-width="5.5"/>
<text x="202.9" y="1415" font-size="30.5" text-anchor="end">0.6</text>
<line x1="207.4" y1="1452.9" x2="218.7" y2="1452.9" stroke="#000" stroke-width="5.5"/>
<text x="202.9" y="1463.8" font-size="30.5" text-anchor="end">0.4</text>
<line x1="207.4" y1="1501.2" x2="218.7" y2="1501.2" stroke="#000" stroke-width="5.5"/>
<text x="202.9" y="1512.1" font-size="30.5" text-anchor="end">0.2</text>
<line x1="207.4" y1="1550" x2="218.7" y2="1550" stroke="#000" stroke-width="5.5"/>
<text x="202.9" y="1560.9" font-size="30.5" text-anchor="end">0.0</text>
<line x1="265.2" y1="1550" x2="265.2" y2="1561.2" stroke="#000" stroke-width="5.5"/>
<line x1="375" y1="1550" x2="375" y2="1561.2" stroke="#000" stroke-width="5.5"/>
<rect x="241.4" y="1222.9" width="30" height="10.7" fill="none" stroke="#000" stroke-width="5.8"/>
<rect x="240.2" y="1247.7" width="33.7" height="13.4" fill="none" stroke="#ff0000" stroke-width="5.8"/>
<text x="299" y="1237.9" font-size="30.5">Vector</text>
<text x="299" y="1263.5" font-size="30.5" font-style="italic">circE7</text>
<text x="265.2" y="1592.2" font-size="30" text-anchor="middle">CAL27</text>
<text x="375" y="1592.2" font-size="30" text-anchor="middle">HN30</text>
<path d="M478 1548.5V1452.4H502.3V1548.5" fill="none" stroke="#000" stroke-width="5.8" stroke-linejoin="miter"/>
<path d="M514.4 1548.5V1336.3H539.4V1548.5" fill="none" stroke="#9ac2f2" stroke-width="5.8" stroke-linejoin="miter"/>
<path d="M551.2 1548.5V1368.9H576.2V1548.5" fill="none" stroke="#55a0f7" stroke-width="5.8" stroke-linejoin="miter"/>
<path d="M588.3 1548.5V1443.1H612.6V1548.5" fill="none" stroke="#0000ff" stroke-width="5.8" stroke-linejoin="miter"/>
<path d="M643.5 1548.5V1452.4H667.7V1548.5" fill="none" stroke="#000" stroke-width="5.8" stroke-linejoin="miter"/>
<path d="M680.3 1548.5V1378.4H704.6V1548.5" fill="none" stroke="#9ac2f2" stroke-width="5.8" stroke-linejoin="miter"/>
<path d="M716.6 1548.5V1355.9H741.7V1548.5" fill="none" stroke="#55a0f7" stroke-width="5.8" stroke-linejoin="miter"/>
<path d="M753.2 1548.5V1416H778V1548.5" fill="none" stroke="#0000ff" stroke-width="5.8" stroke-linejoin="miter"/>
<line x1="526.5" y1="1333.4" x2="526.5" y2="1313.4" stroke="#9ac2f2" stroke-width="5.3"/>
<line x1="518.5" y1="1313.4" x2="534.5" y2="1313.4" stroke="#9ac2f2" stroke-width="5.9"/>
<line x1="563.6" y1="1366" x2="563.6" y2="1354.2" stroke="#55a0f7" stroke-width="5.3"/>
<line x1="555.6" y1="1354.2" x2="571.6" y2="1354.2" stroke="#55a0f7" stroke-width="5.9"/>
<line x1="599.9" y1="1440.2" x2="599.9" y2="1427.7" stroke="#0000ff" stroke-width="5.3"/>
<line x1="591.9" y1="1427.7" x2="607.9" y2="1427.7" stroke="#0000ff" stroke-width="5.9"/>
<line x1="655.6" y1="1449.5" x2="655.6" y2="1435.7" stroke="#000" stroke-width="5.3"/>
<line x1="647.6" y1="1435.7" x2="663.6" y2="1435.7" stroke="#000" stroke-width="5.9"/>
<line x1="692.4" y1="1375.5" x2="692.4" y2="1356.7" stroke="#9ac2f2" stroke-width="5.3"/>
<line x1="684.4" y1="1356.7" x2="700.4" y2="1356.7" stroke="#9ac2f2" stroke-width="5.9"/>
<line x1="729" y1="1353" x2="729" y2="1324.2" stroke="#55a0f7" stroke-width="5.3"/>
<line x1="721" y1="1324.2" x2="737" y2="1324.2" stroke="#55a0f7" stroke-width="5.9"/>
<line x1="765.4" y1="1413.1" x2="765.4" y2="1406.9" stroke="#0000ff" stroke-width="5.3"/>
<line x1="757.4" y1="1406.9" x2="773.4" y2="1406.9" stroke="#0000ff" stroke-width="5.9"/>
<circle cx="478.1" cy="1449.5" r="3.6" fill="#fff" stroke="#000" stroke-width="1.9"/>
<circle cx="490.7" cy="1448.2" r="3.6" fill="#fff" stroke="#000" stroke-width="1.9"/>
<circle cx="502.2" cy="1449.5" r="3.6" fill="#fff" stroke="#000" stroke-width="1.9"/>
<circle cx="519" cy="1318.4" r="3.6" fill="#fff" stroke="#9ac2f2" stroke-width="1.9"/>
<circle cx="534" cy="1325.4" r="3.6" fill="#fff" stroke="#9ac2f2" stroke-width="1.9"/>
<circle cx="526.5" cy="1352.5" r="3.6" fill="#fff" stroke="#9ac2f2" stroke-width="1.9"/>
<circle cx="563.6" cy="1355" r="3.6" fill="#fff" stroke="#55a0f7" stroke-width="1.9"/>
<circle cx="556.6" cy="1373.5" r="3.6" fill="#fff" stroke="#55a0f7" stroke-width="1.9"/>
<circle cx="570.4" cy="1368" r="3.6" fill="#fff" stroke="#55a0f7" stroke-width="1.9"/>
<circle cx="599.9" cy="1426.9" r="3.6" fill="#fff" stroke="#0000ff" stroke-width="1.9"/>
<circle cx="592.9" cy="1447" r="3.6" fill="#fff" stroke="#0000ff" stroke-width="1.9"/>
<circle cx="606.7" cy="1444.5" r="3.6" fill="#fff" stroke="#0000ff" stroke-width="1.9"/>
<circle cx="655.6" cy="1438.2" r="3.6" fill="#fff" stroke="#000" stroke-width="1.9"/>
<circle cx="655.6" cy="1445.7" r="3.6" fill="#fff" stroke="#000" stroke-width="1.9"/>
<circle cx="655.6" cy="1463.3" r="3.6" fill="#fff" stroke="#000" stroke-width="1.9"/>
<circle cx="692.4" cy="1356.7" r="3.6" fill="#fff" stroke="#9ac2f2" stroke-width="1.9"/>
<circle cx="692.4" cy="1374.3" r="3.6" fill="#fff" stroke="#9ac2f2" stroke-width="1.9"/>
<circle cx="692.4" cy="1393.1" r="3.6" fill="#fff" stroke="#9ac2f2" stroke-width="1.9"/>
<circle cx="729" cy="1319.9" r="3.6" fill="#fff" stroke="#55a0f7" stroke-width="1.9"/>
<circle cx="722" cy="1368" r="3.6" fill="#fff" stroke="#55a0f7" stroke-width="1.9"/>
<circle cx="736.3" cy="1368" r="3.6" fill="#fff" stroke="#55a0f7" stroke-width="1.9"/>
<circle cx="758.3" cy="1408.9" r="3.6" fill="#fff" stroke="#0000ff" stroke-width="1.9"/>
<circle cx="772.9" cy="1408.9" r="3.6" fill="#fff" stroke="#0000ff" stroke-width="1.9"/>
<circle cx="765.4" cy="1419.4" r="3.6" fill="#fff" stroke="#0000ff" stroke-width="1.9"/>
<text transform="translate(545.9 1356.1) rotate(-90)" font-size="38" text-anchor="end">***</text>
<text transform="translate(582.7 1381.2) rotate(-90)" font-size="38" text-anchor="end">***</text>
<text transform="translate(713.3 1411.2) rotate(-90)" font-size="38" text-anchor="end">**</text>
<text transform="translate(750.2 1379.9) rotate(-90)" font-size="38" text-anchor="end">**</text>
<text transform="translate(784.7 1432.5) rotate(-90)" font-size="38" text-anchor="end">**</text>
<line x1="467.6" y1="1246.8" x2="467.6" y2="1551.2" stroke="#000" stroke-width="5.5"/>
<line x1="464.9" y1="1548.5" x2="789.7" y2="1548.5" stroke="#000" stroke-width="5.5"/>
<line x1="456.4" y1="1249" x2="467.6" y2="1249" stroke="#000" stroke-width="5.5"/>
<text x="451.9" y="1259.9" font-size="30.5" text-anchor="end">3</text>
<line x1="456.4" y1="1348.5" x2="467.6" y2="1348.5" stroke="#000" stroke-width="5.5"/>
<text x="451.9" y="1359.4" font-size="30.5" text-anchor="end">2</text>
<line x1="456.4" y1="1449.5" x2="467.6" y2="1449.5" stroke="#000" stroke-width="5.5"/>
<text x="451.9" y="1460.4" font-size="30.5" text-anchor="end">1</text>
<line x1="456.4" y1="1548.5" x2="467.6" y2="1548.5" stroke="#000" stroke-width="5.5"/>
<text x="451.9" y="1559.4" font-size="30.5" text-anchor="end">0</text>
<line x1="459.8" y1="1299" x2="467.6" y2="1299" stroke="#000" stroke-width="5.5"/>
<line x1="459.8" y1="1399" x2="467.6" y2="1399" stroke="#000" stroke-width="5.5"/>
<line x1="459.8" y1="1499" x2="467.6" y2="1499" stroke="#000" stroke-width="5.5"/>
<line x1="544.6" y1="1548.5" x2="544.6" y2="1559.8" stroke="#000" stroke-width="5.5"/>
<line x1="710" y1="1548.5" x2="710" y2="1559.8" stroke="#000" stroke-width="5.5"/>
<rect x="480" y="1201.7" width="33" height="12.5" fill="none" stroke="#000" stroke-width="5.8"/>
<rect x="480" y="1229.3" width="33" height="13" fill="none" stroke="#9ac2f2" stroke-width="5.8"/>
<rect x="480" y="1255.6" width="33" height="11.7" fill="none" stroke="#55a0f7" stroke-width="5.8"/>
<rect x="480" y="1282.7" width="33" height="12.7" fill="none" stroke="#0000ff" stroke-width="5.8"/>
<text x="540.3" y="1218.1" font-size="30.5">NC</text>
<text x="540.3" y="1245.2" font-size="30.5" font-style="italic">sicircE7-1</text>
<text x="540.3" y="1271.5" font-size="30.5" font-style="italic">sicircE7-2</text>
<text x="540.3" y="1298.3" font-size="30.5" font-style="italic">sicircE7-3</text>
<text x="544.6" y="1591" font-size="30" text-anchor="middle">SCC090</text>
<text x="710" y="1591" font-size="30" text-anchor="middle">SCC154</text>
<defs><filter id="b2" x="-50%" y="-50%" width="200%" height="200%"><feGaussianBlur stdDeviation="2"/></filter><filter id="b4" x="-50%" y="-50%" width="200%" height="200%"><feGaussianBlur stdDeviation="4"/></filter><filter id="b7" x="-50%" y="-50%" width="200%" height="200%"><feGaussianBlur stdDeviation="7"/></filter><filter id="nz" x="0" y="0" width="100%" height="100%"><feTurbulence type="fractalNoise" baseFrequency="0.9" numOctaves="1" seed="3" result="t"/><feColorMatrix type="matrix" values="0 0 0 0 0  0 0 0 0 0  0 0 0 0 0  0 0 0 0.16 0"/></filter></defs>
<text x="976" y="1274.7" font-size="32.5">CAL27</text>
<line x1="976" y1="1287.8" x2="1078" y2="1287.8" stroke="#000" stroke-width="5"/>
<text x="1114" y="1274.7" font-size="32.5">HN30</text>
<line x1="1103" y1="1287.8" x2="1204" y2="1287.8" stroke="#000" stroke-width="5"/>
<text x="1276.5" y="1223.4" font-size="33">SCC090</text>
<line x1="1246" y1="1233.3" x2="1437.7" y2="1233.3" stroke="#000" stroke-width="5"/>
<text x="1520" y="1223.4" font-size="33">SCC154</text>
<line x1="1495.4" y1="1233.3" x2="1686.8" y2="1233.3" stroke="#000" stroke-width="5"/>
<text transform="translate(1001.9 1393.5) rotate(-90)" font-size="28">vector</text>
<text transform="translate(1069.2 1393.5) rotate(-90)" font-size="28" font-style="italic">circE7</text>
<text transform="translate(1127.2 1393.5) rotate(-90)" font-size="28">vector</text>
<text transform="translate(1191.2 1393.5) rotate(-90)" font-size="28" font-style="italic">circE7</text>
<text transform="translate(1254.2 1393.5) rotate(-90)" font-size="29.5">NC</text>
<text transform="translate(1311.1 1393.5) rotate(-90)" font-size="29.5" font-style="italic">sicircE7-1</text>
<text transform="translate(1371.7 1393.5) rotate(-90)" font-size="29.5" font-style="italic">sicircE7-2</text>
<text transform="translate(1433.7 1393.5) rotate(-90)" font-size="29.5" font-style="italic">sicircE7-3</text>
<text transform="translate(1503.3 1393.5) rotate(-90)" font-size="29.5">NC</text>
<text transform="translate(1560.2 1393.5) rotate(-90)" font-size="29.5" font-style="italic">sicircE7-1</text>
<text transform="translate(1620.7 1393.5) rotate(-90)" font-size="29.5" font-style="italic">sicircE7-2</text>
<text transform="translate(1683 1393.5) rotate(-90)" font-size="29.5" font-style="italic">sicircE7-3</text>
<text x="811" y="1434.5" font-size="30">Galectin-9</text>
<text x="831" y="1596.4" font-size="29.7">β-tubulin</text>
<text x="1712.5" y="1444" font-size="24" textLength="53" lengthAdjust="spacingAndGlyphs">40kD</text>
<text x="1712.5" y="1522.3" font-size="24" textLength="53" lengthAdjust="spacingAndGlyphs">15kD</text>
<text x="1712.5" y="1606" font-size="24" textLength="53" lengthAdjust="spacingAndGlyphs">55kD</text>
<text x="959.9" y="1553.9" font-size="27">1.0</text>
<text x="1012.6" y="1553.9" font-size="27">0.29</text>
<text x="1080.5" y="1553.9" font-size="27">0.84</text>
<text x="1148.5" y="1553.9" font-size="27">0.12</text>
<text x="1216.3" y="1553.9" font-size="27">1.0</text>
<text x="1269.5" y="1553.9" font-size="27">1.42</text>
<text x="1335.5" y="1553.9" font-size="27">1.40</text>
<text x="1404.9" y="1553.9" font-size="27">1.66</text>
<text x="1470.5" y="1553.9" font-size="27">1.0</text>
<text x="1525.2" y="1553.9" font-size="27">1.76</text>
<text x="1593.5" y="1553.9" font-size="27">1.33</text>
<text x="1659.4" y="1553.9" font-size="27">2.03</text>
<clipPath id="cb1"><rect x="959.5" y="1397.7" width="240.7" height="132.9"/></clipPath>
<g clip-path="url(#cb1)">
<rect x="959.5" y="1397.7" width="240.7" height="132.9" fill="#d6d6d6"/>
<rect x="960" y="1399" width="240" height="44" rx="3" fill="#c2c2c2" fill-opacity="0.9" filter="url(#b4)"/>
<rect x="975" y="1402" width="47" height="14" rx="3" fill="#606060" fill-opacity="0.8" filter="url(#b4)"/>
<path d="M979 1410L1017 1411L1023.7 1434.7L1008 1445L984 1443L971.8 1434.7Z" fill="#000" fill-opacity="1" filter="url(#b2)"/>
<rect x="1033.3" y="1403" width="44.7" height="31" rx="3" fill="#a4a4a4" fill-opacity="0.8" filter="url(#b4)"/>
<rect x="1033.3" y="1435.3" width="44.7" height="2.4" rx="3" fill="#888" fill-opacity="0.9" filter="url(#b2)"/>
<rect x="1087.6" y="1403" width="49.5" height="40" rx="3" fill="#5a5a5a" fill-opacity="0.8" filter="url(#b4)"/>
<rect x="1090.8" y="1427" width="40" height="15" rx="3" fill="#222" fill-opacity="0.8" filter="url(#b2)"/>
<rect x="1145" y="1404.4" width="48" height="31" rx="3" fill="#b2b2b2" fill-opacity="0.8" filter="url(#b4)"/>
<rect x="1145" y="1435.3" width="48" height="2.4" rx="3" fill="#999" fill-opacity="0.9" filter="url(#b2)"/>
<rect x="974.2" y="1511.4" width="40" height="11" rx="3" fill="#a6a6a6" fill-opacity="0.9" filter="url(#b4)"/>
<rect x="1092" y="1480" width="36" height="35" rx="3" fill="#c2c2c2" fill-opacity="0.8" filter="url(#b7)"/>
<rect x="1089" y="1511.4" width="41.7" height="12.8" rx="3" fill="#999" fill-opacity="0.9" filter="url(#b4)"/>
<rect x="959.5" y="1397.7" width="240.7" height="132.9" filter="url(#nz)"/>
</g>
<rect x="961" y="1399.2" width="237.8" height="130" fill="none" stroke="#000" stroke-width="2.9"/>
<clipPath id="cb2"><rect x="959.5" y="1559.4" width="240.7" height="63.9"/></clipPath>
<g clip-path="url(#cb2)">
<rect x="959.5" y="1559.4" width="240.7" height="63.9" fill="#9d9d9d"/>
<rect x="960" y="1560" width="240" height="16" rx="3" fill="#a8a8a8" fill-opacity="1" filter="url(#b4)"/>
<rect x="967.8" y="1581.7" width="45.5" height="12" rx="3" fill="#000" fill-opacity="1" filter="url(#b2)"/>
<path d="M1027.7 1584L1060 1585L1074 1589L1074 1595L1060 1595L1027.7 1593Z" fill="#080808" fill-opacity="1" filter="url(#b2)"/>
<rect x="1086.8" y="1585.7" width="46.3" height="11" rx="3" fill="#000" fill-opacity="1" filter="url(#b2)"/>
<path d="M1146.7 1589L1175 1591L1194.6 1592L1194.6 1599L1175 1598L1146.7 1597Z" fill="#000" fill-opacity="1" filter="url(#b2)"/>
<rect x="959.5" y="1559.4" width="240.7" height="63.9" filter="url(#nz)"/>
</g>
<rect x="961" y="1560.9" width="237.8" height="61" fill="none" stroke="#000" stroke-width="2.9"/>
<clipPath id="cb3"><rect x="1211.3" y="1398.9" width="240.5" height="130.3"/></clipPath>
<g clip-path="url(#cb3)">
<rect x="1211.3" y="1398.9" width="240.5" height="130.3" fill="#cfcfcf"/>
<rect x="1219.2" y="1402.7" width="47.5" height="34.8" rx="3" fill="#b2b2b2" fill-opacity="0.8" filter="url(#b4)"/>
<rect x="1215" y="1436.5" width="235" height="2.5" rx="3" fill="#8a8a8a" fill-opacity="0.8" filter="url(#b2)"/>
<rect x="1279.4" y="1402.7" width="47.4" height="41" rx="3" fill="#7c7c7c" fill-opacity="0.8" filter="url(#b4)"/>
<rect x="1337.9" y="1402.7" width="44.3" height="41" rx="3" fill="#727272" fill-opacity="0.8" filter="url(#b4)"/>
<rect x="1393.3" y="1402.7" width="55.4" height="41" rx="3" fill="#464646" fill-opacity="0.8" filter="url(#b4)"/>
<rect x="1420" y="1406" width="22" height="34" rx="3" fill="#080808" fill-opacity="0.8" filter="url(#b4)"/>
<rect x="1281" y="1486" width="168" height="26" rx="3" fill="#bababa" fill-opacity="0.8" filter="url(#b7)"/>
<rect x="1281" y="1511.8" width="45" height="11" rx="3" fill="#858585" fill-opacity="0.9" filter="url(#b4)"/>
<rect x="1338" y="1511.8" width="45" height="11" rx="3" fill="#858585" fill-opacity="0.9" filter="url(#b4)"/>
<rect x="1393" y="1511.8" width="55" height="11" rx="3" fill="#858585" fill-opacity="0.9" filter="url(#b4)"/>
<rect x="1211.3" y="1398.9" width="240.5" height="130.3" filter="url(#nz)"/>
</g>
<rect x="1212.8" y="1400.4" width="237.6" height="127.4" fill="none" stroke="#000" stroke-width="2.9"/>
<clipPath id="cb4"><rect x="1211.3" y="1560.3" width="240.5" height="62.3"/></clipPath>
<g clip-path="url(#cb4)">
<rect x="1211.3" y="1560.3" width="240.5" height="62.3" fill="#a2a2a2"/>
<rect x="1212" y="1561" width="240" height="15" rx="3" fill="#acacac" fill-opacity="1" filter="url(#b4)"/>
<rect x="1219.2" y="1584.6" width="45.9" height="8.5" rx="3" fill="#000" fill-opacity="1" filter="url(#b2)"/>
<rect x="1276.2" y="1584.2" width="49.1" height="9.5" rx="3" fill="#000" fill-opacity="1" filter="url(#b2)"/>
<rect x="1334.7" y="1584.6" width="50.7" height="9" rx="3" fill="#000" fill-opacity="1" filter="url(#b2)"/>
<rect x="1393.3" y="1584.2" width="52.2" height="10" rx="3" fill="#000" fill-opacity="1" filter="url(#b2)"/>
<rect x="1211.3" y="1560.3" width="240.5" height="62.3" filter="url(#nz)"/>
</g>
<rect x="1212.8" y="1561.8" width="237.6" height="59.4" fill="none" stroke="#000" stroke-width="2.9"/>
<clipPath id="cb5"><rect x="1463.9" y="1398.9" width="240.5" height="130.3"/></clipPath>
<g clip-path="url(#cb5)">
<rect x="1463.9" y="1398.9" width="240.5" height="130.3" fill="#d7d7d7"/>
<rect x="1467.7" y="1418.5" width="49" height="22" rx="3" fill="#bababa" fill-opacity="0.8" filter="url(#b4)"/>
<rect x="1467.7" y="1437" width="49" height="2.5" rx="3" fill="#8a8a8a" fill-opacity="0.9" filter="url(#b2)"/>
<rect x="1527.8" y="1409" width="45.9" height="33" rx="3" fill="#484848" fill-opacity="0.9" filter="url(#b4)"/>
<rect x="1528.8" y="1436" width="44" height="6" rx="3" fill="#000" fill-opacity="0.9" filter="url(#b2)"/>
<rect x="1588" y="1415.3" width="45.8" height="25" rx="3" fill="#9e9e9e" fill-opacity="0.8" filter="url(#b4)"/>
<rect x="1588" y="1437" width="45.8" height="2.5" rx="3" fill="#7a7a7a" fill-opacity="0.9" filter="url(#b2)"/>
<rect x="1646.5" y="1409" width="49" height="35" rx="3" fill="#363636" fill-opacity="0.9" filter="url(#b4)"/>
<rect x="1647.5" y="1434" width="47" height="8" rx="3" fill="#000" fill-opacity="0.9" filter="url(#b2)"/>
<rect x="1524.6" y="1510.3" width="49" height="8" rx="3" fill="#b2b2b2" fill-opacity="0.9" filter="url(#b4)"/>
<rect x="1648" y="1470" width="45" height="40" rx="3" fill="#cccccc" fill-opacity="0.8" filter="url(#b7)"/>
<rect x="1646.5" y="1510.3" width="49" height="10" rx="3" fill="#a2a2a2" fill-opacity="0.9" filter="url(#b4)"/>
<rect x="1463.9" y="1398.9" width="240.5" height="130.3" filter="url(#nz)"/>
</g>
<rect x="1465.4" y="1400.4" width="237.6" height="127.4" fill="none" stroke="#000" stroke-width="2.9"/>
<clipPath id="cb6"><rect x="1463.9" y="1560.3" width="240.5" height="62.3"/></clipPath>
<g clip-path="url(#cb6)">
<rect x="1463.9" y="1560.3" width="240.5" height="62.3" fill="#cdcdcd"/>
<rect x="1470.8" y="1583.7" width="49.1" height="15" rx="3" fill="#000" fill-opacity="1" filter="url(#b2)"/>
<rect x="1529.4" y="1583.2" width="49" height="16" rx="3" fill="#000" fill-opacity="1" filter="url(#b2)"/>
<rect x="1588" y="1583.7" width="49" height="14" rx="3" fill="#000" fill-opacity="1" filter="url(#b2)"/>
<rect x="1646.5" y="1585" width="49" height="13.5" rx="3" fill="#000" fill-opacity="1" filter="url(#b2)"/>
<rect x="1538" y="1600" width="30" height="18" rx="3" fill="#acacac" fill-opacity="0.7" filter="url(#b4)"/>
<rect x="1463.9" y="1560.3" width="240.5" height="62.3" filter="url(#nz)"/>
</g>
<rect x="1465.4" y="1561.8" width="237.6" height="59.4" fill="none" stroke="#000" stroke-width="2.9"/>
<path d="M279.4 1748.8L279.4 1748.4L280.9 1748.4L282.4 1748.4L283.9 1748.4L285.4 1748.4L286.9 1748.4L288.4 1748.4L289.9 1748.4L291.4 1748.4L292.9 1748.4L294.4 1748.4L295.9 1748.4L297.4 1748.4L298.9 1748.4L300.4 1748.4L301.9 1748.4L303.4 1748.4L304.9 1748.4L306.4 1748.4L307.9 1748.4L309.4 1748.4L310.9 1748.4L312.4 1748.4L313.9 1748.4L315.4 1748.4L316.9 1748.4L318.4 1748.4L319.9 1748.4L321.4 1748.4L322.9 1748.4L324.4 1748.4L325.9 1748.4L327.4 1748.3L328.9 1748.3L330.4 1748.2L331.9 1748.2L333.4 1748.1L334.9 1748.1L336.4 1748L337.9 1747.9L339.4 1747.9L340.9 1747.8L342.4 1747.7L343.9 1747.6L345.4 1747.5L346.9 1747.5L348.4 1747.4L349.9 1747.7L351.4 1746.8L352.9 1746.8L354.4 1747.3L355.9 1746.9L357.4 1746.9L358.9 1746.6L360.4 1746.3L361.9 1747.1L363.4 1747.1L364.9 1746L366.4 1746.4L367.9 1745.9L369.4 1746.8L370.9 1746.2L372.4 1745.8L373.9 1746.3L375.4 1745.4L376.9 1745.4L378.4 1746.4L379.9 1746.4L381.4 1745.8L382.9 1745.3L384.4 1745.9L385.9 1746.1L387.4 1745.9L388.9 1746.3L390.4 1746.1L391.9 1745.8L393.4 1745.6L394.9 1745.8L396.4 1745.6L397.9 1745.4L399.4 1744.7L400.9 1744.4L402.4 1744.1L403.9 1742.3L405.4 1741.7L406.9 1740.6L408.4 1739.9L409.9 1737.8L411.4 1736.8L412.9 1736.6L414.4 1735.4L415.9 1734.2L417.4 1733.8L418.9 1733.3L420.4 1733.9L421.9 1733.6L423.4 1734L424.9 1734.7L426.4 1734.4L427.9 1733.9L429.4 1733.4L430.9 1732.8L432.4 1731.4L433.9 1730.5L435.4 1728.5L436.9 1726.1L438.4 1724.9L439.9 1723.8L441.4 1722.3L442.9 1721.4L444.4 1721L445.9 1721.2L447.4 1721.1L448.9 1721L450.4 1720.7L451.9 1721.1L453.4 1721.2L454.9 1721.1L456.4 1721.7L457.9 1721.8L459.4 1721.4L460.9 1721.8L462.4 1723.3L463.9 1724.9L465.4 1726.8L466.9 1728.2L468.4 1729.6L469.9 1731.9L471.4 1734.2L472.9 1735.8L474.4 1738.5L475.9 1739.9L477.4 1740.9L478.9 1742.8L480.4 1744.1L481.9 1745.3L483.4 1745.9L484.9 1746.1L486.4 1747.7L487.9 1747.6L489.4 1747.9L490.9 1748.2L492.4 1748.4L493.9 1748.4L495.4 1748.4L496.9 1748.4L498.4 1748.4L499.9 1748.4L501.4 1748.4L502.9 1748.4L504.4 1748.4L505.9 1748.4L507.4 1748.4L508.9 1748.4L510.4 1748.4L511.9 1748.4L513.4 1748.4L514.9 1748.4L516.4 1748.4L517.9 1748.4L519.4 1748.4L520.9 1748.4L522.4 1748.4L523.9 1748.4L525.4 1748.4L526.9 1748.4L528.4 1748.4L529.9 1748.4L531.4 1748.4L532.9 1748.4L534.4 1748.4L535.9 1748.4L537.4 1748.4L538.9 1748.4L540.4 1748.4L541.9 1748.4L543.4 1748.4L544.9 1748.4L545.1 1748.8Z" fill="#000"/>
<line x1="278.4" y1="1748.8" x2="546.1" y2="1748.8" stroke="#000" stroke-width="1.2"/>
<path d="M279.4 1793.7L279.4 1793.3L280.9 1793.3L282.4 1793.3L283.9 1793.3L285.4 1793.3L286.9 1793.3L288.4 1793.3L289.9 1793.3L291.4 1793.3L292.9 1793.3L294.4 1793.3L295.9 1793.3L297.4 1793.3L298.9 1793.3L300.4 1793.3L301.9 1793.3L303.4 1793.3L304.9 1793.3L306.4 1793.3L307.9 1793.3L309.4 1793.3L310.9 1793.3L312.4 1793.3L313.9 1793.3L315.4 1793.3L316.9 1793.3L318.4 1793.3L319.9 1793.3L321.4 1793.3L322.9 1793.3L324.4 1793.3L325.9 1793.3L327.4 1793.3L328.9 1793.2L330.4 1793.1L331.9 1793L333.4 1792.9L334.9 1792.8L336.4 1792.7L337.9 1792.6L339.4 1792.5L340.9 1792.3L342.4 1791.6L343.9 1791.4L345.4 1792.3L346.9 1792.1L348.4 1791L349.9 1790.9L351.4 1790.7L352.9 1790.9L354.4 1790.3L355.9 1790L357.4 1789.6L358.9 1789.7L360.4 1788.8L361.9 1788.2L363.4 1787.1L364.9 1785.9L366.4 1784.8L367.9 1784L369.4 1782.6L370.9 1781.1L372.4 1779.5L373.9 1777.3L375.4 1774.4L376.9 1772.1L378.4 1769.4L379.9 1766.2L381.4 1764.1L382.9 1761.7L384.4 1760L385.9 1758.5L387.4 1756.8L388.9 1756.1L390.4 1755.4L391.9 1755L393.4 1756L394.9 1757.6L396.4 1758.1L397.9 1759.9L399.4 1762L400.9 1764L402.4 1766.5L403.9 1768.9L405.4 1771.8L406.9 1773.5L408.4 1775.9L409.9 1779.1L411.4 1780.5L412.9 1782.4L414.4 1784.5L415.9 1786L417.4 1787.4L418.9 1788L420.4 1789.6L421.9 1790L423.4 1791.3L424.9 1791.2L426.4 1791.7L427.9 1792.5L429.4 1792.8L430.9 1793L432.4 1793.2L433.9 1793.3L435.4 1793.3L436.9 1793.3L438.4 1793.3L439.9 1793.3L441.4 1793.3L442.9 1793.3L444.4 1793.3L445.9 1793.3L447.4 1793.3L448.9 1793.3L450.4 1793.3L451.9 1793.3L453.4 1793.3L454.9 1793.3L456.4 1793.3L457.9 1793.3L459.4 1793.3L460.9 1793.3L462.4 1793.3L463.9 1793.3L465.4 1793.3L466.9 1793.3L468.4 1793.3L469.9 1793.3L471.4 1793.3L472.9 1793.3L474.4 1793.3L475.9 1793.3L477.4 1793.3L478.9 1793.3L480.4 1793.3L481.9 1793.3L483.4 1793.3L484.9 1793.3L486.4 1793.3L487.9 1793.3L489.4 1793.3L490.9 1793.3L492.4 1793.3L493.9 1793.3L495.4 1793.3L496.9 1793.3L498.4 1793.3L499.9 1793.3L501.4 1793.3L502.9 1793.3L504.4 1793.3L505.9 1793.3L507.4 1793.3L508.9 1793.3L510.4 1793.3L511.9 1793.3L513.4 1793.3L514.9 1793.3L516.4 1793.3L517.9 1793.3L519.4 1793.3L520.9 1793.3L522.4 1793.3L523.9 1793.3L525.4 1793.3L526.9 1793.3L528.4 1793.3L529.9 1793.3L531.4 1793.3L532.9 1793.3L534.4 1793.3L535.9 1793.3L537.4 1793.3L538.9 1793.3L540.4 1793.3L541.9 1793.3L543.4 1793.3L544.9 1793.3L545.1 1793.7Z" fill="#ff0000"/>
<line x1="278.4" y1="1793.7" x2="546.1" y2="1793.7" stroke="#ff0000" stroke-width="1.2"/>
<path d="M279.4 1837.2L279.4 1836.8L280.9 1836.8L282.4 1836.8L283.9 1836.8L285.4 1836.8L286.9 1836.8L288.4 1836.8L289.9 1836.8L291.4 1836.8L292.9 1836.8L294.4 1836.8L295.9 1836.8L297.4 1836.8L298.9 1836.8L300.4 1836.8L301.9 1836.8L303.4 1836.8L304.9 1836.8L306.4 1836.8L307.9 1836.8L309.4 1836.8L310.9 1836.8L312.4 1836.7L313.9 1836.7L315.4 1836.7L316.9 1836.6L318.4 1836.6L319.9 1836.5L321.4 1836.5L322.9 1836.4L324.4 1836.4L325.9 1836.3L327.4 1836.2L328.9 1836.2L330.4 1836.1L331.9 1836L333.4 1836L334.9 1835.9L336.4 1835.8L337.9 1835.7L339.4 1836L340.9 1835.5L342.4 1835.7L343.9 1835.3L345.4 1835.2L346.9 1835.8L348.4 1835.8L349.9 1834.7L351.4 1835.3L352.9 1835.3L354.4 1834.3L355.9 1834.9L357.4 1834.4L358.9 1834.7L360.4 1834.5L361.9 1835L363.4 1834.4L364.9 1834L366.4 1834.4L367.9 1834.1L369.4 1834.1L370.9 1834.8L372.4 1834L373.9 1834.1L375.4 1834.5L376.9 1834.8L378.4 1833.8L379.9 1834.2L381.4 1833.9L382.9 1833.8L384.4 1834L385.9 1833.7L387.4 1834.4L388.9 1834L390.4 1834.4L391.9 1833.9L393.4 1834L394.9 1834.9L396.4 1834.9L397.9 1834.8L399.4 1833.9L400.9 1834.5L402.4 1834.1L403.9 1834.4L405.4 1833.9L406.9 1833.7L408.4 1833.4L409.9 1832.6L411.4 1832.1L412.9 1831.1L414.4 1830.6L415.9 1829.6L417.4 1828.9L418.9 1827.9L420.4 1827.5L421.9 1827.3L423.4 1825.8L424.9 1824.9L426.4 1824.3L427.9 1823.9L429.4 1823L430.9 1822.7L432.4 1820.8L433.9 1819.9L435.4 1818.8L436.9 1817.4L438.4 1814.7L439.9 1812.5L441.4 1811.5L442.9 1808.6L444.4 1807.1L445.9 1805.7L447.4 1804L448.9 1802.4L450.4 1801.6L451.9 1802.4L453.4 1802L454.9 1803.4L456.4 1803.7L457.9 1805.7L459.4 1806.9L460.9 1808.8L462.4 1811.7L463.9 1813.5L465.4 1816.8L466.9 1819.5L468.4 1821.2L469.9 1824.2L471.4 1826L472.9 1827.7L474.4 1829.1L475.9 1831.1L477.4 1832.5L478.9 1832.6L480.4 1834.2L481.9 1834.2L483.4 1834.8L484.9 1835.8L486.4 1836.1L487.9 1836.4L489.4 1836.6L490.9 1836.8L492.4 1836.8L493.9 1836.8L495.4 1836.8L496.9 1836.8L498.4 1836.8L499.9 1836.8L501.4 1836.8L502.9 1836.8L504.4 1836.8L505.9 1836.8L507.4 1836.8L508.9 1836.8L510.4 1836.8L511.9 1836.8L513.4 1836.8L514.9 1836.8L516.4 1836.8L517.9 1836.8L519.4 1836.8L520.9 1836.8L522.4 1836.8L523.9 1836.8L525.4 1836.8L526.9 1836.8L528.4 1836.8L529.9 1836.8L531.4 1836.8L532.9 1836.8L534.4 1836.8L535.9 1836.8L537.4 1836.8L538.9 1836.8L540.4 1836.8L541.9 1836.8L543.4 1836.8L544.9 1836.8L545.1 1837.2Z" fill="#000"/>
<line x1="278.4" y1="1837.2" x2="546.1" y2="1837.2" stroke="#000" stroke-width="1.2"/>
<path d="M279.4 1881.4L279.4 1881L280.9 1881L282.4 1881L283.9 1881L285.4 1881L286.9 1881L288.4 1881L289.9 1881L291.4 1881L292.9 1881L294.4 1881L295.9 1881L297.4 1881L298.9 1881L300.4 1881L301.9 1881L303.4 1881L304.9 1881L306.4 1881L307.9 1881L309.4 1881L310.9 1881L312.4 1881L313.9 1881L315.4 1881L316.9 1881L318.4 1881L319.9 1881L321.4 1880.9L322.9 1880.8L324.4 1880.7L325.9 1880.6L327.4 1880.4L328.9 1880.3L330.4 1880.1L331.9 1879.9L333.4 1880L334.9 1880L336.4 1879.4L337.9 1879.4L339.4 1879.3L340.9 1878.6L342.4 1877.8L343.9 1877.6L345.4 1877.4L346.9 1877.7L348.4 1877L349.9 1877L351.4 1876.8L352.9 1876.5L354.4 1875.9L355.9 1874.5L357.4 1874L358.9 1873.3L360.4 1872.4L361.9 1872.1L363.4 1870.8L364.9 1869L366.4 1867.2L367.9 1865.2L369.4 1863.1L370.9 1861.9L372.4 1858.9L373.9 1856.4L375.4 1854.2L376.9 1852.3L378.4 1849.8L379.9 1848.4L381.4 1845.9L382.9 1844.9L384.4 1844.7L385.9 1844.9L387.4 1844.5L388.9 1845.8L390.4 1846.7L391.9 1848.4L393.4 1850.7L394.9 1853.1L396.4 1855.2L397.9 1857.9L399.4 1860.8L400.9 1863.1L402.4 1864.9L403.9 1868.1L405.4 1870.2L406.9 1871.5L408.4 1873.6L409.9 1874.8L411.4 1876.2L412.9 1877.4L414.4 1877.5L415.9 1879.2L417.4 1879.6L418.9 1880L420.4 1880.3L421.9 1880.6L423.4 1880.8L424.9 1881L426.4 1881L427.9 1881L429.4 1881L430.9 1881L432.4 1881L433.9 1881L435.4 1881L436.9 1881L438.4 1881L439.9 1881L441.4 1881L442.9 1881L444.4 1881L445.9 1881L447.4 1881L448.9 1881L450.4 1881L451.9 1881L453.4 1881L454.9 1881L456.4 1881L457.9 1881L459.4 1881L460.9 1881L462.4 1881L463.9 1881L465.4 1881L466.9 1881L468.4 1881L469.9 1881L471.4 1881L472.9 1881L474.4 1881L475.9 1881L477.4 1881L478.9 1881L480.4 1881L481.9 1881L483.4 1881L484.9 1881L486.4 1881L487.9 1881L489.4 1881L490.9 1881L492.4 1881L493.9 1881L495.4 1881L496.9 1881L498.4 1881L499.9 1881L501.4 1881L502.9 1881L504.4 1881L505.9 1881L507.4 1881L508.9 1881L510.4 1881L511.9 1881L513.4 1881L514.9 1881L516.4 1881L517.9 1881L519.4 1881L520.9 1881L522.4 1881L523.9 1881L525.4 1881L526.9 1881L528.4 1881L529.9 1881L531.4 1881L532.9 1881L534.4 1881L535.9 1881L537.4 1881L538.9 1881L540.4 1881L541.9 1881L543.4 1881L544.9 1881L545.1 1881.4Z" fill="#ff0000"/>
<line x1="278.4" y1="1881.4" x2="546.1" y2="1881.4" stroke="#ff0000" stroke-width="1.2"/>
<path d="M279.4 1921.8L279.4 1921.4L280.9 1921.4L282.4 1921.4L283.9 1921.4L285.4 1921.4L286.9 1921.4L288.4 1921.4L289.9 1921.4L291.4 1921.4L292.9 1921.4L294.4 1921.4L295.9 1921.4L297.4 1921.4L298.9 1921.4L300.4 1921.4L301.9 1921.4L303.4 1921.4L304.9 1921.4L306.4 1921.4L307.9 1921.4L309.4 1921.4L310.9 1921.4L312.4 1921.4L313.9 1921.4L315.4 1921.4L316.9 1921.4L318.4 1921.4L319.9 1921.4L321.4 1921.4L322.9 1921.4L324.4 1921.4L325.9 1921.4L327.4 1921.4L328.9 1921.4L330.4 1921.4L331.9 1921.4L333.4 1921.4L334.9 1921.4L336.4 1921.4L337.9 1921.4L339.4 1921.4L340.9 1921.4L342.4 1921.4L343.9 1921.4L345.4 1921.4L346.9 1921.4L348.4 1921.4L349.9 1921.4L351.4 1921.4L352.9 1921.4L354.4 1921.4L355.9 1921.3L357.4 1921.1L358.9 1920.9L360.4 1920.6L361.9 1920.1L363.4 1919.5L364.9 1919L366.4 1918.2L367.9 1917.7L369.4 1916.7L370.9 1916.9L372.4 1915.3L373.9 1913.6L375.4 1912.8L376.9 1911.2L378.4 1910.8L379.9 1909L381.4 1907.8L382.9 1906L384.4 1904.4L385.9 1903.6L387.4 1901.8L388.9 1900.3L390.4 1898L391.9 1896.7L393.4 1896L394.9 1893.9L396.4 1893.4L397.9 1891.7L399.4 1891.2L400.9 1890.5L402.4 1888.7L403.9 1889L405.4 1888.7L406.9 1887.8L408.4 1888.2L409.9 1889.5L411.4 1889.6L412.9 1891.4L414.4 1892.8L415.9 1895.3L417.4 1896.4L418.9 1898.9L420.4 1900.8L421.9 1903.2L423.4 1906.1L424.9 1908.2L426.4 1910.4L427.9 1912.3L429.4 1914.1L430.9 1915.3L432.4 1916.2L433.9 1918L435.4 1918.1L436.9 1919.3L438.4 1919.9L439.9 1919.8L441.4 1920.6L442.9 1920.9L444.4 1921.2L445.9 1921.3L447.4 1921.4L448.9 1921.4L450.4 1921.4L451.9 1921.4L453.4 1921.4L454.9 1921.4L456.4 1921.4L457.9 1921.4L459.4 1921.4L460.9 1921.4L462.4 1921.4L463.9 1921.4L465.4 1921.4L466.9 1921.4L468.4 1921.4L469.9 1921.4L471.4 1921.4L472.9 1921.4L474.4 1921.4L475.9 1921.4L477.4 1921.4L478.9 1921.4L480.4 1921.4L481.9 1921.4L483.4 1921.4L484.9 1921.4L486.4 1921.4L487.9 1921.4L489.4 1921.4L490.9 1921.4L492.4 1921.4L493.9 1921.4L495.4 1921.4L496.9 1921.4L498.4 1921.4L499.9 1921.4L501.4 1921.4L502.9 1921.4L504.4 1921.4L505.9 1921.4L507.4 1921.4L508.9 1921.4L510.4 1921.4L511.9 1921.4L513.4 1921.4L514.9 1921.4L516.4 1921.4L517.9 1921.4L519.4 1921.4L520.9 1921.4L522.4 1921.4L523.9 1921.4L525.4 1921.4L526.9 1921.4L528.4 1921.4L529.9 1921.4L531.4 1921.4L532.9 1921.4L534.4 1921.4L535.9 1921.4L537.4 1921.4L538.9 1921.4L540.4 1921.4L541.9 1921.4L543.4 1921.4L544.9 1921.4L545.1 1921.8Z" fill="#b4b4b4"/>
<line x1="278.4" y1="1921.8" x2="546.1" y2="1921.8" stroke="#ddd" stroke-width="1.2"/>
<path d="M279.4 1962.8L279.4 1962.4L280.9 1962.4L282.4 1962.4L283.9 1962.4L285.4 1962.4L286.9 1962.4L288.4 1962.4L289.9 1962.4L291.4 1962.4L292.9 1962.4L294.4 1962.4L295.9 1962.4L297.4 1962.4L298.9 1962.4L300.4 1962.4L301.9 1962.4L303.4 1962.4L304.9 1962.4L306.4 1962.4L307.9 1962.4L309.4 1962.4L310.9 1962.4L312.4 1962.4L313.9 1962.4L315.4 1962.4L316.9 1962.4L318.4 1962.4L319.9 1962.4L321.4 1962.4L322.9 1962.4L324.4 1962.4L325.9 1962.4L327.4 1962.4L328.9 1962.4L330.4 1962.4L331.9 1962.4L333.4 1962.4L334.9 1962.4L336.4 1962.4L337.9 1962.4L339.4 1962.4L340.9 1962.4L342.4 1962.4L343.9 1962.4L345.4 1962.4L346.9 1962.4L348.4 1962.4L349.9 1962.3L351.4 1962.3L352.9 1962.2L354.4 1962.1L355.9 1962.1L357.4 1962L358.9 1961.9L360.4 1961.8L361.9 1961.8L363.4 1961.7L364.9 1961.6L366.4 1961.5L367.9 1961.4L369.4 1961.3L370.9 1960.9L372.4 1960.8L373.9 1961.1L375.4 1961.2L376.9 1961.5L378.4 1960.6L379.9 1960.8L381.4 1960.3L382.9 1960.7L384.4 1960.2L385.9 1960.7L387.4 1960L388.9 1960.1L390.4 1960.4L391.9 1960.3L393.4 1960.1L394.9 1960.6L396.4 1960.2L397.9 1959.9L399.4 1960.5L400.9 1959.9L402.4 1959.9L403.9 1959.7L405.4 1960.2L406.9 1960.3L408.4 1959.2L409.9 1958.9L411.4 1958.9L412.9 1958.8L414.4 1958L415.9 1956.7L417.4 1956.2L418.9 1954.3L420.4 1953.6L421.9 1952.9L423.4 1951.1L424.9 1950.2L426.4 1948.2L427.9 1947L429.4 1946.2L430.9 1944.9L432.4 1943.8L433.9 1942.6L435.4 1941.3L436.9 1941.4L438.4 1940L439.9 1938.6L441.4 1937.9L442.9 1936.5L444.4 1936.1L445.9 1934.2L447.4 1933.9L448.9 1933.7L450.4 1932.7L451.9 1933L453.4 1933.4L454.9 1933.4L456.4 1934.5L457.9 1935.2L459.4 1935.4L460.9 1936.7L462.4 1938.9L463.9 1939.4L465.4 1941.8L466.9 1943.1L468.4 1944L469.9 1946L471.4 1948L472.9 1949.5L474.4 1951.1L475.9 1952.8L477.4 1953.1L478.9 1955.5L480.4 1956.2L481.9 1956.8L483.4 1958.1L484.9 1958.2L486.4 1959.8L487.9 1959.5L489.4 1960.1L490.9 1960.8L492.4 1961.4L493.9 1961.7L495.4 1961.9L496.9 1962.1L498.4 1962.3L499.9 1962.4L501.4 1962.4L502.9 1962.4L504.4 1962.4L505.9 1962.4L507.4 1962.4L508.9 1962.4L510.4 1962.4L511.9 1962.4L513.4 1962.4L514.9 1962.4L516.4 1962.4L517.9 1962.4L519.4 1962.4L520.9 1962.4L522.4 1962.4L523.9 1962.4L525.4 1962.4L526.9 1962.4L528.4 1962.4L529.9 1962.4L531.4 1962.4L532.9 1962.4L534.4 1962.4L535.9 1962.4L537.4 1962.4L538.9 1962.4L540.4 1962.4L541.9 1962.4L543.4 1962.4L544.9 1962.4L545.1 1962.8Z" fill="#0000ff"/>
<line x1="278.4" y1="1962.8" x2="546.1" y2="1962.8" stroke="#0000ff" stroke-width="1.2"/>
<path d="M279.4 2003.9L279.4 2003.5L280.9 2003.5L282.4 2003.5L283.9 2003.5L285.4 2003.5L286.9 2003.5L288.4 2003.5L289.9 2003.5L291.4 2003.5L292.9 2003.5L294.4 2003.5L295.9 2003.5L297.4 2003.5L298.9 2003.5L300.4 2003.5L301.9 2003.5L303.4 2003.5L304.9 2003.5L306.4 2003.5L307.9 2003.5L309.4 2003.5L310.9 2003.5L312.4 2003.5L313.9 2003.5L315.4 2003.5L316.9 2003.5L318.4 2003.5L319.9 2003.5L321.4 2003.5L322.9 2003.5L324.4 2003.5L325.9 2003.5L327.4 2003.5L328.9 2003.5L330.4 2003.5L331.9 2003.5L333.4 2003.5L334.9 2003.5L336.4 2003.5L337.9 2003.5L339.4 2003.5L340.9 2003.5L342.4 2003.5L343.9 2003.4L345.4 2003.2L346.9 2002.9L348.4 2002.6L349.9 2002.4L351.4 2002.1L352.9 2000.9L354.4 2000.9L355.9 1999.5L357.4 1998.6L358.9 1997.8L360.4 1995.9L361.9 1995L363.4 1992.8L364.9 1991.4L366.4 1989.4L367.9 1987L369.4 1984.3L370.9 1983.1L372.4 1980.8L373.9 1978.3L375.4 1976L376.9 1974.8L378.4 1973.6L379.9 1971.7L381.4 1972L382.9 1970.6L384.4 1971.2L385.9 1971.4L387.4 1971.6L388.9 1971.6L390.4 1971.3L391.9 1972.4L393.4 1972.4L394.9 1972.8L396.4 1973.8L397.9 1974.2L399.4 1975.5L400.9 1976.3L402.4 1976.9L403.9 1977.2L405.4 1978.4L406.9 1979.5L408.4 1980.1L409.9 1981.2L411.4 1982.4L412.9 1982.8L414.4 1983.9L415.9 1985.5L417.4 1986L418.9 1987.1L420.4 1987.6L421.9 1988.7L423.4 1990.2L424.9 1990.2L426.4 1992.1L427.9 1992.6L429.4 1992.9L430.9 1994.4L432.4 1994.6L433.9 1995.8L435.4 1995.6L436.9 1996L438.4 1996.6L439.9 1996.7L441.4 1997.6L442.9 1997.4L444.4 1997.7L445.9 1997.9L447.4 1998.1L448.9 1997.7L450.4 1997.6L451.9 1998.2L453.4 1998L454.9 1998.8L456.4 1998L457.9 1998.2L459.4 1997.9L460.9 1998.3L462.4 1999.2L463.9 1999.4L465.4 1999.4L466.9 2000.6L468.4 2000.5L469.9 2001.3L471.4 2001.8L472.9 2002.3L474.4 2001.8L475.9 2002.5L477.4 2002.8L478.9 2003L480.4 2003.2L481.9 2003.4L483.4 2003.5L484.9 2003.5L486.4 2003.5L487.9 2003.5L489.4 2003.5L490.9 2003.5L492.4 2003.5L493.9 2003.5L495.4 2003.5L496.9 2003.5L498.4 2003.5L499.9 2003.5L501.4 2003.5L502.9 2003.5L504.4 2003.5L505.9 2003.5L507.4 2003.5L508.9 2003.5L510.4 2003.5L511.9 2003.5L513.4 2003.5L514.9 2003.5L516.4 2003.5L517.9 2003.5L519.4 2003.5L520.9 2003.5L522.4 2003.5L523.9 2003.5L525.4 2003.5L526.9 2003.5L528.4 2003.5L529.9 2003.5L531.4 2003.5L532.9 2003.5L534.4 2003.5L535.9 2003.5L537.4 2003.5L538.9 2003.5L540.4 2003.5L541.9 2003.5L543.4 2003.5L544.9 2003.5L545.1 2003.9Z" fill="#b4b4b4"/>
<line x1="278.4" y1="2003.9" x2="546.1" y2="2003.9" stroke="#ddd" stroke-width="1.2"/>
<path d="M279.4 2043.5L279.4 2043.1L280.9 2043.1L282.4 2043.1L283.9 2043.1L285.4 2043.1L286.9 2043.1L288.4 2043.1L289.9 2043.1L291.4 2043.1L292.9 2043.1L294.4 2043.1L295.9 2043.1L297.4 2043.1L298.9 2043.1L300.4 2043.1L301.9 2043.1L303.4 2043.1L304.9 2043.1L306.4 2043.1L307.9 2043.1L309.4 2043.1L310.9 2043.1L312.4 2043.1L313.9 2043.1L315.4 2043.1L316.9 2043.1L318.4 2043.1L319.9 2043.1L321.4 2043.1L322.9 2043.1L324.4 2043.1L325.9 2043.1L327.4 2043.1L328.9 2043.1L330.4 2043.1L331.9 2043.1L333.4 2043.1L334.9 2043.1L336.4 2043.1L337.9 2043.1L339.4 2043.1L340.9 2043.1L342.4 2043.1L343.9 2043.1L345.4 2043.1L346.9 2043.1L348.4 2043.1L349.9 2043.1L351.4 2043.1L352.9 2043.1L354.4 2043.1L355.9 2043.1L357.4 2043L358.9 2043L360.4 2042.9L361.9 2042.9L363.4 2042.8L364.9 2042.8L366.4 2042.7L367.9 2042.6L369.4 2042.6L370.9 2042.5L372.4 2042.4L373.9 2042.3L375.4 2042.3L376.9 2042.2L378.4 2042.1L379.9 2042.1L381.4 2042.3L382.9 2041.4L384.4 2042.3L385.9 2041.5L387.4 2042.2L388.9 2042L390.4 2041L391.9 2041.9L393.4 2041.3L394.9 2041.5L396.4 2041.4L397.9 2041.3L399.4 2041.5L400.9 2040.6L402.4 2041.3L403.9 2041L405.4 2041L406.9 2040.4L408.4 2039.8L409.9 2038.7L411.4 2038.8L412.9 2038.5L414.4 2037.6L415.9 2035.8L417.4 2036L418.9 2034.3L420.4 2033.4L421.9 2031.8L423.4 2030.9L424.9 2029.1L426.4 2027.9L427.9 2026.3L429.4 2024.5L430.9 2023.5L432.4 2022.5L433.9 2021.2L435.4 2018.7L436.9 2018L438.4 2017.1L439.9 2015.1L441.4 2014.6L442.9 2013.7L444.4 2012.9L445.9 2013.2L447.4 2013L448.9 2012.5L450.4 2013.8L451.9 2013.6L453.4 2015.1L454.9 2015.3L456.4 2016.3L457.9 2017.2L459.4 2018.5L460.9 2020.3L462.4 2022.1L463.9 2023.7L465.4 2024.7L466.9 2026.3L468.4 2028.3L469.9 2028.8L471.4 2030.8L472.9 2031.9L474.4 2033.8L475.9 2035L477.4 2036.4L478.9 2037.1L480.4 2038.1L481.9 2038.8L483.4 2039.6L484.9 2039.7L486.4 2040.2L487.9 2041.6L489.4 2041.7L490.9 2042.3L492.4 2042.2L493.9 2042.5L495.4 2042.7L496.9 2042.9L498.4 2043L499.9 2043.1L501.4 2043.1L502.9 2043.1L504.4 2043.1L505.9 2043.1L507.4 2043.1L508.9 2043.1L510.4 2043.1L511.9 2043.1L513.4 2043.1L514.9 2043.1L516.4 2043.1L517.9 2043.1L519.4 2043.1L520.9 2043.1L522.4 2043.1L523.9 2043.1L525.4 2043.1L526.9 2043.1L528.4 2043.1L529.9 2043.1L531.4 2043.1L532.9 2043.1L534.4 2043.1L535.9 2043.1L537.4 2043.1L538.9 2043.1L540.4 2043.1L541.9 2043.1L543.4 2043.1L544.9 2043.1L545.1 2043.5Z" fill="#0000ff"/>
<line x1="278.4" y1="2043.5" x2="546.1" y2="2043.5" stroke="#0000ff" stroke-width="1.2"/>
<line x1="278.4" y1="1881.8" x2="546.1" y2="1881.8" stroke="#000" stroke-width="1.6"/>
<rect x="278.4" y="1705" width="267.7" height="339.4" fill="none" stroke="#222" stroke-width="1.3"/>
<line x1="338" y1="2044.4" x2="338" y2="2049.2" stroke="#000" stroke-width="1.6"/>
<line x1="409" y1="2044.4" x2="409" y2="2049.2" stroke="#000" stroke-width="1.6"/>
<line x1="477.7" y1="2044.4" x2="477.7" y2="2049.2" stroke="#000" stroke-width="1.6"/>
<line x1="544.8" y1="2044.4" x2="544.8" y2="2049.2" stroke="#000" stroke-width="1.6"/>
<line x1="429.7" y1="2044.4" x2="429.7" y2="2046.9" stroke="#000" stroke-width="1"/>
<line x1="441.8" y1="2044.4" x2="441.8" y2="2046.9" stroke="#000" stroke-width="1"/>
<line x1="450.4" y1="2044.4" x2="450.4" y2="2046.9" stroke="#000" stroke-width="1"/>
<line x1="457" y1="2044.4" x2="457" y2="2046.9" stroke="#000" stroke-width="1"/>
<line x1="462.5" y1="2044.4" x2="462.5" y2="2046.9" stroke="#000" stroke-width="1"/>
<line x1="467.1" y1="2044.4" x2="467.1" y2="2046.9" stroke="#000" stroke-width="1"/>
<line x1="471" y1="2044.4" x2="471" y2="2046.9" stroke="#000" stroke-width="1"/>
<line x1="474.6" y1="2044.4" x2="474.6" y2="2046.9" stroke="#000" stroke-width="1"/>
<line x1="497.9" y1="2044.4" x2="497.9" y2="2046.9" stroke="#000" stroke-width="1"/>
<line x1="509.7" y1="2044.4" x2="509.7" y2="2046.9" stroke="#000" stroke-width="1"/>
<line x1="518.1" y1="2044.4" x2="518.1" y2="2046.9" stroke="#000" stroke-width="1"/>
<line x1="524.6" y1="2044.4" x2="524.6" y2="2046.9" stroke="#000" stroke-width="1"/>
<line x1="529.9" y1="2044.4" x2="529.9" y2="2046.9" stroke="#000" stroke-width="1"/>
<line x1="534.4" y1="2044.4" x2="534.4" y2="2046.9" stroke="#000" stroke-width="1"/>
<line x1="538.3" y1="2044.4" x2="538.3" y2="2046.9" stroke="#000" stroke-width="1"/>
<line x1="541.7" y1="2044.4" x2="541.7" y2="2046.9" stroke="#000" stroke-width="1"/>
<line x1="284" y1="2044.4" x2="284" y2="2046.9" stroke="#000" stroke-width="1"/>
<line x1="290" y1="2044.4" x2="290" y2="2046.9" stroke="#000" stroke-width="1"/>
<line x1="296" y1="2044.4" x2="296" y2="2046.9" stroke="#000" stroke-width="1"/>
<line x1="300" y1="2044.4" x2="300" y2="2046.9" stroke="#000" stroke-width="1"/>
<line x1="310" y1="2044.4" x2="310" y2="2046.9" stroke="#000" stroke-width="1"/>
<line x1="316" y1="2044.4" x2="316" y2="2046.9" stroke="#000" stroke-width="1"/>
<line x1="322" y1="2044.4" x2="322" y2="2046.9" stroke="#000" stroke-width="1"/>
<line x1="330" y1="2044.4" x2="330" y2="2046.9" stroke="#000" stroke-width="1"/>
<text x="273.2" y="2081" font-size="29" text-anchor="middle">0</text>
<text x="379.4" y="2081" font-size="29">10<tspan dy="-9" font-size="18">3</tspan></text>
<text x="446" y="2081" font-size="29">10<tspan dy="-9" font-size="18">4</tspan></text>
<text x="513.8" y="2081" font-size="29">10<tspan dy="-9" font-size="18">5</tspan></text>
<text x="300" y="1698" font-size="29.5">Galectin-9-APC</text>
<text x="175.4" y="1748" font-size="30">Vector</text>
<text x="176.5" y="1798" font-size="29" font-style="italic">circE7</text>
<text x="47.4" y="1776.8" font-size="29">CAL27</text>
<rect x="153.8" y="1736.5" width="6" height="52.5" fill="#000"/>
<text x="175.4" y="1834.7" font-size="30">Vector</text>
<text x="172" y="1878.6" font-size="29" font-style="italic">circE7</text>
<text x="65" y="1861.8" font-size="29">HN30</text>
<rect x="153.8" y="1822.5" width="6" height="52" fill="#000"/>
<text x="261.4" y="1920.7" font-size="30" text-anchor="end">NC</text>
<text x="261.4" y="1960" font-size="30" font-style="italic" text-anchor="end">sicircE7</text>
<text x="18.2" y="1942.5" font-size="29">SCC090</text>
<rect x="135.6" y="1903.9" width="6" height="52" fill="#000"/>
<text x="261.4" y="2001.4" font-size="30" text-anchor="end">NC</text>
<text x="261.4" y="2040.7" font-size="30" font-style="italic" text-anchor="end">sicircE7</text>
<text x="18.2" y="2023" font-size="29">SCC154</text>
<rect x="135.6" y="1985.6" width="6" height="51" fill="#000"/>
<text transform="translate(598 1898.7) rotate(-90)" font-size="39.5" text-anchor="middle">Galectin-9 MFI</text>
<line x1="710.7" y1="1761.8" x2="710.7" y2="1917" stroke="#000" stroke-width="5.3"/>
<line x1="710.7" y1="1943.9" x2="710.7" y2="2029.5" stroke="#000" stroke-width="5.3"/>
<line x1="700.8" y1="1907.2" x2="722" y2="1927" stroke="#000" stroke-width="5"/>
<line x1="700.8" y1="1929.8" x2="722" y2="1949.5" stroke="#000" stroke-width="5"/>
<line x1="698" y1="2027" x2="943.3" y2="2027" stroke="#000" stroke-width="5.3"/>
<line x1="698.7" y1="1765.4" x2="710.7" y2="1765.4" stroke="#000" stroke-width="5.3"/>
<text x="689.5" y="1776.6" font-size="31" text-anchor="end">9000</text>
<line x1="698.7" y1="1815.6" x2="710.7" y2="1815.6" stroke="#000" stroke-width="5.3"/>
<text x="689.5" y="1826.8" font-size="31" text-anchor="end">7000</text>
<line x1="698.7" y1="1865" x2="710.7" y2="1865" stroke="#000" stroke-width="5.3"/>
<text x="689.5" y="1876.2" font-size="31" text-anchor="end">5000</text>
<line x1="698.7" y1="1945.3" x2="710.7" y2="1945.3" stroke="#000" stroke-width="5.3"/>
<text x="689.5" y="1956.5" font-size="31" text-anchor="end">3000</text>
<line x1="698.7" y1="1984.7" x2="710.7" y2="1984.7" stroke="#000" stroke-width="5.3"/>
<text x="689.5" y="1995.9" font-size="31" text-anchor="end">1500</text>
<line x1="698.7" y1="2027" x2="710.7" y2="2027" stroke="#000" stroke-width="5.3"/>
<text x="689.5" y="2038.2" font-size="31" text-anchor="end">0</text>
<line x1="764.3" y1="2027" x2="764.3" y2="2039" stroke="#000" stroke-width="5.3"/>
<line x1="886" y1="2027" x2="886" y2="2039" stroke="#000" stroke-width="5.3"/>
<path d="M723.1 1912.9V1890H757.5V1912.9M723.1 1945.3V2027M757.5 1945.3V2027" fill="none" stroke="#000" stroke-width="5"/>
<path d="M846.5 1912.9V1829.4H879.5V1912.9M846.5 1945.3V2027M879.5 1945.3V2027" fill="none" stroke="#000" stroke-width="5"/>
<path d="M773 2027V2007H806.3V2027" fill="none" stroke="#ff0000" stroke-width="5" stroke-linejoin="miter"/>
<path d="M894.5 2027V2007H928.7V2027" fill="none" stroke="#ff0000" stroke-width="5" stroke-linejoin="miter"/>
<line x1="740.3" y1="1887.5" x2="740.3" y2="1866.3" stroke="#000" stroke-width="5.3"/>
<line x1="730.3" y1="1866.3" x2="750.3" y2="1866.3" stroke="#000" stroke-width="5.9"/>
<line x1="862.9" y1="1826.9" x2="862.9" y2="1817" stroke="#000" stroke-width="5.3"/>
<line x1="852.9" y1="1817" x2="872.9" y2="1817" stroke="#000" stroke-width="5.9"/>
<circle cx="740.3" cy="1865.8" r="4" fill="#fff" stroke="#000" stroke-width="2"/>
<circle cx="740.3" cy="1886.9" r="4" fill="#fff" stroke="#000" stroke-width="2"/>
<circle cx="740.3" cy="1905.2" r="4" fill="#fff" stroke="#000" stroke-width="2"/>
<circle cx="853.9" cy="1819.8" r="4" fill="#fff" stroke="#000" stroke-width="2"/>
<circle cx="871.4" cy="1821.8" r="4" fill="#fff" stroke="#000" stroke-width="2"/>
<circle cx="862.9" cy="1836.7" r="4" fill="#fff" stroke="#000" stroke-width="2"/>
<circle cx="772.7" cy="2004.5" r="4" fill="#fff" stroke="#ff0000" stroke-width="2"/>
<circle cx="789.6" cy="2003.9" r="4" fill="#fff" stroke="#ff0000" stroke-width="2"/>
<circle cx="806" cy="2004.5" r="4" fill="#fff" stroke="#ff0000" stroke-width="2"/>
<circle cx="895.4" cy="2005.9" r="4" fill="#fff" stroke="#ff0000" stroke-width="2"/>
<circle cx="912.3" cy="2005" r="4" fill="#fff" stroke="#ff0000" stroke-width="2"/>
<circle cx="928.4" cy="2005.9" r="4" fill="#fff" stroke="#ff0000" stroke-width="2"/>
<text transform="translate(810.4 1936.1) rotate(-90)" font-size="38" text-anchor="end" letter-spacing="4.5">***</text>
<text transform="translate(931.7 1936.1) rotate(-90)" font-size="38" text-anchor="end" letter-spacing="4.5">***</text>
<rect x="723.5" y="1759.3" width="36.5" height="13.4" fill="none" stroke="#000" stroke-width="5.8"/>
<rect x="723.5" y="1790.3" width="36.5" height="13.4" fill="none" stroke="#ff0000" stroke-width="5.8"/>
<text x="789" y="1776" font-size="33.5">Vector</text>
<text x="789" y="1806.6" font-size="33.5" font-style="italic">circE7</text>
<text x="764.3" y="2075.5" font-size="33" text-anchor="middle">CAL27</text>
<text x="887" y="2075.5" font-size="33" text-anchor="middle">HN30</text>
<line x1="1047.8" y1="1748.9" x2="1047.8" y2="1900.5" stroke="#000" stroke-width="5.3"/>
<line x1="1047.8" y1="1925.6" x2="1047.8" y2="2028.8" stroke="#000" stroke-width="5.3"/>
<line x1="1037.7" y1="1898" x2="1057.8" y2="1919.3" stroke="#000" stroke-width="5"/>
<line x1="1037.7" y1="1923" x2="1057.8" y2="1943" stroke="#000" stroke-width="5"/>
<line x1="1034" y1="2026.3" x2="1285.9" y2="2026.3" stroke="#000" stroke-width="5.3"/>
<line x1="1035.8" y1="1752.1" x2="1047.8" y2="1752.1" stroke="#000" stroke-width="5.3"/>
<text x="1026.5" y="1763.3" font-size="31" text-anchor="end">6000</text>
<line x1="1035.8" y1="1816.5" x2="1047.8" y2="1816.5" stroke="#000" stroke-width="5.3"/>
<text x="1026.5" y="1827.7" font-size="31" text-anchor="end">4500</text>
<line x1="1035.8" y1="1882.2" x2="1047.8" y2="1882.2" stroke="#000" stroke-width="5.3"/>
<text x="1026.5" y="1893.4" font-size="31" text-anchor="end">3000</text>
<line x1="1035.8" y1="1938" x2="1047.8" y2="1938" stroke="#000" stroke-width="5.3"/>
<text x="1026.5" y="1949.2" font-size="31" text-anchor="end">2000</text>
<line x1="1035.8" y1="1981.5" x2="1047.8" y2="1981.5" stroke="#000" stroke-width="5.3"/>
<text x="1026.5" y="1992.7" font-size="31" text-anchor="end">1000</text>
<line x1="1035.8" y1="2026.3" x2="1047.8" y2="2026.3" stroke="#000" stroke-width="5.3"/>
<text x="1026.5" y="2037.5" font-size="31" text-anchor="end">0</text>
<line x1="1101.7" y1="2026.3" x2="1101.7" y2="2038.3" stroke="#000" stroke-width="5.3"/>
<line x1="1228.2" y1="2026.3" x2="1228.2" y2="2038.3" stroke="#000" stroke-width="5.3"/>
<path d="M1059 2026.3V2000.7H1095.4V2026.3" fill="none" stroke="#000" stroke-width="5" stroke-linejoin="miter"/>
<path d="M1185.1 2026.3V2000.7H1221.5V2026.3" fill="none" stroke="#000" stroke-width="5" stroke-linejoin="miter"/>
<path d="M1109.2 1904.3V1852.4H1145.5V1904.3M1109.2 1936.8V2026.3M1145.5 1936.8V2026.3" fill="none" stroke="#0000ff" stroke-width="5"/>
<path d="M1235.2 1904.3V1858.4H1272.1V1904.3M1235.2 1936.8V2026.3M1272.1 1936.8V2026.3" fill="none" stroke="#0000ff" stroke-width="5"/>
<line x1="1127.5" y1="1849.9" x2="1127.5" y2="1834.1" stroke="#0000ff" stroke-width="5.3"/>
<line x1="1117.5" y1="1834.1" x2="1137.5" y2="1834.1" stroke="#0000ff" stroke-width="5.9"/>
<line x1="1253.3" y1="1855.9" x2="1253.3" y2="1842.9" stroke="#0000ff" stroke-width="5.3"/>
<line x1="1243.3" y1="1842.9" x2="1263.3" y2="1842.9" stroke="#0000ff" stroke-width="5.9"/>
<line x1="1076.6" y1="1998.2" x2="1076.6" y2="1992" stroke="#000" stroke-width="5.3"/>
<line x1="1066.6" y1="1992" x2="1086.6" y2="1992" stroke="#000" stroke-width="5.9"/>
<line x1="1202.7" y1="1998.2" x2="1202.7" y2="1993" stroke="#000" stroke-width="5.3"/>
<line x1="1192.7" y1="1993" x2="1212.7" y2="1993" stroke="#000" stroke-width="5.9"/>
<circle cx="1118.4" cy="1840.4" r="4" fill="#fff" stroke="#0000ff" stroke-width="2"/>
<circle cx="1136.7" cy="1840.4" r="4" fill="#fff" stroke="#0000ff" stroke-width="2"/>
<circle cx="1126.7" cy="1863.4" r="4" fill="#fff" stroke="#0000ff" stroke-width="2"/>
<circle cx="1253.3" cy="1842.4" r="4" fill="#fff" stroke="#0000ff" stroke-width="2"/>
<circle cx="1244.5" cy="1860.9" r="4" fill="#fff" stroke="#0000ff" stroke-width="2"/>
<circle cx="1262" cy="1859.1" r="4" fill="#fff" stroke="#0000ff" stroke-width="2"/>
<circle cx="1060.3" cy="1995.7" r="4" fill="#fff" stroke="#000" stroke-width="2"/>
<circle cx="1076.6" cy="1992.7" r="4" fill="#fff" stroke="#000" stroke-width="2"/>
<circle cx="1093.6" cy="1995.7" r="4" fill="#fff" stroke="#000" stroke-width="2"/>
<circle cx="1186.9" cy="1995.2" r="4" fill="#fff" stroke="#000" stroke-width="2"/>
<circle cx="1202.7" cy="1994.5" r="4" fill="#fff" stroke="#000" stroke-width="2"/>
<circle cx="1220.2" cy="1995.2" r="4" fill="#fff" stroke="#000" stroke-width="2"/>
<text transform="translate(1144.9 1904.1) rotate(-90)" font-size="38" text-anchor="end" letter-spacing="4.5">***</text>
<text transform="translate(1272.7 1904.1) rotate(-90)" font-size="38" text-anchor="end" letter-spacing="4.5">***</text>
<rect x="1059.4" y="1749.3" width="38.1" height="14.2" fill="none" stroke="#000" stroke-width="5.8"/>
<rect x="1059.4" y="1781.1" width="38.1" height="15" fill="none" stroke="#0000ff" stroke-width="5.8"/>
<text x="1128" y="1767.2" font-size="34">NC</text>
<text x="1128" y="1800.3" font-size="34" font-style="italic">sicircE7</text>
<text x="1041.5" y="2074" font-size="32">SCC090</text>
<text x="1168" y="2074" font-size="32">SCC154</text>
<text transform="translate(105 2351) rotate(-90)" font-size="35.3" text-anchor="middle">Expression of <tspan font-style="italic">LGALS9</tspan></text>
<text transform="translate(150 2346.5) rotate(-90)" font-size="34.2" text-anchor="middle">(Relative to <tspan font-style="italic">GAPDH</tspan>)</text>
<path d="M284.2 2266.9C284.6 2269.2 285.6 2275.7 286.6 2280.5C287.6 2285.2 289.4 2290.5 290.2 2295.5C291.1 2300.5 291.8 2305.5 291.7 2310.5C291.6 2315.5 290.4 2320.6 289.6 2325.6C288.9 2330.6 287.5 2335.6 287.2 2340.6C286.9 2345.6 287.3 2350.6 287.8 2355.6C288.3 2360.7 289.4 2365.7 290.2 2370.7C291 2375.7 291.1 2380.7 292.6 2385.7C294.1 2390.7 296.1 2396.7 299.2 2400.8C302.4 2404.8 308.3 2407 311.3 2409.8C314.3 2412.5 316.8 2414.8 317.3 2417.3C317.8 2419.8 316.3 2422.1 314.3 2424.8C312.3 2427.6 308.3 2430.8 305.3 2433.8C302.3 2436.8 298.7 2439.8 296.2 2442.9C293.7 2445.9 291.8 2448.9 290.2 2451.9C288.6 2454.9 287.6 2458.1 286.6 2460.9C285.6 2463.7 284.6 2467.2 284.2 2468.4L284.2 2468.4C283.8 2467.2 282.8 2463.7 281.8 2460.9C280.8 2458.1 279.8 2454.9 278.2 2451.9C276.6 2448.9 274.7 2445.9 272.2 2442.9C269.7 2439.8 266.2 2436.8 263.2 2433.8C260.2 2430.8 256.1 2427.6 254.1 2424.8C252.1 2422.1 250.6 2419.8 251.1 2417.3C251.6 2414.8 254.1 2412.5 257.1 2409.8C260.2 2407 266.1 2404.8 269.2 2400.8C272.3 2396.7 274.3 2390.7 275.8 2385.7C277.3 2380.7 277.4 2375.7 278.2 2370.7C279 2365.7 280.1 2360.7 280.6 2355.6C281.1 2350.6 281.5 2345.6 281.2 2340.6C280.9 2335.6 279.5 2330.6 278.8 2325.6C278 2320.6 276.8 2315.5 276.7 2310.5C276.6 2305.5 277.3 2300.5 278.2 2295.5C279 2290.5 280.8 2285.2 281.8 2280.5C282.8 2275.7 283.8 2269.2 284.2 2266.9Z" fill="none" stroke="#000" stroke-width="5" stroke-linejoin="round" stroke-linecap="round"/>
<path d="M388.9 2400.8C389.9 2401.8 392.9 2404.3 394.9 2406.8C396.9 2409.3 400.2 2412.8 400.9 2415.8C401.7 2418.8 398.4 2422.3 399.4 2424.8C400.4 2427.3 403.2 2428.8 406.9 2430.8C410.7 2432.8 420.4 2434.8 422 2436.8C423.6 2438.8 418.9 2440.9 416.5 2442.9C414.1 2444.9 410.1 2446.9 407.5 2448.9C404.9 2450.9 404 2452.9 400.9 2454.9C397.8 2456.9 390.9 2459.9 388.9 2460.9L388.9 2460.9C386.9 2459.9 379.9 2456.9 376.8 2454.9C373.7 2452.9 372.8 2450.9 370.2 2448.9C367.6 2446.9 363.6 2444.9 361.2 2442.9C358.8 2440.9 354.2 2438.8 355.8 2436.8C357.4 2434.8 367.1 2432.8 370.8 2430.8C374.6 2428.8 377.3 2427.3 378.3 2424.8C379.3 2422.3 376.1 2418.8 376.8 2415.8C377.6 2412.8 380.9 2409.3 382.9 2406.8C384.9 2404.3 387.9 2401.8 388.9 2400.8Z" fill="none" stroke="#000" stroke-width="5" stroke-linejoin="round" stroke-linecap="round"/>
<path d="M284.2 2307.7l-8.5 -15.3h17zM284.2 2330.2l-8.5 -15.3h17zM284.2 2361.8l-8.5 -15.3h17zM284.2 2379.9l-8.5 -15.3h17zM276.7 2397.9l-8.5 -15.3h17zM290.2 2397.9l-8.5 -15.3h17zM287.2 2415.9l-8.5 -15.3h17zM258.6 2423.5l-8.5 -15.3h17zM272.2 2423.5l-8.5 -15.3h17zM284.2 2423.5l-8.5 -15.3h17zM297.7 2423.5l-8.5 -15.3h17zM311.3 2423.5l-8.5 -15.3h17zM264.7 2434l-8.5 -15.3h17zM278.2 2435.5l-8.5 -15.3h17zM290.2 2437l-8.5 -15.3h17zM302.3 2432.5l-8.5 -15.3h17zM272.2 2446l-8.5 -15.3h17z" fill="#0000ff"/>
<line x1="258.6" y1="2417.3" x2="311.3" y2="2417.3" stroke="#000" stroke-width="2.2" stroke-dasharray="6 3.5"/>
<line x1="261.7" y1="2426.3" x2="306.8" y2="2426.3" stroke="#000" stroke-width="2.2" stroke-dasharray="0 5" stroke-linecap="round"/>
<path d="M388.9 2406.6l8.5 15.3h-17zM416.5 2417.1l8.5 15.3h-17zM375.9 2427.7l8.5 15.3h-17zM389.5 2427.7l8.5 15.3h-17zM401.5 2427.7l8.5 15.3h-17zM360.9 2436.7l8.5 15.3h-17zM416.5 2439.7l8.5 15.3h-17z" fill="#ff0000"/>
<line x1="366.9" y1="2436.8" x2="412" y2="2436.8" stroke="#000" stroke-width="2.2" stroke-dasharray="6 3.5"/>
<line x1="372.9" y1="2445.9" x2="406" y2="2445.9" stroke="#000" stroke-width="2.2" stroke-dasharray="0 5" stroke-linecap="round"/>
<line x1="378.9" y1="2424.8" x2="400" y2="2424.8" stroke="#000" stroke-width="2.2" stroke-dasharray="0 5" stroke-linecap="round"/>
<line x1="214.1" y1="2210.6" x2="214.1" y2="2496.2" stroke="#000" stroke-width="5.5"/>
<line x1="211.3" y1="2493.4" x2="460.8" y2="2493.4" stroke="#000" stroke-width="5.5"/>
<line x1="202.8" y1="2212.8" x2="214.1" y2="2212.8" stroke="#000" stroke-width="5.5"/>
<text x="198.3" y="2222.6" font-size="27.5" text-anchor="end">10</text>
<line x1="202.8" y1="2260" x2="214.1" y2="2260" stroke="#000" stroke-width="5.5"/>
<text x="198.3" y="2269.8" font-size="27.5" text-anchor="end">8</text>
<line x1="202.8" y1="2306.9" x2="214.1" y2="2306.9" stroke="#000" stroke-width="5.5"/>
<text x="198.3" y="2316.7" font-size="27.5" text-anchor="end">6</text>
<line x1="202.8" y1="2353.2" x2="214.1" y2="2353.2" stroke="#000" stroke-width="5.5"/>
<text x="198.3" y="2363" font-size="27.5" text-anchor="end">4</text>
<line x1="202.8" y1="2400.2" x2="214.1" y2="2400.2" stroke="#000" stroke-width="5.5"/>
<text x="198.3" y="2410" font-size="27.5" text-anchor="end">2</text>
<line x1="202.8" y1="2447.4" x2="214.1" y2="2447.4" stroke="#000" stroke-width="5.5"/>
<text x="198.3" y="2457.2" font-size="27.5" text-anchor="end">0</text>
<line x1="202.8" y1="2493.4" x2="214.1" y2="2493.4" stroke="#000" stroke-width="5.5"/>
<text x="198.3" y="2503.2" font-size="27.5" text-anchor="end">-2</text>
<line x1="284.2" y1="2493.4" x2="284.2" y2="2504.7" stroke="#000" stroke-width="5.5"/>
<line x1="388.9" y1="2493.4" x2="388.9" y2="2504.7" stroke="#000" stroke-width="5.5"/>
<line x1="281.2" y1="2248.5" x2="395.4" y2="2248.5" stroke="#000" stroke-width="5.5"/>
<text x="338.3" y="2252.4" font-size="48" text-anchor="middle">*</text>
<text x="287" y="2488" font-size="29.5" text-anchor="middle">n = 16</text>
<text x="400" y="2488" font-size="29.5" text-anchor="middle">n = 7</text>
<text x="236" y="2536" font-size="30" textLength="200" lengthAdjust="spacing">circE7<tspan dy="-15" font-size="20">-</tspan><tspan dy="15"> circE7</tspan><tspan dy="-14" font-size="20">+</tspan></text>
<defs>
<filter id="s200a" x="0" y="0" width="100%" height="100%" color-interpolation-filters="sRGB"><feTurbulence type="fractalNoise" baseFrequency="0.3" numOctaves="2" seed="3"/><feColorMatrix type="matrix" values="0 0 0 0 0.3  0 0 0 0 0.43  0 0 0 0 0.7  3.6 0 0 0 -1.5"/></filter>
<filter id="s200b" x="0" y="0" width="100%" height="100%" color-interpolation-filters="sRGB"><feTurbulence type="fractalNoise" baseFrequency="0.3" numOctaves="2" seed="9"/><feColorMatrix type="matrix" values="0 0 0 0 0.33  0 0 0 0 0.44  0 0 0 0 0.68  3.6 0 0 0 -1.52"/></filter>
<filter id="s200c" x="0" y="0" width="100%" height="100%" color-interpolation-filters="sRGB"><feTurbulence type="fractalNoise" baseFrequency="0.3" numOctaves="2" seed="17"/><feColorMatrix type="matrix" values="0 0 0 0 0.3  0 0 0 0 0.44  0 0 0 0 0.72  3.6 0 0 0 -1.62"/></filter>
<filter id="s400a" x="0" y="0" width="100%" height="100%" color-interpolation-filters="sRGB"><feTurbulence type="fractalNoise" baseFrequency="0.16" numOctaves="2" seed="5"/><feColorMatrix type="matrix" values="0 0 0 0 0.4  0 0 0 0 0.53  0 0 0 0 0.76  3.2 0 0 0 -1.55"/></filter>
<filter id="s400b" x="0" y="0" width="100%" height="100%" color-interpolation-filters="sRGB"><feTurbulence type="fractalNoise" baseFrequency="0.16" numOctaves="2" seed="21"/><feColorMatrix type="matrix" values="0 0 0 0 0.4  0 0 0 0 0.53  0 0 0 0 0.76  3.2 0 0 0 -1.6"/></filter>
<filter id="s400c" x="0" y="0" width="100%" height="100%" color-interpolation-filters="sRGB"><feTurbulence type="fractalNoise" baseFrequency="0.14" numOctaves="2" seed="33"/><feColorMatrix type="matrix" values="0 0 0 0 0.42  0 0 0 0 0.55  0 0 0 0 0.78  3.2 0 0 0 -1.7"/></filter>
<filter id="light" x="0" y="0" width="100%" height="100%" color-interpolation-filters="sRGB"><feTurbulence type="fractalNoise" baseFrequency="0.03" numOctaves="2" seed="41"/><feColorMatrix type="matrix" values="0 0 0 0 0.82  0 0 0 0 0.88  0 0 0 0 0.88  2.6 0 0 0 -1.25"/></filter>
<filter id="beige" x="0" y="0" width="100%" height="100%" color-interpolation-filters="sRGB"><feTurbulence type="fractalNoise" baseFrequency="0.022" numOctaves="2" seed="12"/><feColorMatrix type="matrix" values="0 0 0 0 0.79  0 0 0 0 0.76  0 0 0 0 0.69  2.8 0 0 0 -1.2"/></filter>
<filter id="beige2" x="0" y="0" width="100%" height="100%" color-interpolation-filters="sRGB"><feTurbulence type="fractalNoise" baseFrequency="0.028" numOctaves="2" seed="27"/><feColorMatrix type="matrix" values="0 0 0 0 0.78  0 0 0 0 0.75  0 0 0 0 0.68  2.8 0 0 0 -1.15"/></filter>
<filter id="dark" x="0" y="0" width="100%" height="100%" color-interpolation-filters="sRGB"><feTurbulence type="fractalNoise" baseFrequency="0.02" numOctaves="2" seed="8"/><feColorMatrix type="matrix" values="0 0 0 0 0.3  0 0 0 0 0.45  0 0 0 0 0.75  2.4 0 0 0 -1.15"/></filter>
</defs>
<text x="750.5" y="2190.2" font-size="36.5" font-style="italic" text-anchor="middle">circE7</text>
<line x1="545.3" y1="2200.8" x2="909.2" y2="2200.8" stroke="#000" stroke-width="6"/>
<text x="1122.2" y="2190.2" font-size="36" text-anchor="middle">Galectin-9</text>
<line x1="940" y1="2200.8" x2="1336.1" y2="2200.8" stroke="#000" stroke-width="6"/>
<text x="640" y="2233" font-size="33" text-anchor="middle">200×</text>
<text x="1045.6" y="2233" font-size="33" text-anchor="middle">200×</text>
<text x="832.5" y="2233" font-size="33" text-anchor="middle">400×</text>
<text x="1238.4" y="2233" font-size="33" text-anchor="middle">400×</text>
<clipPath id="ci0"><rect x="530.2" y="2239.8" width="195.3" height="146.4"/></clipPath>
<g clip-path="url(#ci0)">
<rect x="530.2" y="2239.8" width="195.3" height="146.4" fill="#aec7d6"/>
<ellipse cx="560" cy="2360" rx="40" ry="14" fill="#c6d8dc" opacity="0.8" filter="url(#b7)"/>
<ellipse cx="660" cy="2365" rx="8" ry="7" fill="#dfe8e4" opacity="1" filter="url(#b2)"/>
<ellipse cx="708" cy="2355" rx="8" ry="7" fill="#dfe8e4" opacity="1" filter="url(#b2)"/>
<ellipse cx="620" cy="2310" rx="45" ry="30" fill="#c2d6dc" opacity="0.6" filter="url(#b7)"/>
<rect x="530.2" y="2239.8" width="195.3" height="146.4" filter="url(#light)" opacity="0.5"/>
<rect x="530.2" y="2239.8" width="195.3" height="146.4" filter="url(#s200a)" opacity="0.9"/>
</g>
<rect x="531.7" y="2241.3" width="192.3" height="143.4" fill="none" stroke="#000" stroke-width="3"/>
<rect x="577.3" y="2282.2" width="100.2" height="70.7" fill="none" stroke="#000" stroke-width="3.2"/>
<clipPath id="ci1"><rect x="732.3" y="2239.8" width="194.2" height="146.4"/></clipPath>
<g clip-path="url(#ci1)">
<rect x="732.3" y="2239.8" width="194.2" height="146.4" fill="#b6cfd9"/>
<ellipse cx="880" cy="2350" rx="60" ry="30" fill="#c4d8dc" opacity="0.7" filter="url(#b7)"/>
<rect x="732.3" y="2239.8" width="194.2" height="146.4" filter="url(#light)" opacity="0.5"/>
<rect x="732.3" y="2239.8" width="194.2" height="146.4" filter="url(#s400a)" opacity="0.3"/>
<ellipse cx="758.4" cy="2363.9" rx="4.6" ry="2.2" transform="rotate(89 758.4 2363.9)" fill="#4f6fb4" fill-opacity="0.7"/>
<ellipse cx="858.8" cy="2355.3" rx="2.8" ry="1.8" transform="rotate(150 858.8 2355.3)" fill="#4f6fb4" fill-opacity="0.7"/>
<ellipse cx="880.3" cy="2240.1" rx="3.8" ry="2.9" transform="rotate(41 880.3 2240.1)" fill="#4f6fb4" fill-opacity="0.8"/>
<ellipse cx="907.4" cy="2244.3" rx="2.7" ry="2.6" transform="rotate(169 907.4 2244.3)" fill="#4f6fb4" fill-opacity="0.7"/>
<ellipse cx="774.4" cy="2301.6" rx="2.7" ry="2.1" transform="rotate(78 774.4 2301.6)" fill="#4f6fb4" fill-opacity="0.7"/>
<ellipse cx="777.6" cy="2273.6" rx="3.2" ry="2.5" transform="rotate(52 777.6 2273.6)" fill="#4f6fb4" fill-opacity="0.6"/>
<ellipse cx="895" cy="2321.3" rx="4.3" ry="2.1" transform="rotate(178 895 2321.3)" fill="#4f6fb4" fill-opacity="0.8"/>
<ellipse cx="755.8" cy="2288.5" rx="4.5" ry="2.9" transform="rotate(168 755.8 2288.5)" fill="#4f6fb4" fill-opacity="0.7"/>
<ellipse cx="893.5" cy="2337.9" rx="3.4" ry="2.7" transform="rotate(158 893.5 2337.9)" fill="#4f6fb4" fill-opacity="0.8"/>
<ellipse cx="830.4" cy="2326" rx="2.7" ry="2.2" transform="rotate(143 830.4 2326)" fill="#4f6fb4" fill-opacity="0.7"/>
<ellipse cx="765.9" cy="2320.1" rx="4.4" ry="2.8" transform="rotate(67 765.9 2320.1)" fill="#4f6fb4" fill-opacity="0.7"/>
<ellipse cx="831" cy="2353.8" rx="4" ry="2.4" transform="rotate(88 831 2353.8)" fill="#4f6fb4" fill-opacity="0.6"/>
<ellipse cx="740.7" cy="2342.8" rx="5.2" ry="2.7" transform="rotate(70 740.7 2342.8)" fill="#4f6fb4" fill-opacity="0.6"/>
<ellipse cx="829.8" cy="2383.6" rx="4.6" ry="2.6" transform="rotate(154 829.8 2383.6)" fill="#4f6fb4" fill-opacity="0.6"/>
<ellipse cx="832.1" cy="2379.2" rx="4.1" ry="2.5" transform="rotate(48 832.1 2379.2)" fill="#4f6fb4" fill-opacity="0.7"/>
<ellipse cx="918.2" cy="2240.6" rx="4.6" ry="3" transform="rotate(159 918.2 2240.6)" fill="#4f6fb4" fill-opacity="0.8"/>
<ellipse cx="889.4" cy="2315.7" rx="4.1" ry="2.4" transform="rotate(10 889.4 2315.7)" fill="#4f6fb4" fill-opacity="0.8"/>
<ellipse cx="843" cy="2269.1" rx="3.9" ry="2.5" transform="rotate(64 843 2269.1)" fill="#4f6fb4" fill-opacity="0.7"/>
<ellipse cx="836.9" cy="2331.1" rx="4.2" ry="2.5" transform="rotate(5 836.9 2331.1)" fill="#4f6fb4" fill-opacity="0.6"/>
<ellipse cx="766.7" cy="2325.4" rx="4.8" ry="3" transform="rotate(143 766.7 2325.4)" fill="#4f6fb4" fill-opacity="0.8"/>
<ellipse cx="781.9" cy="2363" rx="4.4" ry="1.9" transform="rotate(3 781.9 2363)" fill="#4f6fb4" fill-opacity="0.6"/>
<ellipse cx="879" cy="2276.3" rx="2.9" ry="2.7" transform="rotate(61 879 2276.3)" fill="#4f6fb4" fill-opacity="0.6"/>
<ellipse cx="763.3" cy="2317" rx="3" ry="2.2" transform="rotate(128 763.3 2317)" fill="#4f6fb4" fill-opacity="0.7"/>
<ellipse cx="794.8" cy="2309.2" rx="2.7" ry="2.4" transform="rotate(75 794.8 2309.2)" fill="#4f6fb4" fill-opacity="0.6"/>
<ellipse cx="753.4" cy="2371.5" rx="3.9" ry="2.1" transform="rotate(109 753.4 2371.5)" fill="#4f6fb4" fill-opacity="0.8"/>
<ellipse cx="736.3" cy="2242.4" rx="3" ry="2.9" transform="rotate(28 736.3 2242.4)" fill="#4f6fb4" fill-opacity="0.8"/>
<ellipse cx="864" cy="2319.5" rx="3.2" ry="3.3" transform="rotate(143 864 2319.5)" fill="#4f6fb4" fill-opacity="0.7"/>
<ellipse cx="775.6" cy="2334.7" rx="3.6" ry="2.7" transform="rotate(57 775.6 2334.7)" fill="#4f6fb4" fill-opacity="0.7"/>
<ellipse cx="743.7" cy="2283.5" rx="5.1" ry="3.1" transform="rotate(55 743.7 2283.5)" fill="#4f6fb4" fill-opacity="0.8"/>
<ellipse cx="792.6" cy="2377.3" rx="4.5" ry="2.4" transform="rotate(45 792.6 2377.3)" fill="#4f6fb4" fill-opacity="0.6"/>
<ellipse cx="902.9" cy="2245.4" rx="4.7" ry="3.2" transform="rotate(102 902.9 2245.4)" fill="#4f6fb4" fill-opacity="0.6"/>
<ellipse cx="900.8" cy="2382.4" rx="4.4" ry="2.6" transform="rotate(68 900.8 2382.4)" fill="#4f6fb4" fill-opacity="0.7"/>
<ellipse cx="772.3" cy="2338.5" rx="3.7" ry="2.1" transform="rotate(18 772.3 2338.5)" fill="#4f6fb4" fill-opacity="0.7"/>
<ellipse cx="789.8" cy="2313" rx="3.4" ry="3.1" transform="rotate(161 789.8 2313)" fill="#4f6fb4" fill-opacity="0.6"/>
<ellipse cx="771.3" cy="2287.8" rx="5.2" ry="3" transform="rotate(61 771.3 2287.8)" fill="#4f6fb4" fill-opacity="0.6"/>
<ellipse cx="863.3" cy="2362.4" rx="5" ry="2.3" transform="rotate(158 863.3 2362.4)" fill="#4f6fb4" fill-opacity="0.8"/>
<ellipse cx="826.4" cy="2384.1" rx="3.2" ry="2.9" transform="rotate(15 826.4 2384.1)" fill="#4f6fb4" fill-opacity="0.6"/>
<ellipse cx="909.2" cy="2271" rx="4.6" ry="2.7" transform="rotate(151 909.2 2271)" fill="#4f6fb4" fill-opacity="0.7"/>
<ellipse cx="798.4" cy="2282.4" rx="4.9" ry="2.7" transform="rotate(171 798.4 2282.4)" fill="#4f6fb4" fill-opacity="0.8"/>
<ellipse cx="758.6" cy="2320.5" rx="2.9" ry="1.9" transform="rotate(13 758.6 2320.5)" fill="#4f6fb4" fill-opacity="0.8"/>
<ellipse cx="885.4" cy="2361.1" rx="3.5" ry="2.7" transform="rotate(140 885.4 2361.1)" fill="#4f6fb4" fill-opacity="0.7"/>
<ellipse cx="843.1" cy="2272.6" rx="2.8" ry="2.2" transform="rotate(160 843.1 2272.6)" fill="#4f6fb4" fill-opacity="0.7"/>
<ellipse cx="911.9" cy="2306.8" rx="3.3" ry="3" transform="rotate(148 911.9 2306.8)" fill="#4f6fb4" fill-opacity="0.6"/>
<ellipse cx="862.5" cy="2253.2" rx="2.9" ry="3.1" transform="rotate(7 862.5 2253.2)" fill="#4f6fb4" fill-opacity="0.6"/>
<ellipse cx="924.2" cy="2301.4" rx="2.9" ry="2.1" transform="rotate(43 924.2 2301.4)" fill="#4f6fb4" fill-opacity="0.8"/>
<ellipse cx="752.3" cy="2373.1" rx="3.6" ry="3.3" transform="rotate(163 752.3 2373.1)" fill="#4f6fb4" fill-opacity="0.6"/>
<ellipse cx="781.5" cy="2309.6" rx="2.9" ry="2.8" transform="rotate(7 781.5 2309.6)" fill="#4f6fb4" fill-opacity="0.6"/>
<ellipse cx="923.1" cy="2283.1" rx="4.2" ry="2.5" transform="rotate(56 923.1 2283.1)" fill="#4f6fb4" fill-opacity="0.6"/>
<ellipse cx="909.7" cy="2381.8" rx="5.1" ry="2" transform="rotate(38 909.7 2381.8)" fill="#4f6fb4" fill-opacity="0.7"/>
<ellipse cx="922.6" cy="2319.3" rx="4.4" ry="2.8" transform="rotate(46 922.6 2319.3)" fill="#4f6fb4" fill-opacity="0.7"/>
<ellipse cx="792" cy="2275.9" rx="2.8" ry="2.2" transform="rotate(177 792 2275.9)" fill="#4f6fb4" fill-opacity="0.7"/>
<ellipse cx="858.9" cy="2334" rx="5" ry="2.4" transform="rotate(55 858.9 2334)" fill="#4f6fb4" fill-opacity="0.6"/>
<ellipse cx="793.8" cy="2363.8" rx="4.9" ry="2.3" transform="rotate(60 793.8 2363.8)" fill="#4f6fb4" fill-opacity="0.7"/>
<ellipse cx="844.7" cy="2327" rx="3.2" ry="1.8" transform="rotate(43 844.7 2327)" fill="#4f6fb4" fill-opacity="0.6"/>
<ellipse cx="839.3" cy="2250.2" rx="2.8" ry="2.8" transform="rotate(52 839.3 2250.2)" fill="#4f6fb4" fill-opacity="0.8"/>
<ellipse cx="828.1" cy="2366.1" rx="3" ry="2.6" transform="rotate(143 828.1 2366.1)" fill="#4f6fb4" fill-opacity="0.6"/>
<ellipse cx="916.6" cy="2265.2" rx="4.6" ry="3.3" transform="rotate(147 916.6 2265.2)" fill="#4f6fb4" fill-opacity="0.6"/>
<ellipse cx="753.1" cy="2315.1" rx="5" ry="2.2" transform="rotate(160 753.1 2315.1)" fill="#4f6fb4" fill-opacity="0.6"/>
<ellipse cx="909.1" cy="2244.4" rx="3.4" ry="3.2" transform="rotate(144 909.1 2244.4)" fill="#4f6fb4" fill-opacity="0.8"/>
<ellipse cx="895.6" cy="2349" rx="4.4" ry="2.1" transform="rotate(77 895.6 2349)" fill="#4f6fb4" fill-opacity="0.6"/>
<ellipse cx="871.1" cy="2337.6" rx="3.3" ry="1.9" transform="rotate(173 871.1 2337.6)" fill="#4f6fb4" fill-opacity="0.8"/>
<ellipse cx="839" cy="2319.1" rx="4.8" ry="2.5" transform="rotate(71 839 2319.1)" fill="#4f6fb4" fill-opacity="0.7"/>
<ellipse cx="782.4" cy="2243.4" rx="4.3" ry="2.4" transform="rotate(102 782.4 2243.4)" fill="#4f6fb4" fill-opacity="0.6"/>
<ellipse cx="801.2" cy="2260" rx="2.9" ry="2.2" transform="rotate(149 801.2 2260)" fill="#4f6fb4" fill-opacity="0.7"/>
<ellipse cx="810.2" cy="2329.5" rx="3.2" ry="1.8" transform="rotate(95 810.2 2329.5)" fill="#4f6fb4" fill-opacity="0.7"/>
<ellipse cx="858.3" cy="2304" rx="4.4" ry="2.9" transform="rotate(42 858.3 2304)" fill="#4f6fb4" fill-opacity="0.7"/>
<ellipse cx="825.3" cy="2272.7" rx="3.7" ry="2.6" transform="rotate(163 825.3 2272.7)" fill="#4f6fb4" fill-opacity="0.8"/>
<ellipse cx="785.7" cy="2334.4" rx="2.7" ry="1.9" transform="rotate(92 785.7 2334.4)" fill="#4f6fb4" fill-opacity="0.8"/>
<ellipse cx="763.3" cy="2351.9" rx="4.9" ry="2.3" transform="rotate(124 763.3 2351.9)" fill="#4f6fb4" fill-opacity="0.8"/>
<ellipse cx="804.5" cy="2342.5" rx="4.5" ry="2.7" transform="rotate(154 804.5 2342.5)" fill="#4f6fb4" fill-opacity="0.8"/>
<ellipse cx="918.7" cy="2323.4" rx="3.1" ry="2.2" transform="rotate(39 918.7 2323.4)" fill="#4f6fb4" fill-opacity="0.7"/>
<ellipse cx="879.5" cy="2247.4" rx="4.4" ry="2.9" transform="rotate(62 879.5 2247.4)" fill="#4f6fb4" fill-opacity="0.7"/>
<ellipse cx="764.3" cy="2346.7" rx="2.7" ry="3.3" transform="rotate(145 764.3 2346.7)" fill="#4f6fb4" fill-opacity="0.7"/>
<ellipse cx="784.3" cy="2373.4" rx="5.1" ry="2" transform="rotate(139 784.3 2373.4)" fill="#4f6fb4" fill-opacity="0.8"/>
<ellipse cx="860.4" cy="2342.3" rx="3.8" ry="3.2" transform="rotate(174 860.4 2342.3)" fill="#4f6fb4" fill-opacity="0.7"/>
<ellipse cx="888.2" cy="2303.2" rx="3" ry="2.3" transform="rotate(22 888.2 2303.2)" fill="#4f6fb4" fill-opacity="0.8"/>
<ellipse cx="918.6" cy="2257.2" rx="4.2" ry="2.4" transform="rotate(21 918.6 2257.2)" fill="#4f6fb4" fill-opacity="0.6"/>
<ellipse cx="780.5" cy="2349.5" rx="2.6" ry="2.1" transform="rotate(78 780.5 2349.5)" fill="#4f6fb4" fill-opacity="0.6"/>
<ellipse cx="854.2" cy="2328.5" rx="4.8" ry="2.1" transform="rotate(51 854.2 2328.5)" fill="#4f6fb4" fill-opacity="0.7"/>
<ellipse cx="785.4" cy="2325.6" rx="3.3" ry="2.8" transform="rotate(142 785.4 2325.6)" fill="#4f6fb4" fill-opacity="0.8"/>
<ellipse cx="921.4" cy="2319.6" rx="3.9" ry="3.1" transform="rotate(138 921.4 2319.6)" fill="#4f6fb4" fill-opacity="0.7"/>
<ellipse cx="806.7" cy="2281.4" rx="2.9" ry="3" transform="rotate(21 806.7 2281.4)" fill="#4f6fb4" fill-opacity="0.8"/>
<ellipse cx="838.2" cy="2381.1" rx="4.6" ry="3.3" transform="rotate(24 838.2 2381.1)" fill="#4f6fb4" fill-opacity="0.7"/>
<ellipse cx="843.5" cy="2285.4" rx="3.9" ry="2.3" transform="rotate(95 843.5 2285.4)" fill="#4f6fb4" fill-opacity="0.6"/>
<ellipse cx="818.2" cy="2305.6" rx="3.4" ry="2.4" transform="rotate(140 818.2 2305.6)" fill="#4f6fb4" fill-opacity="0.8"/>
<ellipse cx="827.9" cy="2334.6" rx="3.6" ry="2.1" transform="rotate(0 827.9 2334.6)" fill="#4f6fb4" fill-opacity="0.6"/>
<ellipse cx="848.5" cy="2368.9" rx="4.8" ry="2.6" transform="rotate(177 848.5 2368.9)" fill="#4f6fb4" fill-opacity="0.7"/>
<ellipse cx="894.4" cy="2299.7" rx="4.5" ry="3.3" transform="rotate(54 894.4 2299.7)" fill="#4f6fb4" fill-opacity="0.6"/>
<ellipse cx="852.7" cy="2317.5" rx="3.5" ry="1.8" transform="rotate(70 852.7 2317.5)" fill="#4f6fb4" fill-opacity="0.7"/>
<ellipse cx="811" cy="2365.9" rx="4.1" ry="2.9" transform="rotate(161 811 2365.9)" fill="#4f6fb4" fill-opacity="0.8"/>
<ellipse cx="828" cy="2349" rx="4.3" ry="2.8" transform="rotate(113 828 2349)" fill="#4f6fb4" fill-opacity="0.7"/>
<ellipse cx="854.5" cy="2332.6" rx="5" ry="3" transform="rotate(152 854.5 2332.6)" fill="#4f6fb4" fill-opacity="0.8"/>
<ellipse cx="890.6" cy="2328.4" rx="3.5" ry="2.2" transform="rotate(127 890.6 2328.4)" fill="#4f6fb4" fill-opacity="0.8"/>
<ellipse cx="838" cy="2262.1" rx="4.8" ry="2.5" transform="rotate(84 838 2262.1)" fill="#4f6fb4" fill-opacity="0.6"/>
<ellipse cx="831.4" cy="2348.8" rx="3.7" ry="2.3" transform="rotate(118 831.4 2348.8)" fill="#4f6fb4" fill-opacity="0.6"/>
<ellipse cx="830.8" cy="2378.3" rx="4.4" ry="2.4" transform="rotate(124 830.8 2378.3)" fill="#4f6fb4" fill-opacity="0.7"/>
<ellipse cx="772.9" cy="2270.2" rx="4.9" ry="2.2" transform="rotate(13 772.9 2270.2)" fill="#4f6fb4" fill-opacity="0.8"/>
<ellipse cx="833.9" cy="2293.7" rx="3.9" ry="2.9" transform="rotate(30 833.9 2293.7)" fill="#4f6fb4" fill-opacity="0.7"/>
<ellipse cx="870.8" cy="2359.1" rx="3.3" ry="2.7" transform="rotate(41 870.8 2359.1)" fill="#4f6fb4" fill-opacity="0.7"/>
<ellipse cx="765.8" cy="2355.4" rx="4.9" ry="2.3" transform="rotate(40 765.8 2355.4)" fill="#4f6fb4" fill-opacity="0.8"/>
<ellipse cx="869.5" cy="2363.3" rx="2.7" ry="3.1" transform="rotate(112 869.5 2363.3)" fill="#4f6fb4" fill-opacity="0.6"/>
<ellipse cx="816.1" cy="2351.3" rx="4.6" ry="2.1" transform="rotate(112 816.1 2351.3)" fill="#4f6fb4" fill-opacity="0.6"/>
<ellipse cx="921.3" cy="2304.7" rx="5" ry="2.9" transform="rotate(109 921.3 2304.7)" fill="#4f6fb4" fill-opacity="0.6"/>
<ellipse cx="834.6" cy="2260.1" rx="3" ry="2.9" transform="rotate(64 834.6 2260.1)" fill="#4f6fb4" fill-opacity="0.8"/>
<ellipse cx="779" cy="2344.9" rx="4.5" ry="2.3" transform="rotate(19 779 2344.9)" fill="#4f6fb4" fill-opacity="0.7"/>
<ellipse cx="827.9" cy="2254.4" rx="3.1" ry="1.9" transform="rotate(107 827.9 2254.4)" fill="#4f6fb4" fill-opacity="0.8"/>
<ellipse cx="774.4" cy="2244.9" rx="4.4" ry="3" transform="rotate(173 774.4 2244.9)" fill="#4f6fb4" fill-opacity="0.7"/>
<ellipse cx="798.8" cy="2362.5" rx="2.9" ry="2.8" transform="rotate(17 798.8 2362.5)" fill="#4f6fb4" fill-opacity="0.7"/>
<ellipse cx="828.4" cy="2295.1" rx="3" ry="2.1" transform="rotate(147 828.4 2295.1)" fill="#4f6fb4" fill-opacity="0.7"/>
<ellipse cx="844.9" cy="2270.8" rx="4.5" ry="2.3" transform="rotate(106 844.9 2270.8)" fill="#4f6fb4" fill-opacity="0.8"/>
<ellipse cx="925.4" cy="2246.6" rx="4.7" ry="3.1" transform="rotate(57 925.4 2246.6)" fill="#4f6fb4" fill-opacity="0.7"/>
<ellipse cx="845" cy="2374.3" rx="3.6" ry="3.1" transform="rotate(136 845 2374.3)" fill="#4f6fb4" fill-opacity="0.6"/>
<ellipse cx="909.7" cy="2242" rx="3" ry="2.8" transform="rotate(10 909.7 2242)" fill="#4f6fb4" fill-opacity="0.7"/>
<ellipse cx="757.5" cy="2307.6" rx="4.8" ry="3.2" transform="rotate(6 757.5 2307.6)" fill="#4f6fb4" fill-opacity="0.6"/>
<ellipse cx="895.5" cy="2246.1" rx="3.3" ry="2" transform="rotate(16 895.5 2246.1)" fill="#4f6fb4" fill-opacity="0.6"/>
<ellipse cx="856.1" cy="2348.8" rx="4.4" ry="3.1" transform="rotate(119 856.1 2348.8)" fill="#4f6fb4" fill-opacity="0.7"/>
<ellipse cx="854.9" cy="2381.7" rx="4.3" ry="2.2" transform="rotate(10 854.9 2381.7)" fill="#4f6fb4" fill-opacity="0.8"/>
<ellipse cx="847" cy="2291" rx="4.2" ry="2.6" transform="rotate(93 847 2291)" fill="#4f6fb4" fill-opacity="0.6"/>
<ellipse cx="800.9" cy="2300.2" rx="3.1" ry="3.1" transform="rotate(76 800.9 2300.2)" fill="#4f6fb4" fill-opacity="0.7"/>
<ellipse cx="870.9" cy="2348.6" rx="4.5" ry="2.9" transform="rotate(45 870.9 2348.6)" fill="#4f6fb4" fill-opacity="0.8"/>
<ellipse cx="761.6" cy="2374.3" rx="4.8" ry="3.1" transform="rotate(9 761.6 2374.3)" fill="#4f6fb4" fill-opacity="0.6"/>
<ellipse cx="890.2" cy="2308.5" rx="3.6" ry="3.3" transform="rotate(7 890.2 2308.5)" fill="#4f6fb4" fill-opacity="0.7"/>
<ellipse cx="818.4" cy="2258.6" rx="3.6" ry="2.9" transform="rotate(158 818.4 2258.6)" fill="#4f6fb4" fill-opacity="0.6"/>
<ellipse cx="834.2" cy="2253" rx="4.7" ry="1.9" transform="rotate(6 834.2 2253)" fill="#4f6fb4" fill-opacity="0.7"/>
<ellipse cx="874.6" cy="2285.7" rx="2.9" ry="3" transform="rotate(145 874.6 2285.7)" fill="#4f6fb4" fill-opacity="0.8"/>
<ellipse cx="791.3" cy="2302" rx="3.2" ry="2.6" transform="rotate(59 791.3 2302)" fill="#4f6fb4" fill-opacity="0.7"/>
<ellipse cx="884.5" cy="2379.8" rx="4.1" ry="2" transform="rotate(117 884.5 2379.8)" fill="#4f6fb4" fill-opacity="0.7"/>
<ellipse cx="924.2" cy="2345.1" rx="4.8" ry="2.9" transform="rotate(96 924.2 2345.1)" fill="#4f6fb4" fill-opacity="0.8"/>
<ellipse cx="893.8" cy="2282.5" rx="3" ry="2.4" transform="rotate(93 893.8 2282.5)" fill="#4f6fb4" fill-opacity="0.6"/>
<ellipse cx="799.4" cy="2324" rx="2.7" ry="3" transform="rotate(117 799.4 2324)" fill="#4f6fb4" fill-opacity="0.6"/>
<ellipse cx="790.2" cy="2291.4" rx="3.4" ry="2.9" transform="rotate(90 790.2 2291.4)" fill="#4f6fb4" fill-opacity="0.7"/>
<ellipse cx="761.2" cy="2373.7" rx="3.4" ry="2.3" transform="rotate(12 761.2 2373.7)" fill="#4f6fb4" fill-opacity="0.8"/>
<ellipse cx="825.5" cy="2373.4" rx="5" ry="3.3" transform="rotate(146 825.5 2373.4)" fill="#4f6fb4" fill-opacity="0.8"/>
<ellipse cx="911.4" cy="2357.1" rx="2.9" ry="2.6" transform="rotate(103 911.4 2357.1)" fill="#4f6fb4" fill-opacity="0.8"/>
<ellipse cx="884.5" cy="2342.7" rx="4.5" ry="2.3" transform="rotate(169 884.5 2342.7)" fill="#4f6fb4" fill-opacity="0.7"/>
<ellipse cx="810.5" cy="2307.8" rx="5.1" ry="2.6" transform="rotate(30 810.5 2307.8)" fill="#4f6fb4" fill-opacity="0.6"/>
<ellipse cx="865.8" cy="2322.2" rx="5" ry="2.1" transform="rotate(73 865.8 2322.2)" fill="#4f6fb4" fill-opacity="0.8"/>
<ellipse cx="742" cy="2254.3" rx="4" ry="2.2" transform="rotate(19 742 2254.3)" fill="#4f6fb4" fill-opacity="0.6"/>
<ellipse cx="855.1" cy="2316.9" rx="2.8" ry="1.9" transform="rotate(153 855.1 2316.9)" fill="#4f6fb4" fill-opacity="0.7"/>
<ellipse cx="766" cy="2366" rx="2.7" ry="2.4" transform="rotate(152 766 2366)" fill="#4f6fb4" fill-opacity="0.8"/>
<ellipse cx="787.4" cy="2370.3" rx="4.2" ry="3.1" transform="rotate(160 787.4 2370.3)" fill="#4f6fb4" fill-opacity="0.7"/>
<ellipse cx="863.5" cy="2319.5" rx="5.1" ry="3" transform="rotate(130 863.5 2319.5)" fill="#4f6fb4" fill-opacity="0.8"/>
<ellipse cx="926.1" cy="2277.4" rx="3.1" ry="2.9" transform="rotate(138 926.1 2277.4)" fill="#4f6fb4" fill-opacity="0.7"/>
<ellipse cx="826.9" cy="2298.9" rx="4.9" ry="3" transform="rotate(105 826.9 2298.9)" fill="#4f6fb4" fill-opacity="0.6"/>
<ellipse cx="897.6" cy="2306.9" rx="3.1" ry="2.2" transform="rotate(124 897.6 2306.9)" fill="#4f6fb4" fill-opacity="0.6"/>
<ellipse cx="755.6" cy="2284.1" rx="4.9" ry="2.9" transform="rotate(174 755.6 2284.1)" fill="#4f6fb4" fill-opacity="0.7"/>
<ellipse cx="843.4" cy="2320.5" rx="4" ry="2.6" transform="rotate(147 843.4 2320.5)" fill="#4f6fb4" fill-opacity="0.8"/>
<ellipse cx="811.6" cy="2332" rx="3.4" ry="2.3" transform="rotate(91 811.6 2332)" fill="#4f6fb4" fill-opacity="0.7"/>
<ellipse cx="839.1" cy="2382.8" rx="3" ry="2.8" transform="rotate(179 839.1 2382.8)" fill="#4f6fb4" fill-opacity="0.8"/>
<ellipse cx="842.2" cy="2293.7" rx="3.6" ry="3.2" transform="rotate(161 842.2 2293.7)" fill="#4f6fb4" fill-opacity="0.8"/>
<ellipse cx="906.8" cy="2375.2" rx="4.8" ry="2.4" transform="rotate(83 906.8 2375.2)" fill="#4f6fb4" fill-opacity="0.8"/>
<ellipse cx="804.7" cy="2349.5" rx="3.9" ry="2.3" transform="rotate(82 804.7 2349.5)" fill="#4f6fb4" fill-opacity="0.6"/>
<ellipse cx="801.1" cy="2300.6" rx="2.6" ry="2.1" transform="rotate(46 801.1 2300.6)" fill="#4f6fb4" fill-opacity="0.8"/>
<ellipse cx="846.8" cy="2281.8" rx="5.2" ry="2.2" transform="rotate(92 846.8 2281.8)" fill="#4f6fb4" fill-opacity="0.8"/>
<ellipse cx="866.6" cy="2303.3" rx="4.6" ry="2.5" transform="rotate(128 866.6 2303.3)" fill="#4f6fb4" fill-opacity="0.7"/>
<ellipse cx="921" cy="2344.6" rx="2.8" ry="2" transform="rotate(173 921 2344.6)" fill="#4f6fb4" fill-opacity="0.6"/>
<ellipse cx="737.4" cy="2276.9" rx="3.8" ry="3.2" transform="rotate(71 737.4 2276.9)" fill="#4f6fb4" fill-opacity="0.8"/>
<ellipse cx="894.3" cy="2252.9" rx="4.2" ry="3.3" transform="rotate(98 894.3 2252.9)" fill="#4f6fb4" fill-opacity="0.7"/>
<ellipse cx="799.6" cy="2378.3" rx="5.1" ry="2" transform="rotate(99 799.6 2378.3)" fill="#4f6fb4" fill-opacity="0.7"/>
<ellipse cx="862.7" cy="2257.2" rx="3.3" ry="2.2" transform="rotate(86 862.7 2257.2)" fill="#4f6fb4" fill-opacity="0.8"/>
<ellipse cx="898.9" cy="2354.9" rx="4.4" ry="1.9" transform="rotate(70 898.9 2354.9)" fill="#4f6fb4" fill-opacity="0.8"/>
<ellipse cx="789.4" cy="2314.1" rx="5" ry="2" transform="rotate(153 789.4 2314.1)" fill="#4f6fb4" fill-opacity="0.6"/>
<ellipse cx="807.3" cy="2372.3" rx="3.1" ry="2.6" transform="rotate(74 807.3 2372.3)" fill="#4f6fb4" fill-opacity="0.8"/>
<ellipse cx="925" cy="2282" rx="3.9" ry="3.1" transform="rotate(98 925 2282)" fill="#4f6fb4" fill-opacity="0.6"/>
<ellipse cx="879.8" cy="2289.1" rx="3.9" ry="1.8" transform="rotate(178 879.8 2289.1)" fill="#4f6fb4" fill-opacity="0.7"/>
<ellipse cx="912.1" cy="2381.6" rx="3.3" ry="2.6" transform="rotate(79 912.1 2381.6)" fill="#4f6fb4" fill-opacity="0.8"/>
<ellipse cx="895.9" cy="2273.3" rx="3.3" ry="2.9" transform="rotate(74 895.9 2273.3)" fill="#4f6fb4" fill-opacity="0.6"/>
<ellipse cx="770.2" cy="2321.9" rx="4.2" ry="3.2" transform="rotate(95 770.2 2321.9)" fill="#4f6fb4" fill-opacity="0.7"/>
<ellipse cx="761.2" cy="2300.4" rx="3.3" ry="2.8" transform="rotate(48 761.2 2300.4)" fill="#4f6fb4" fill-opacity="0.6"/>
<ellipse cx="803.7" cy="2308.7" rx="3.5" ry="2.7" transform="rotate(32 803.7 2308.7)" fill="#4f6fb4" fill-opacity="0.8"/>
<ellipse cx="867.1" cy="2318.1" rx="2.8" ry="2.3" transform="rotate(124 867.1 2318.1)" fill="#4f6fb4" fill-opacity="0.7"/>
<ellipse cx="890" cy="2370.3" rx="3.4" ry="2.5" transform="rotate(59 890 2370.3)" fill="#4f6fb4" fill-opacity="0.6"/>
<ellipse cx="759.5" cy="2277.3" rx="2.8" ry="2.6" transform="rotate(126 759.5 2277.3)" fill="#4f6fb4" fill-opacity="0.7"/>
<ellipse cx="865.3" cy="2272.9" rx="3.1" ry="2.7" transform="rotate(159 865.3 2272.9)" fill="#4f6fb4" fill-opacity="0.7"/>
<ellipse cx="733.1" cy="2242.7" rx="3.4" ry="2.7" transform="rotate(15 733.1 2242.7)" fill="#4f6fb4" fill-opacity="0.6"/>
<ellipse cx="864.5" cy="2384" rx="3.5" ry="2.7" transform="rotate(93 864.5 2384)" fill="#4f6fb4" fill-opacity="0.6"/>
<ellipse cx="796.4" cy="2260.2" rx="3.3" ry="3" transform="rotate(122 796.4 2260.2)" fill="#4f6fb4" fill-opacity="0.6"/>
<ellipse cx="747.3" cy="2345.9" rx="2.9" ry="2.3" transform="rotate(48 747.3 2345.9)" fill="#4f6fb4" fill-opacity="0.6"/>
<ellipse cx="738.4" cy="2260.2" rx="3.6" ry="3.2" transform="rotate(114 738.4 2260.2)" fill="#4f6fb4" fill-opacity="0.6"/>
<ellipse cx="864.3" cy="2279.9" rx="3.9" ry="2.3" transform="rotate(170 864.3 2279.9)" fill="#4f6fb4" fill-opacity="0.7"/>
<ellipse cx="888.4" cy="2333.7" rx="4.8" ry="2.7" transform="rotate(156 888.4 2333.7)" fill="#4f6fb4" fill-opacity="0.7"/>
<ellipse cx="864.2" cy="2330.7" rx="4" ry="2.6" transform="rotate(96 864.2 2330.7)" fill="#4f6fb4" fill-opacity="0.7"/>
<ellipse cx="906.8" cy="2332.4" rx="4" ry="1.9" transform="rotate(91 906.8 2332.4)" fill="#4f6fb4" fill-opacity="0.6"/>
<ellipse cx="774.1" cy="2303.4" rx="4" ry="2.2" transform="rotate(48 774.1 2303.4)" fill="#4f6fb4" fill-opacity="0.7"/>
<ellipse cx="824.2" cy="2298.8" rx="2.9" ry="2.4" transform="rotate(117 824.2 2298.8)" fill="#4f6fb4" fill-opacity="0.7"/>
<ellipse cx="838.1" cy="2363.3" rx="4.5" ry="2.8" transform="rotate(5 838.1 2363.3)" fill="#4f6fb4" fill-opacity="0.6"/>
<ellipse cx="864.8" cy="2262.6" rx="5" ry="2" transform="rotate(158 864.8 2262.6)" fill="#4f6fb4" fill-opacity="0.6"/>
<ellipse cx="895.7" cy="2364" rx="3.5" ry="3.1" transform="rotate(28 895.7 2364)" fill="#4f6fb4" fill-opacity="0.8"/>
<ellipse cx="806.4" cy="2304.2" rx="2.9" ry="2.7" transform="rotate(48 806.4 2304.2)" fill="#4f6fb4" fill-opacity="0.8"/>
<ellipse cx="887.5" cy="2328.2" rx="2.6" ry="3.2" transform="rotate(165 887.5 2328.2)" fill="#4f6fb4" fill-opacity="0.7"/>
<ellipse cx="806" cy="2322.1" rx="4.9" ry="2.5" transform="rotate(140 806 2322.1)" fill="#4f6fb4" fill-opacity="0.7"/>
<ellipse cx="814.3" cy="2376.5" rx="3.7" ry="2.7" transform="rotate(9 814.3 2376.5)" fill="#4f6fb4" fill-opacity="0.7"/>
<ellipse cx="739.6" cy="2342.9" rx="2.6" ry="1.9" transform="rotate(20 739.6 2342.9)" fill="#4f6fb4" fill-opacity="0.6"/>
<ellipse cx="831" cy="2292" rx="3.3" ry="3.3" transform="rotate(163 831 2292)" fill="#4f6fb4" fill-opacity="0.7"/>
<ellipse cx="888.1" cy="2359.8" rx="3.2" ry="3" transform="rotate(43 888.1 2359.8)" fill="#4f6fb4" fill-opacity="0.7"/>
<ellipse cx="801.8" cy="2263" rx="4.6" ry="3.2" transform="rotate(56 801.8 2263)" fill="#4f6fb4" fill-opacity="0.8"/>
<ellipse cx="799.5" cy="2336.1" rx="5.2" ry="3" transform="rotate(10 799.5 2336.1)" fill="#4f6fb4" fill-opacity="0.7"/>
<ellipse cx="805.4" cy="2282.8" rx="4.7" ry="2.5" transform="rotate(125 805.4 2282.8)" fill="#4f6fb4" fill-opacity="0.7"/>
<ellipse cx="833.1" cy="2248" rx="4.3" ry="3.1" transform="rotate(30 833.1 2248)" fill="#4f6fb4" fill-opacity="0.7"/>
<ellipse cx="827" cy="2289.7" rx="4.4" ry="3.3" transform="rotate(3 827 2289.7)" fill="#4f6fb4" fill-opacity="0.8"/>
<ellipse cx="806.7" cy="2361.9" rx="3.1" ry="2.9" transform="rotate(17 806.7 2361.9)" fill="#4f6fb4" fill-opacity="0.7"/>
<ellipse cx="920.7" cy="2335.9" rx="4.6" ry="2.5" transform="rotate(84 920.7 2335.9)" fill="#4f6fb4" fill-opacity="0.7"/>
<ellipse cx="882.4" cy="2345.7" rx="3.1" ry="2.5" transform="rotate(97 882.4 2345.7)" fill="#4f6fb4" fill-opacity="0.7"/>
<ellipse cx="912.3" cy="2362.7" rx="3" ry="2.4" transform="rotate(19 912.3 2362.7)" fill="#4f6fb4" fill-opacity="0.6"/>
<ellipse cx="746.8" cy="2266.6" rx="4.6" ry="2.8" transform="rotate(143 746.8 2266.6)" fill="#4f6fb4" fill-opacity="0.6"/>
<ellipse cx="762.5" cy="2382.1" rx="4.7" ry="3.2" transform="rotate(3 762.5 2382.1)" fill="#4f6fb4" fill-opacity="0.7"/>
<ellipse cx="855.4" cy="2347.6" rx="5" ry="2.6" transform="rotate(70 855.4 2347.6)" fill="#4f6fb4" fill-opacity="0.6"/>
<ellipse cx="888.4" cy="2383.6" rx="5" ry="2.8" transform="rotate(61 888.4 2383.6)" fill="#4f6fb4" fill-opacity="0.6"/>
<ellipse cx="882.8" cy="2376.7" rx="5.1" ry="2.1" transform="rotate(105 882.8 2376.7)" fill="#4f6fb4" fill-opacity="0.7"/>
<ellipse cx="815.3" cy="2356.1" rx="5" ry="2.9" transform="rotate(126 815.3 2356.1)" fill="#4f6fb4" fill-opacity="0.8"/>
<ellipse cx="859.2" cy="2318.4" rx="3.2" ry="3" transform="rotate(21 859.2 2318.4)" fill="#4f6fb4" fill-opacity="0.7"/>
<ellipse cx="807.5" cy="2321.8" rx="4.3" ry="2.5" transform="rotate(176 807.5 2321.8)" fill="#4f6fb4" fill-opacity="0.6"/>
<ellipse cx="734.7" cy="2379.6" rx="3.4" ry="2.2" transform="rotate(74 734.7 2379.6)" fill="#4f6fb4" fill-opacity="0.7"/>
<ellipse cx="923.8" cy="2343.4" rx="3.4" ry="2.6" transform="rotate(80 923.8 2343.4)" fill="#4f6fb4" fill-opacity="0.7"/>
<ellipse cx="813.4" cy="2264.3" rx="3.6" ry="2.4" transform="rotate(36 813.4 2264.3)" fill="#4f6fb4" fill-opacity="0.8"/>
<ellipse cx="802.2" cy="2262" rx="4.1" ry="3.1" transform="rotate(140 802.2 2262)" fill="#4f6fb4" fill-opacity="0.7"/>
<ellipse cx="874.3" cy="2289" rx="3" ry="2.2" transform="rotate(62 874.3 2289)" fill="#4f6fb4" fill-opacity="0.6"/>
<ellipse cx="823.1" cy="2261.6" rx="2.9" ry="2.2" transform="rotate(35 823.1 2261.6)" fill="#4f6fb4" fill-opacity="0.8"/>
<ellipse cx="836.7" cy="2268.8" rx="3.7" ry="3.1" transform="rotate(103 836.7 2268.8)" fill="#4f6fb4" fill-opacity="0.7"/>
<ellipse cx="808.3" cy="2268.5" rx="4.2" ry="1.9" transform="rotate(141 808.3 2268.5)" fill="#4f6fb4" fill-opacity="0.6"/>
<ellipse cx="877.2" cy="2295.8" rx="4.4" ry="2.7" transform="rotate(23 877.2 2295.8)" fill="#4f6fb4" fill-opacity="0.7"/>
<ellipse cx="746.7" cy="2275.1" rx="3.6" ry="2.2" transform="rotate(119 746.7 2275.1)" fill="#4f6fb4" fill-opacity="0.8"/>
<ellipse cx="801.6" cy="2362.6" rx="3.2" ry="2.9" transform="rotate(62 801.6 2362.6)" fill="#4f6fb4" fill-opacity="0.7"/>
<ellipse cx="749.5" cy="2360.9" rx="3.1" ry="2.5" transform="rotate(52 749.5 2360.9)" fill="#4f6fb4" fill-opacity="0.8"/>
<ellipse cx="847.4" cy="2329.9" rx="4.6" ry="2.2" transform="rotate(10 847.4 2329.9)" fill="#4f6fb4" fill-opacity="0.8"/>
<ellipse cx="793.6" cy="2358.7" rx="5.1" ry="2.7" transform="rotate(18 793.6 2358.7)" fill="#4f6fb4" fill-opacity="0.8"/>
<ellipse cx="855.3" cy="2275.8" rx="3.1" ry="2.6" transform="rotate(21 855.3 2275.8)" fill="#4f6fb4" fill-opacity="0.8"/>
<ellipse cx="869.8" cy="2359.7" rx="3.6" ry="3.2" transform="rotate(24 869.8 2359.7)" fill="#4f6fb4" fill-opacity="0.8"/>
<ellipse cx="781.7" cy="2240.3" rx="2.9" ry="2.1" transform="rotate(137 781.7 2240.3)" fill="#4f6fb4" fill-opacity="0.7"/>
<ellipse cx="825.9" cy="2329.6" rx="3.3" ry="2.8" transform="rotate(120 825.9 2329.6)" fill="#4f6fb4" fill-opacity="0.8"/>
<ellipse cx="830" cy="2365" rx="5.1" ry="3" transform="rotate(75 830 2365)" fill="#4f6fb4" fill-opacity="0.6"/>
<ellipse cx="751.3" cy="2361.5" rx="2.9" ry="2.6" transform="rotate(81 751.3 2361.5)" fill="#4f6fb4" fill-opacity="0.6"/>
<ellipse cx="773.9" cy="2360.3" rx="4" ry="3.2" transform="rotate(163 773.9 2360.3)" fill="#4f6fb4" fill-opacity="0.6"/>
<ellipse cx="864" cy="2246" rx="3.7" ry="2.5" transform="rotate(172 864 2246)" fill="#4f6fb4" fill-opacity="0.7"/>
<ellipse cx="769.2" cy="2314.4" rx="4" ry="2.1" transform="rotate(64 769.2 2314.4)" fill="#4f6fb4" fill-opacity="0.8"/>
<ellipse cx="922.9" cy="2353.5" rx="2.8" ry="3.2" transform="rotate(82 922.9 2353.5)" fill="#4f6fb4" fill-opacity="0.8"/>
<ellipse cx="766.6" cy="2261.4" rx="5" ry="2.2" transform="rotate(7 766.6 2261.4)" fill="#4f6fb4" fill-opacity="0.7"/>
<ellipse cx="924.7" cy="2362.1" rx="3.6" ry="3.3" transform="rotate(143 924.7 2362.1)" fill="#4f6fb4" fill-opacity="0.8"/>
<ellipse cx="857.8" cy="2297.5" rx="5" ry="2.5" transform="rotate(168 857.8 2297.5)" fill="#4f6fb4" fill-opacity="0.7"/>
<ellipse cx="909" cy="2309.7" rx="3.7" ry="2.7" transform="rotate(57 909 2309.7)" fill="#4f6fb4" fill-opacity="0.6"/>
</g>
<rect x="733.8" y="2241.3" width="191.2" height="143.4" fill="none" stroke="#000" stroke-width="3"/>
<clipPath id="ci2"><rect x="935.2" y="2239.8" width="194" height="146.4"/></clipPath>
<g clip-path="url(#ci2)">
<rect x="935.2" y="2239.8" width="194" height="146.4" fill="#b2c9d6"/>
<ellipse cx="1020" cy="2300" rx="55" ry="40" fill="#c9c2b0" opacity="0.8" filter="url(#b7)"/>
<ellipse cx="1065" cy="2372" rx="9" ry="7" fill="#e2e8e2" opacity="1" filter="url(#b2)"/>
<ellipse cx="1112" cy="2357" rx="9" ry="7" fill="#e2e8e2" opacity="1" filter="url(#b2)"/>
<ellipse cx="960" cy="2330" rx="25" ry="35" fill="#c6c0b0" opacity="0.5" filter="url(#b7)"/>
<rect x="935.2" y="2239.8" width="194" height="146.4" filter="url(#light)" opacity="0.3"/>
<rect x="935.2" y="2239.8" width="194" height="146.4" filter="url(#s200b)" opacity="0.9"/>
</g>
<rect x="936.7" y="2241.3" width="191" height="143.4" fill="none" stroke="#000" stroke-width="3"/>
<rect x="983.7" y="2272.1" width="98.7" height="69.3" fill="none" stroke="#000" stroke-width="3.2"/>
<clipPath id="ci3"><rect x="1136.7" y="2239.8" width="194.3" height="146.4"/></clipPath>
<g clip-path="url(#ci3)">
<rect x="1136.7" y="2239.8" width="194.3" height="146.4" fill="#b7ccd6"/>
<ellipse cx="1230" cy="2310" rx="70" ry="45" fill="#c9c1ae" opacity="0.8" filter="url(#b7)"/>
<ellipse cx="1170" cy="2270" rx="25" ry="20" fill="#c7c0ae" opacity="0.6" filter="url(#b7)"/>
<rect x="1136.7" y="2239.8" width="194.3" height="146.4" filter="url(#light)" opacity="0.3"/>
<rect x="1136.7" y="2239.8" width="194.3" height="146.4" filter="url(#s400b)" opacity="0.3"/>
<ellipse cx="1322.5" cy="2378.6" rx="2.7" ry="1.9" transform="rotate(150 1322.5 2378.6)" fill="#4f6fb4" fill-opacity="0.8"/>
<ellipse cx="1266.8" cy="2284.9" rx="4.2" ry="2.7" transform="rotate(104 1266.8 2284.9)" fill="#4f6fb4" fill-opacity="0.6"/>
<ellipse cx="1220.4" cy="2297.4" rx="4.5" ry="3.3" transform="rotate(170 1220.4 2297.4)" fill="#4f6fb4" fill-opacity="0.7"/>
<ellipse cx="1223.1" cy="2279.1" rx="2.7" ry="1.8" transform="rotate(83 1223.1 2279.1)" fill="#4f6fb4" fill-opacity="0.6"/>
<ellipse cx="1210.5" cy="2370.4" rx="4" ry="2.6" transform="rotate(42 1210.5 2370.4)" fill="#4f6fb4" fill-opacity="0.6"/>
<ellipse cx="1199.9" cy="2259.8" rx="3.9" ry="3.3" transform="rotate(121 1199.9 2259.8)" fill="#4f6fb4" fill-opacity="0.6"/>
<ellipse cx="1310.3" cy="2356.4" rx="4.5" ry="3.2" transform="rotate(137 1310.3 2356.4)" fill="#4f6fb4" fill-opacity="0.8"/>
<ellipse cx="1205.4" cy="2383.4" rx="5.1" ry="2" transform="rotate(135 1205.4 2383.4)" fill="#4f6fb4" fill-opacity="0.8"/>
<ellipse cx="1226.4" cy="2317.4" rx="3.9" ry="3.2" transform="rotate(90 1226.4 2317.4)" fill="#4f6fb4" fill-opacity="0.8"/>
<ellipse cx="1205.5" cy="2369" rx="4.9" ry="2.5" transform="rotate(102 1205.5 2369)" fill="#4f6fb4" fill-opacity="0.8"/>
<ellipse cx="1277.3" cy="2311" rx="3.2" ry="2.3" transform="rotate(125 1277.3 2311)" fill="#4f6fb4" fill-opacity="0.6"/>
<ellipse cx="1313.1" cy="2279.1" rx="5" ry="2.3" transform="rotate(172 1313.1 2279.1)" fill="#4f6fb4" fill-opacity="0.8"/>
<ellipse cx="1234.7" cy="2315.6" rx="4.3" ry="2.7" transform="rotate(56 1234.7 2315.6)" fill="#4f6fb4" fill-opacity="0.6"/>
<ellipse cx="1236.2" cy="2376.6" rx="4.2" ry="1.9" transform="rotate(147 1236.2 2376.6)" fill="#4f6fb4" fill-opacity="0.8"/>
<ellipse cx="1313.1" cy="2267.8" rx="4.5" ry="1.9" transform="rotate(117 1313.1 2267.8)" fill="#4f6fb4" fill-opacity="0.6"/>
<ellipse cx="1180.7" cy="2368" rx="2.9" ry="2.6" transform="rotate(153 1180.7 2368)" fill="#4f6fb4" fill-opacity="0.6"/>
<ellipse cx="1177.6" cy="2368.7" rx="3.7" ry="2.9" transform="rotate(5 1177.6 2368.7)" fill="#4f6fb4" fill-opacity="0.7"/>
<ellipse cx="1170.1" cy="2338.3" rx="2.8" ry="3.2" transform="rotate(4 1170.1 2338.3)" fill="#4f6fb4" fill-opacity="0.8"/>
<ellipse cx="1140.8" cy="2277.2" rx="4.7" ry="2" transform="rotate(33 1140.8 2277.2)" fill="#4f6fb4" fill-opacity="0.8"/>
<ellipse cx="1211.6" cy="2246.1" rx="5.2" ry="2" transform="rotate(6 1211.6 2246.1)" fill="#4f6fb4" fill-opacity="0.7"/>
<ellipse cx="1256.2" cy="2348.5" rx="2.9" ry="2.3" transform="rotate(5 1256.2 2348.5)" fill="#4f6fb4" fill-opacity="0.7"/>
<ellipse cx="1285.5" cy="2348.1" rx="4.9" ry="2.9" transform="rotate(155 1285.5 2348.1)" fill="#4f6fb4" fill-opacity="0.8"/>
<ellipse cx="1228.6" cy="2272.8" rx="4.3" ry="2.3" transform="rotate(18 1228.6 2272.8)" fill="#4f6fb4" fill-opacity="0.7"/>
<ellipse cx="1306.7" cy="2258.5" rx="4.1" ry="2.4" transform="rotate(92 1306.7 2258.5)" fill="#4f6fb4" fill-opacity="0.6"/>
<ellipse cx="1323.2" cy="2277.7" rx="4.2" ry="2.4" transform="rotate(3 1323.2 2277.7)" fill="#4f6fb4" fill-opacity="0.7"/>
<ellipse cx="1164" cy="2248.1" rx="2.7" ry="2" transform="rotate(17 1164 2248.1)" fill="#4f6fb4" fill-opacity="0.7"/>
<ellipse cx="1235.5" cy="2383.8" rx="5" ry="3.3" transform="rotate(41 1235.5 2383.8)" fill="#4f6fb4" fill-opacity="0.7"/>
<ellipse cx="1185.4" cy="2326.4" rx="4.2" ry="3" transform="rotate(127 1185.4 2326.4)" fill="#4f6fb4" fill-opacity="0.6"/>
<ellipse cx="1218.9" cy="2316.8" rx="2.6" ry="1.9" transform="rotate(73 1218.9 2316.8)" fill="#4f6fb4" fill-opacity="0.6"/>
<ellipse cx="1277.3" cy="2275.1" rx="2.9" ry="2.1" transform="rotate(41 1277.3 2275.1)" fill="#4f6fb4" fill-opacity="0.6"/>
<ellipse cx="1237.9" cy="2307.8" rx="3.4" ry="2.8" transform="rotate(38 1237.9 2307.8)" fill="#4f6fb4" fill-opacity="0.8"/>
<ellipse cx="1323.8" cy="2346.5" rx="3.7" ry="2.6" transform="rotate(104 1323.8 2346.5)" fill="#4f6fb4" fill-opacity="0.6"/>
<ellipse cx="1217.9" cy="2316.7" rx="3.1" ry="1.9" transform="rotate(144 1217.9 2316.7)" fill="#4f6fb4" fill-opacity="0.7"/>
<ellipse cx="1237.6" cy="2374.7" rx="4.2" ry="2.2" transform="rotate(177 1237.6 2374.7)" fill="#4f6fb4" fill-opacity="0.7"/>
<ellipse cx="1140.4" cy="2340.1" rx="2.9" ry="2.3" transform="rotate(151 1140.4 2340.1)" fill="#4f6fb4" fill-opacity="0.8"/>
<ellipse cx="1139.8" cy="2305.9" rx="3.7" ry="2.5" transform="rotate(37 1139.8 2305.9)" fill="#4f6fb4" fill-opacity="0.7"/>
<ellipse cx="1151" cy="2281.4" rx="3.6" ry="3.2" transform="rotate(13 1151 2281.4)" fill="#4f6fb4" fill-opacity="0.8"/>
<ellipse cx="1174.1" cy="2323.5" rx="3.6" ry="2.5" transform="rotate(135 1174.1 2323.5)" fill="#4f6fb4" fill-opacity="0.7"/>
<ellipse cx="1160.4" cy="2257.6" rx="2.8" ry="3.1" transform="rotate(115 1160.4 2257.6)" fill="#4f6fb4" fill-opacity="0.8"/>
<ellipse cx="1271.3" cy="2243.4" rx="4.3" ry="3" transform="rotate(130 1271.3 2243.4)" fill="#4f6fb4" fill-opacity="0.7"/>
<ellipse cx="1206.2" cy="2306.7" rx="4.7" ry="2.2" transform="rotate(94 1206.2 2306.7)" fill="#4f6fb4" fill-opacity="0.7"/>
<ellipse cx="1322.2" cy="2357.6" rx="5" ry="3.1" transform="rotate(53 1322.2 2357.6)" fill="#4f6fb4" fill-opacity="0.6"/>
<ellipse cx="1231.7" cy="2277.8" rx="3.7" ry="2.8" transform="rotate(165 1231.7 2277.8)" fill="#4f6fb4" fill-opacity="0.7"/>
<ellipse cx="1295.6" cy="2253.8" rx="3.5" ry="3.3" transform="rotate(26 1295.6 2253.8)" fill="#4f6fb4" fill-opacity="0.7"/>
<ellipse cx="1149.7" cy="2252.4" rx="4.9" ry="3.3" transform="rotate(116 1149.7 2252.4)" fill="#4f6fb4" fill-opacity="0.6"/>
<ellipse cx="1194.3" cy="2273.7" rx="4.3" ry="2.8" transform="rotate(78 1194.3 2273.7)" fill="#4f6fb4" fill-opacity="0.7"/>
<ellipse cx="1158.5" cy="2319" rx="5.1" ry="2.9" transform="rotate(17 1158.5 2319)" fill="#4f6fb4" fill-opacity="0.7"/>
<ellipse cx="1275.7" cy="2277.5" rx="4.9" ry="2.5" transform="rotate(126 1275.7 2277.5)" fill="#4f6fb4" fill-opacity="0.7"/>
<ellipse cx="1330.1" cy="2354.4" rx="4.1" ry="2" transform="rotate(79 1330.1 2354.4)" fill="#4f6fb4" fill-opacity="0.6"/>
<ellipse cx="1252.3" cy="2368.9" rx="3.1" ry="2.6" transform="rotate(86 1252.3 2368.9)" fill="#4f6fb4" fill-opacity="0.7"/>
<ellipse cx="1274.7" cy="2376.9" rx="4.4" ry="2.5" transform="rotate(173 1274.7 2376.9)" fill="#4f6fb4" fill-opacity="0.6"/>
<ellipse cx="1281.6" cy="2336.2" rx="4.6" ry="3.1" transform="rotate(40 1281.6 2336.2)" fill="#4f6fb4" fill-opacity="0.7"/>
<ellipse cx="1214.9" cy="2337.4" rx="5.1" ry="2.8" transform="rotate(2 1214.9 2337.4)" fill="#4f6fb4" fill-opacity="0.7"/>
<ellipse cx="1275" cy="2369.1" rx="4.3" ry="3" transform="rotate(3 1275 2369.1)" fill="#4f6fb4" fill-opacity="0.8"/>
<ellipse cx="1278.4" cy="2328.6" rx="5" ry="3.1" transform="rotate(18 1278.4 2328.6)" fill="#4f6fb4" fill-opacity="0.8"/>
<ellipse cx="1285.7" cy="2269" rx="4.5" ry="2.7" transform="rotate(34 1285.7 2269)" fill="#4f6fb4" fill-opacity="0.8"/>
<ellipse cx="1163.5" cy="2329.4" rx="3.7" ry="2.2" transform="rotate(101 1163.5 2329.4)" fill="#4f6fb4" fill-opacity="0.7"/>
<ellipse cx="1176.5" cy="2381.3" rx="2.8" ry="1.8" transform="rotate(87 1176.5 2381.3)" fill="#4f6fb4" fill-opacity="0.8"/>
<ellipse cx="1264.6" cy="2350.3" rx="3.9" ry="2.8" transform="rotate(60 1264.6 2350.3)" fill="#4f6fb4" fill-opacity="0.6"/>
<ellipse cx="1234.4" cy="2243.8" rx="2.8" ry="2.9" transform="rotate(31 1234.4 2243.8)" fill="#4f6fb4" fill-opacity="0.8"/>
<ellipse cx="1289.1" cy="2299" rx="4.4" ry="3" transform="rotate(155 1289.1 2299)" fill="#4f6fb4" fill-opacity="0.6"/>
<ellipse cx="1168.3" cy="2295.7" rx="3.8" ry="2.2" transform="rotate(1 1168.3 2295.7)" fill="#4f6fb4" fill-opacity="0.7"/>
<ellipse cx="1324.6" cy="2293.4" rx="4" ry="2.4" transform="rotate(79 1324.6 2293.4)" fill="#4f6fb4" fill-opacity="0.8"/>
<ellipse cx="1196.6" cy="2334.8" rx="3.9" ry="2.6" transform="rotate(164 1196.6 2334.8)" fill="#4f6fb4" fill-opacity="0.6"/>
<ellipse cx="1296.9" cy="2284.3" rx="4.3" ry="3" transform="rotate(117 1296.9 2284.3)" fill="#4f6fb4" fill-opacity="0.7"/>
<ellipse cx="1300" cy="2253.4" rx="4.2" ry="2.4" transform="rotate(95 1300 2253.4)" fill="#4f6fb4" fill-opacity="0.8"/>
<ellipse cx="1291.7" cy="2331.9" rx="3.4" ry="2.1" transform="rotate(82 1291.7 2331.9)" fill="#4f6fb4" fill-opacity="0.6"/>
<ellipse cx="1190.6" cy="2380" rx="2.9" ry="3" transform="rotate(68 1190.6 2380)" fill="#4f6fb4" fill-opacity="0.7"/>
<ellipse cx="1198.6" cy="2251.1" rx="3.8" ry="2" transform="rotate(79 1198.6 2251.1)" fill="#4f6fb4" fill-opacity="0.6"/>
<ellipse cx="1310.5" cy="2374.7" rx="3.7" ry="2.8" transform="rotate(167 1310.5 2374.7)" fill="#4f6fb4" fill-opacity="0.6"/>
<ellipse cx="1156" cy="2274.6" rx="3.1" ry="2.8" transform="rotate(67 1156 2274.6)" fill="#4f6fb4" fill-opacity="0.7"/>
<ellipse cx="1291.2" cy="2273.9" rx="4.7" ry="2.7" transform="rotate(72 1291.2 2273.9)" fill="#4f6fb4" fill-opacity="0.8"/>
<ellipse cx="1203.2" cy="2368.4" rx="5" ry="2.6" transform="rotate(124 1203.2 2368.4)" fill="#4f6fb4" fill-opacity="0.8"/>
<ellipse cx="1281" cy="2349.7" rx="4.9" ry="3.2" transform="rotate(135 1281 2349.7)" fill="#4f6fb4" fill-opacity="0.8"/>
<ellipse cx="1193.4" cy="2330.9" rx="4.3" ry="2.4" transform="rotate(71 1193.4 2330.9)" fill="#4f6fb4" fill-opacity="0.6"/>
<ellipse cx="1322.8" cy="2291.6" rx="3.8" ry="3.1" transform="rotate(33 1322.8 2291.6)" fill="#4f6fb4" fill-opacity="0.8"/>
<ellipse cx="1161.4" cy="2243.9" rx="3.5" ry="2.3" transform="rotate(165 1161.4 2243.9)" fill="#4f6fb4" fill-opacity="0.8"/>
<ellipse cx="1284.7" cy="2303.7" rx="4" ry="2.2" transform="rotate(150 1284.7 2303.7)" fill="#4f6fb4" fill-opacity="0.7"/>
<ellipse cx="1192" cy="2333.2" rx="3" ry="2.3" transform="rotate(166 1192 2333.2)" fill="#4f6fb4" fill-opacity="0.6"/>
<ellipse cx="1164.3" cy="2269.7" rx="3.3" ry="2.4" transform="rotate(45 1164.3 2269.7)" fill="#4f6fb4" fill-opacity="0.7"/>
<ellipse cx="1184.6" cy="2274.9" rx="4.2" ry="2.3" transform="rotate(67 1184.6 2274.9)" fill="#4f6fb4" fill-opacity="0.8"/>
<ellipse cx="1148.7" cy="2260.9" rx="4.8" ry="2.4" transform="rotate(140 1148.7 2260.9)" fill="#4f6fb4" fill-opacity="0.6"/>
<ellipse cx="1238.3" cy="2363.6" rx="3.5" ry="3" transform="rotate(109 1238.3 2363.6)" fill="#4f6fb4" fill-opacity="0.7"/>
<ellipse cx="1330.5" cy="2297.2" rx="3.8" ry="2.7" transform="rotate(57 1330.5 2297.2)" fill="#4f6fb4" fill-opacity="0.8"/>
<ellipse cx="1252.8" cy="2325.9" rx="4" ry="3.3" transform="rotate(178 1252.8 2325.9)" fill="#4f6fb4" fill-opacity="0.8"/>
<ellipse cx="1225" cy="2300.1" rx="4" ry="1.9" transform="rotate(19 1225 2300.1)" fill="#4f6fb4" fill-opacity="0.8"/>
<ellipse cx="1161.6" cy="2377" rx="4.4" ry="3.2" transform="rotate(13 1161.6 2377)" fill="#4f6fb4" fill-opacity="0.6"/>
<ellipse cx="1291.7" cy="2241.1" rx="2.9" ry="2.3" transform="rotate(31 1291.7 2241.1)" fill="#4f6fb4" fill-opacity="0.6"/>
<ellipse cx="1266.8" cy="2253.3" rx="5.1" ry="2.8" transform="rotate(8 1266.8 2253.3)" fill="#4f6fb4" fill-opacity="0.8"/>
<ellipse cx="1183.6" cy="2310.3" rx="4.1" ry="2" transform="rotate(90 1183.6 2310.3)" fill="#4f6fb4" fill-opacity="0.6"/>
<ellipse cx="1175.5" cy="2374.3" rx="4.7" ry="2.6" transform="rotate(122 1175.5 2374.3)" fill="#4f6fb4" fill-opacity="0.8"/>
<ellipse cx="1163.9" cy="2311.8" rx="2.9" ry="2" transform="rotate(19 1163.9 2311.8)" fill="#4f6fb4" fill-opacity="0.6"/>
<ellipse cx="1147" cy="2271.3" rx="3.6" ry="2.7" transform="rotate(154 1147 2271.3)" fill="#4f6fb4" fill-opacity="0.8"/>
<ellipse cx="1276.1" cy="2314" rx="5" ry="2" transform="rotate(18 1276.1 2314)" fill="#4f6fb4" fill-opacity="0.8"/>
<ellipse cx="1258.6" cy="2270.6" rx="3.6" ry="2.2" transform="rotate(77 1258.6 2270.6)" fill="#4f6fb4" fill-opacity="0.7"/>
<ellipse cx="1214.1" cy="2356.6" rx="4.7" ry="2.6" transform="rotate(85 1214.1 2356.6)" fill="#4f6fb4" fill-opacity="0.6"/>
<ellipse cx="1285.4" cy="2384.3" rx="3.2" ry="2.9" transform="rotate(125 1285.4 2384.3)" fill="#4f6fb4" fill-opacity="0.7"/>
<ellipse cx="1142.6" cy="2320.6" rx="3.1" ry="2.1" transform="rotate(104 1142.6 2320.6)" fill="#4f6fb4" fill-opacity="0.7"/>
<ellipse cx="1258.2" cy="2348.5" rx="4.4" ry="2.5" transform="rotate(8 1258.2 2348.5)" fill="#4f6fb4" fill-opacity="0.8"/>
<ellipse cx="1296.6" cy="2362.1" rx="4.2" ry="1.9" transform="rotate(35 1296.6 2362.1)" fill="#4f6fb4" fill-opacity="0.6"/>
<ellipse cx="1260.2" cy="2319.5" rx="3.1" ry="3.2" transform="rotate(176 1260.2 2319.5)" fill="#4f6fb4" fill-opacity="0.8"/>
<ellipse cx="1226.8" cy="2282.5" rx="3.1" ry="3" transform="rotate(126 1226.8 2282.5)" fill="#4f6fb4" fill-opacity="0.6"/>
<ellipse cx="1312" cy="2323.1" rx="3.7" ry="2.4" transform="rotate(129 1312 2323.1)" fill="#4f6fb4" fill-opacity="0.7"/>
<ellipse cx="1264.8" cy="2257.7" rx="4.4" ry="2.2" transform="rotate(163 1264.8 2257.7)" fill="#4f6fb4" fill-opacity="0.6"/>
<ellipse cx="1201.4" cy="2318.6" rx="3.6" ry="2.6" transform="rotate(166 1201.4 2318.6)" fill="#4f6fb4" fill-opacity="0.6"/>
<ellipse cx="1286.7" cy="2341.3" rx="4.6" ry="2.5" transform="rotate(81 1286.7 2341.3)" fill="#4f6fb4" fill-opacity="0.7"/>
<ellipse cx="1228.7" cy="2277.1" rx="3.1" ry="2.5" transform="rotate(34 1228.7 2277.1)" fill="#4f6fb4" fill-opacity="0.7"/>
<ellipse cx="1248.1" cy="2285.1" rx="3" ry="2.7" transform="rotate(154 1248.1 2285.1)" fill="#4f6fb4" fill-opacity="0.6"/>
<ellipse cx="1256.3" cy="2336.2" rx="4.9" ry="2.8" transform="rotate(55 1256.3 2336.2)" fill="#4f6fb4" fill-opacity="0.6"/>
<ellipse cx="1299.3" cy="2283.6" rx="2.6" ry="3.1" transform="rotate(35 1299.3 2283.6)" fill="#4f6fb4" fill-opacity="0.6"/>
<ellipse cx="1198.7" cy="2277.3" rx="4.5" ry="2.3" transform="rotate(79 1198.7 2277.3)" fill="#4f6fb4" fill-opacity="0.7"/>
<ellipse cx="1298.6" cy="2242.5" rx="4.1" ry="2" transform="rotate(27 1298.6 2242.5)" fill="#4f6fb4" fill-opacity="0.7"/>
<ellipse cx="1209.7" cy="2249.3" rx="4.1" ry="3.2" transform="rotate(116 1209.7 2249.3)" fill="#4f6fb4" fill-opacity="0.7"/>
<ellipse cx="1292.3" cy="2373.9" rx="3" ry="2.2" transform="rotate(173 1292.3 2373.9)" fill="#4f6fb4" fill-opacity="0.8"/>
<ellipse cx="1176.1" cy="2342.8" rx="4.9" ry="2.7" transform="rotate(126 1176.1 2342.8)" fill="#4f6fb4" fill-opacity="0.7"/>
<ellipse cx="1182.3" cy="2271" rx="2.8" ry="2.8" transform="rotate(24 1182.3 2271)" fill="#4f6fb4" fill-opacity="0.7"/>
<ellipse cx="1212.7" cy="2303.6" rx="5.1" ry="2.4" transform="rotate(85 1212.7 2303.6)" fill="#4f6fb4" fill-opacity="0.7"/>
<ellipse cx="1178.5" cy="2272.6" rx="4" ry="3" transform="rotate(16 1178.5 2272.6)" fill="#4f6fb4" fill-opacity="0.8"/>
<ellipse cx="1267.8" cy="2247.7" rx="4.4" ry="2.4" transform="rotate(92 1267.8 2247.7)" fill="#4f6fb4" fill-opacity="0.6"/>
<ellipse cx="1235.8" cy="2315.9" rx="4.6" ry="2.7" transform="rotate(126 1235.8 2315.9)" fill="#4f6fb4" fill-opacity="0.8"/>
<ellipse cx="1179.7" cy="2243.4" rx="3.8" ry="2" transform="rotate(25 1179.7 2243.4)" fill="#4f6fb4" fill-opacity="0.6"/>
<ellipse cx="1241.2" cy="2329.9" rx="4.3" ry="3.2" transform="rotate(18 1241.2 2329.9)" fill="#4f6fb4" fill-opacity="0.7"/>
<ellipse cx="1153.5" cy="2337.9" rx="3.7" ry="2" transform="rotate(55 1153.5 2337.9)" fill="#4f6fb4" fill-opacity="0.7"/>
<ellipse cx="1228.6" cy="2378.1" rx="3.5" ry="2.3" transform="rotate(166 1228.6 2378.1)" fill="#4f6fb4" fill-opacity="0.7"/>
<ellipse cx="1157.5" cy="2354.6" rx="3.5" ry="3.2" transform="rotate(114 1157.5 2354.6)" fill="#4f6fb4" fill-opacity="0.8"/>
<ellipse cx="1310.8" cy="2314.4" rx="5.1" ry="1.8" transform="rotate(61 1310.8 2314.4)" fill="#4f6fb4" fill-opacity="0.8"/>
<ellipse cx="1138.3" cy="2338.2" rx="5.2" ry="2.9" transform="rotate(155 1138.3 2338.2)" fill="#4f6fb4" fill-opacity="0.6"/>
<ellipse cx="1241.7" cy="2329" rx="3.7" ry="2.4" transform="rotate(142 1241.7 2329)" fill="#4f6fb4" fill-opacity="0.6"/>
<ellipse cx="1145.4" cy="2326.6" rx="5.1" ry="3" transform="rotate(121 1145.4 2326.6)" fill="#4f6fb4" fill-opacity="0.6"/>
<ellipse cx="1312.4" cy="2245.7" rx="3.2" ry="3" transform="rotate(161 1312.4 2245.7)" fill="#4f6fb4" fill-opacity="0.7"/>
<ellipse cx="1313.4" cy="2256" rx="4.2" ry="1.9" transform="rotate(42 1313.4 2256)" fill="#4f6fb4" fill-opacity="0.6"/>
<ellipse cx="1137.9" cy="2299.1" rx="3.9" ry="2.2" transform="rotate(117 1137.9 2299.1)" fill="#4f6fb4" fill-opacity="0.6"/>
<ellipse cx="1237.2" cy="2317.1" rx="3.6" ry="3.2" transform="rotate(22 1237.2 2317.1)" fill="#4f6fb4" fill-opacity="0.7"/>
<ellipse cx="1226" cy="2294.4" rx="5.1" ry="2.7" transform="rotate(92 1226 2294.4)" fill="#4f6fb4" fill-opacity="0.7"/>
<ellipse cx="1221.7" cy="2379" rx="4.7" ry="2.8" transform="rotate(29 1221.7 2379)" fill="#4f6fb4" fill-opacity="0.7"/>
<ellipse cx="1161.5" cy="2291.2" rx="2.7" ry="2.9" transform="rotate(175 1161.5 2291.2)" fill="#4f6fb4" fill-opacity="0.7"/>
<ellipse cx="1247.4" cy="2276.5" rx="3.8" ry="2.5" transform="rotate(76 1247.4 2276.5)" fill="#4f6fb4" fill-opacity="0.6"/>
<ellipse cx="1179.3" cy="2349.7" rx="5.1" ry="3" transform="rotate(111 1179.3 2349.7)" fill="#4f6fb4" fill-opacity="0.6"/>
<ellipse cx="1195.4" cy="2362.8" rx="5.1" ry="2.6" transform="rotate(102 1195.4 2362.8)" fill="#4f6fb4" fill-opacity="0.8"/>
<ellipse cx="1184.7" cy="2344.1" rx="3.5" ry="3.1" transform="rotate(83 1184.7 2344.1)" fill="#4f6fb4" fill-opacity="0.7"/>
<ellipse cx="1244.7" cy="2318.1" rx="3.8" ry="3.2" transform="rotate(135 1244.7 2318.1)" fill="#4f6fb4" fill-opacity="0.7"/>
<ellipse cx="1234.9" cy="2371.2" rx="4.5" ry="2.8" transform="rotate(172 1234.9 2371.2)" fill="#4f6fb4" fill-opacity="0.6"/>
<ellipse cx="1252.9" cy="2331.2" rx="3.8" ry="3.2" transform="rotate(174 1252.9 2331.2)" fill="#4f6fb4" fill-opacity="0.7"/>
<ellipse cx="1256.4" cy="2351.9" rx="4.4" ry="2.3" transform="rotate(143 1256.4 2351.9)" fill="#4f6fb4" fill-opacity="0.7"/>
<ellipse cx="1165.2" cy="2337.1" rx="4.3" ry="2.4" transform="rotate(89 1165.2 2337.1)" fill="#4f6fb4" fill-opacity="0.8"/>
<ellipse cx="1293.7" cy="2299.4" rx="5" ry="2.7" transform="rotate(72 1293.7 2299.4)" fill="#4f6fb4" fill-opacity="0.7"/>
<ellipse cx="1288.9" cy="2371" rx="4.3" ry="2.8" transform="rotate(72 1288.9 2371)" fill="#4f6fb4" fill-opacity="0.6"/>
<ellipse cx="1225.1" cy="2256.5" rx="5" ry="2.3" transform="rotate(108 1225.1 2256.5)" fill="#4f6fb4" fill-opacity="0.8"/>
<ellipse cx="1171.4" cy="2361.8" rx="3.4" ry="1.9" transform="rotate(107 1171.4 2361.8)" fill="#4f6fb4" fill-opacity="0.7"/>
<ellipse cx="1315.3" cy="2304.9" rx="2.8" ry="1.8" transform="rotate(5 1315.3 2304.9)" fill="#4f6fb4" fill-opacity="0.7"/>
<ellipse cx="1275.5" cy="2247.3" rx="3.5" ry="2.5" transform="rotate(161 1275.5 2247.3)" fill="#4f6fb4" fill-opacity="0.8"/>
<ellipse cx="1306.7" cy="2333.3" rx="4.1" ry="2.1" transform="rotate(110 1306.7 2333.3)" fill="#4f6fb4" fill-opacity="0.6"/>
<ellipse cx="1195.6" cy="2361.3" rx="4.1" ry="2.9" transform="rotate(83 1195.6 2361.3)" fill="#4f6fb4" fill-opacity="0.6"/>
<ellipse cx="1234.6" cy="2323.7" rx="3.2" ry="3.1" transform="rotate(176 1234.6 2323.7)" fill="#4f6fb4" fill-opacity="0.6"/>
<ellipse cx="1183.8" cy="2358.6" rx="4.5" ry="2.1" transform="rotate(105 1183.8 2358.6)" fill="#4f6fb4" fill-opacity="0.6"/>
<ellipse cx="1304.3" cy="2325.8" rx="3.9" ry="2" transform="rotate(73 1304.3 2325.8)" fill="#4f6fb4" fill-opacity="0.7"/>
<ellipse cx="1207" cy="2266.1" rx="3.1" ry="2.9" transform="rotate(166 1207 2266.1)" fill="#4f6fb4" fill-opacity="0.8"/>
<ellipse cx="1256.2" cy="2355.6" rx="2.9" ry="2.1" transform="rotate(126 1256.2 2355.6)" fill="#4f6fb4" fill-opacity="0.6"/>
<ellipse cx="1153" cy="2353.8" rx="3.1" ry="2.1" transform="rotate(71 1153 2353.8)" fill="#4f6fb4" fill-opacity="0.8"/>
<ellipse cx="1138.7" cy="2368.3" rx="3.4" ry="2.7" transform="rotate(85 1138.7 2368.3)" fill="#4f6fb4" fill-opacity="0.6"/>
<ellipse cx="1322.9" cy="2265.5" rx="4.7" ry="3.1" transform="rotate(81 1322.9 2265.5)" fill="#4f6fb4" fill-opacity="0.8"/>
<ellipse cx="1148.9" cy="2261.4" rx="3.9" ry="1.9" transform="rotate(145 1148.9 2261.4)" fill="#4f6fb4" fill-opacity="0.7"/>
<ellipse cx="1291.9" cy="2281.7" rx="2.7" ry="3.1" transform="rotate(37 1291.9 2281.7)" fill="#4f6fb4" fill-opacity="0.7"/>
<ellipse cx="1161.1" cy="2325.7" rx="3.8" ry="2.1" transform="rotate(7 1161.1 2325.7)" fill="#4f6fb4" fill-opacity="0.7"/>
<ellipse cx="1288.9" cy="2262.3" rx="3.2" ry="2.7" transform="rotate(114 1288.9 2262.3)" fill="#4f6fb4" fill-opacity="0.8"/>
<ellipse cx="1262" cy="2364.2" rx="3" ry="3.2" transform="rotate(5 1262 2364.2)" fill="#4f6fb4" fill-opacity="0.6"/>
<ellipse cx="1156.8" cy="2353.3" rx="3.9" ry="3.2" transform="rotate(175 1156.8 2353.3)" fill="#4f6fb4" fill-opacity="0.8"/>
<ellipse cx="1256" cy="2291.2" rx="5.1" ry="2.9" transform="rotate(35 1256 2291.2)" fill="#4f6fb4" fill-opacity="0.7"/>
<ellipse cx="1140.7" cy="2242.4" rx="4.3" ry="2.9" transform="rotate(154 1140.7 2242.4)" fill="#4f6fb4" fill-opacity="0.8"/>
<ellipse cx="1163.3" cy="2347.8" rx="5.2" ry="2.8" transform="rotate(86 1163.3 2347.8)" fill="#4f6fb4" fill-opacity="0.6"/>
<ellipse cx="1149.1" cy="2331.4" rx="5.1" ry="2" transform="rotate(147 1149.1 2331.4)" fill="#4f6fb4" fill-opacity="0.8"/>
<ellipse cx="1205.1" cy="2363.6" rx="3" ry="2.3" transform="rotate(101 1205.1 2363.6)" fill="#4f6fb4" fill-opacity="0.8"/>
<ellipse cx="1240.8" cy="2252.9" rx="5" ry="2.7" transform="rotate(140 1240.8 2252.9)" fill="#4f6fb4" fill-opacity="0.6"/>
<ellipse cx="1201.8" cy="2253" rx="3.1" ry="2.5" transform="rotate(73 1201.8 2253)" fill="#4f6fb4" fill-opacity="0.7"/>
<ellipse cx="1298.7" cy="2288.7" rx="5" ry="2.8" transform="rotate(62 1298.7 2288.7)" fill="#4f6fb4" fill-opacity="0.6"/>
<ellipse cx="1322.5" cy="2336" rx="2.7" ry="2.8" transform="rotate(68 1322.5 2336)" fill="#4f6fb4" fill-opacity="0.7"/>
<ellipse cx="1285.4" cy="2272.5" rx="3.3" ry="2.6" transform="rotate(162 1285.4 2272.5)" fill="#4f6fb4" fill-opacity="0.6"/>
<ellipse cx="1298.8" cy="2345.3" rx="3.1" ry="2.8" transform="rotate(111 1298.8 2345.3)" fill="#4f6fb4" fill-opacity="0.8"/>
<ellipse cx="1241.1" cy="2285.7" rx="3.9" ry="2.2" transform="rotate(81 1241.1 2285.7)" fill="#4f6fb4" fill-opacity="0.7"/>
<ellipse cx="1157.4" cy="2273.8" rx="3.5" ry="2.4" transform="rotate(101 1157.4 2273.8)" fill="#4f6fb4" fill-opacity="0.8"/>
<ellipse cx="1187" cy="2321" rx="3.5" ry="2.1" transform="rotate(25 1187 2321)" fill="#4f6fb4" fill-opacity="0.8"/>
<ellipse cx="1317.8" cy="2361.4" rx="3" ry="2" transform="rotate(18 1317.8 2361.4)" fill="#4f6fb4" fill-opacity="0.6"/>
<ellipse cx="1219.5" cy="2240.9" rx="3.7" ry="2.8" transform="rotate(150 1219.5 2240.9)" fill="#4f6fb4" fill-opacity="0.6"/>
<ellipse cx="1137.1" cy="2356.2" rx="3.6" ry="2.3" transform="rotate(27 1137.1 2356.2)" fill="#4f6fb4" fill-opacity="0.6"/>
<ellipse cx="1188.4" cy="2277.4" rx="3.2" ry="2.6" transform="rotate(146 1188.4 2277.4)" fill="#4f6fb4" fill-opacity="0.6"/>
<ellipse cx="1217.6" cy="2310.6" rx="4.8" ry="2.9" transform="rotate(177 1217.6 2310.6)" fill="#4f6fb4" fill-opacity="0.6"/>
<ellipse cx="1293.2" cy="2282.9" rx="4.1" ry="2.6" transform="rotate(103 1293.2 2282.9)" fill="#4f6fb4" fill-opacity="0.6"/>
<ellipse cx="1150.7" cy="2241" rx="5" ry="3.1" transform="rotate(82 1150.7 2241)" fill="#4f6fb4" fill-opacity="0.6"/>
<ellipse cx="1299.5" cy="2313.2" rx="3.8" ry="2.8" transform="rotate(28 1299.5 2313.2)" fill="#4f6fb4" fill-opacity="0.6"/>
<ellipse cx="1295" cy="2347.3" rx="5.2" ry="2.5" transform="rotate(174 1295 2347.3)" fill="#4f6fb4" fill-opacity="0.8"/>
<ellipse cx="1235.3" cy="2370.4" rx="3" ry="1.9" transform="rotate(146 1235.3 2370.4)" fill="#4f6fb4" fill-opacity="0.6"/>
<ellipse cx="1236.8" cy="2347.7" rx="4.4" ry="2.1" transform="rotate(141 1236.8 2347.7)" fill="#4f6fb4" fill-opacity="0.6"/>
<ellipse cx="1245.9" cy="2371.2" rx="4" ry="2.3" transform="rotate(179 1245.9 2371.2)" fill="#4f6fb4" fill-opacity="0.8"/>
<ellipse cx="1290.5" cy="2371" rx="5" ry="2.7" transform="rotate(148 1290.5 2371)" fill="#4f6fb4" fill-opacity="0.7"/>
<ellipse cx="1186.3" cy="2280.5" rx="3.3" ry="1.8" transform="rotate(111 1186.3 2280.5)" fill="#4f6fb4" fill-opacity="0.7"/>
<ellipse cx="1313.6" cy="2247.3" rx="4.6" ry="2.1" transform="rotate(58 1313.6 2247.3)" fill="#4f6fb4" fill-opacity="0.6"/>
<ellipse cx="1322.7" cy="2334.4" rx="3.8" ry="2.1" transform="rotate(8 1322.7 2334.4)" fill="#4f6fb4" fill-opacity="0.7"/>
<ellipse cx="1326" cy="2304.9" rx="4.4" ry="3.1" transform="rotate(8 1326 2304.9)" fill="#4f6fb4" fill-opacity="0.6"/>
<ellipse cx="1217.9" cy="2272.9" rx="3.6" ry="2.8" transform="rotate(24 1217.9 2272.9)" fill="#4f6fb4" fill-opacity="0.8"/>
<ellipse cx="1194.3" cy="2336" rx="3.1" ry="3" transform="rotate(75 1194.3 2336)" fill="#4f6fb4" fill-opacity="0.8"/>
</g>
<rect x="1138.2" y="2241.3" width="191.3" height="143.4" fill="none" stroke="#000" stroke-width="3"/>
<clipPath id="ci4"><rect x="530.2" y="2394" width="195.3" height="145.5"/></clipPath>
<g clip-path="url(#ci4)">
<rect x="530.2" y="2394" width="195.3" height="145.5" fill="#b3c6d2"/>
<ellipse cx="690" cy="2512" rx="40" ry="30" fill="#5a76b8" opacity="0.5" filter="url(#b7)"/>
<rect x="530.2" y="2394" width="195.3" height="145.5" filter="url(#s200c)" opacity="0.8"/>
<ellipse cx="575" cy="2428" rx="22" ry="24" fill="#c8bca8" opacity="0.8" filter="url(#b7)"/>
<ellipse cx="612" cy="2470" rx="28" ry="18" fill="#c6bba8" opacity="0.8" filter="url(#b7)"/>
<ellipse cx="700" cy="2440" rx="17" ry="20" fill="#c6bca9" opacity="0.8" filter="url(#b7)"/>
<ellipse cx="640" cy="2512" rx="24" ry="16" fill="#c6bca9" opacity="0.7" filter="url(#b7)"/>
<ellipse cx="556" cy="2510" rx="20" ry="16" fill="#c6bca9" opacity="0.7" filter="url(#b7)"/>
<ellipse cx="548" cy="2460" rx="10" ry="22" fill="#cbd6d4" opacity="0.7" filter="url(#b7)"/>
<ellipse cx="663" cy="2402" rx="16" ry="8" fill="#cdd8d8" opacity="0.7" filter="url(#b7)"/>
</g>
<rect x="531.7" y="2395.5" width="192.3" height="142.5" fill="none" stroke="#000" stroke-width="3"/>
<rect x="545.4" y="2403.3" width="99" height="69.5" fill="none" stroke="#000" stroke-width="3.2"/>
<clipPath id="ci5"><rect x="732.3" y="2394" width="194.2" height="145.5"/></clipPath>
<g clip-path="url(#ci5)">
<rect x="732.3" y="2394" width="194.2" height="145.5" fill="#afc6d0"/>
<ellipse cx="783" cy="2441" rx="42" ry="44" fill="#c4bba8" opacity="1" filter="url(#b7)"/>
<ellipse cx="783" cy="2441" rx="30" ry="30" fill="#c6b8a4" opacity="0.8" filter="url(#b7)"/>
<ellipse cx="880" cy="2515" rx="55" ry="32" fill="#c4bcac" opacity="0.9" filter="url(#b7)"/>
<ellipse cx="760" cy="2515" rx="25" ry="25" fill="#bac6c4" opacity="0.6" filter="url(#b7)"/>
<rect x="732.3" y="2394" width="194.2" height="145.5" filter="url(#s400c)" opacity="0.2"/>
<ellipse cx="748.8" cy="2434.2" rx="5.2" ry="2.5" transform="rotate(55 748.8 2434.2)" fill="#4a6cb4" fill-opacity="0.6"/>
<ellipse cx="779.8" cy="2517.8" rx="4.1" ry="2" transform="rotate(88 779.8 2517.8)" fill="#4a6cb4" fill-opacity="0.7"/>
<ellipse cx="782.8" cy="2516.1" rx="3.7" ry="2.5" transform="rotate(81 782.8 2516.1)" fill="#4a6cb4" fill-opacity="0.7"/>
<ellipse cx="772.2" cy="2505.4" rx="5.4" ry="1.8" transform="rotate(78 772.2 2505.4)" fill="#4a6cb4" fill-opacity="0.7"/>
<ellipse cx="742.5" cy="2445.4" rx="4.8" ry="2.6" transform="rotate(95 742.5 2445.4)" fill="#4a6cb4" fill-opacity="0.8"/>
<ellipse cx="783.7" cy="2529.9" rx="4.5" ry="2.7" transform="rotate(60 783.7 2529.9)" fill="#4a6cb4" fill-opacity="0.8"/>
<ellipse cx="780.7" cy="2524.3" rx="3.9" ry="3" transform="rotate(60 780.7 2524.3)" fill="#4a6cb4" fill-opacity="0.7"/>
<ellipse cx="747.4" cy="2444.2" rx="4.9" ry="2.2" transform="rotate(69 747.4 2444.2)" fill="#4a6cb4" fill-opacity="0.7"/>
<ellipse cx="759.5" cy="2485.3" rx="6.3" ry="2.8" transform="rotate(89 759.5 2485.3)" fill="#4a6cb4" fill-opacity="0.8"/>
<ellipse cx="746.1" cy="2423.3" rx="6" ry="3" transform="rotate(97 746.1 2423.3)" fill="#4a6cb4" fill-opacity="0.7"/>
<ellipse cx="769.8" cy="2502" rx="5.1" ry="2.1" transform="rotate(43 769.8 2502)" fill="#4a6cb4" fill-opacity="0.8"/>
<ellipse cx="784.4" cy="2541.1" rx="3.5" ry="2.7" transform="rotate(58 784.4 2541.1)" fill="#4a6cb4" fill-opacity="0.6"/>
<ellipse cx="747.3" cy="2443.1" rx="3.3" ry="2.5" transform="rotate(54 747.3 2443.1)" fill="#4a6cb4" fill-opacity="0.8"/>
<ellipse cx="755.2" cy="2447" rx="6.1" ry="3" transform="rotate(77 755.2 2447)" fill="#4a6cb4" fill-opacity="0.8"/>
<ellipse cx="745.1" cy="2446.1" rx="3.3" ry="2" transform="rotate(72 745.1 2446.1)" fill="#4a6cb4" fill-opacity="0.7"/>
<ellipse cx="741.5" cy="2423.3" rx="3.3" ry="2.8" transform="rotate(67 741.5 2423.3)" fill="#4a6cb4" fill-opacity="0.8"/>
<ellipse cx="785.2" cy="2525" rx="4.9" ry="2.5" transform="rotate(68 785.2 2525)" fill="#4a6cb4" fill-opacity="0.7"/>
<ellipse cx="763.1" cy="2489.6" rx="6.3" ry="2.4" transform="rotate(61 763.1 2489.6)" fill="#4a6cb4" fill-opacity="0.8"/>
<ellipse cx="748.7" cy="2434.2" rx="4.9" ry="2.4" transform="rotate(52 748.7 2434.2)" fill="#4a6cb4" fill-opacity="0.7"/>
<ellipse cx="755.5" cy="2486.4" rx="3.3" ry="2.5" transform="rotate(71 755.5 2486.4)" fill="#4a6cb4" fill-opacity="0.6"/>
<ellipse cx="769.6" cy="2487.8" rx="4.4" ry="2.6" transform="rotate(77 769.6 2487.8)" fill="#4a6cb4" fill-opacity="0.6"/>
<ellipse cx="739.1" cy="2409.1" rx="5.4" ry="3" transform="rotate(64 739.1 2409.1)" fill="#4a6cb4" fill-opacity="0.7"/>
<ellipse cx="764.6" cy="2484.4" rx="4.2" ry="2.2" transform="rotate(70 764.6 2484.4)" fill="#4a6cb4" fill-opacity="0.6"/>
<ellipse cx="748.4" cy="2455.8" rx="5.7" ry="1.7" transform="rotate(80 748.4 2455.8)" fill="#4a6cb4" fill-opacity="0.8"/>
<ellipse cx="747.7" cy="2445.6" rx="4" ry="1.9" transform="rotate(73 747.7 2445.6)" fill="#4a6cb4" fill-opacity="0.8"/>
<ellipse cx="736.3" cy="2416.1" rx="4.3" ry="2.1" transform="rotate(93 736.3 2416.1)" fill="#4a6cb4" fill-opacity="0.7"/>
<ellipse cx="779.1" cy="2521.2" rx="5.3" ry="2.9" transform="rotate(60 779.1 2521.2)" fill="#4a6cb4" fill-opacity="0.6"/>
<ellipse cx="739.8" cy="2418.2" rx="4.9" ry="1.9" transform="rotate(92 739.8 2418.2)" fill="#4a6cb4" fill-opacity="0.8"/>
<ellipse cx="859.7" cy="2421.6" rx="5.3" ry="2.7" transform="rotate(125 859.7 2421.6)" fill="#4a6cb4" fill-opacity="0.6"/>
<ellipse cx="839.4" cy="2427.7" rx="5.8" ry="2.1" transform="rotate(125 839.4 2427.7)" fill="#4a6cb4" fill-opacity="0.7"/>
<ellipse cx="841.4" cy="2456.1" rx="3.7" ry="1.7" transform="rotate(143 841.4 2456.1)" fill="#4a6cb4" fill-opacity="0.8"/>
<ellipse cx="787.1" cy="2535.9" rx="4.6" ry="2.9" transform="rotate(131 787.1 2535.9)" fill="#4a6cb4" fill-opacity="0.6"/>
<ellipse cx="803" cy="2498.1" rx="4.9" ry="2.1" transform="rotate(101 803 2498.1)" fill="#4a6cb4" fill-opacity="0.6"/>
<ellipse cx="876.6" cy="2410.7" rx="5.1" ry="2.1" transform="rotate(149 876.6 2410.7)" fill="#4a6cb4" fill-opacity="0.6"/>
<ellipse cx="801.2" cy="2526" rx="6.2" ry="2.9" transform="rotate(113 801.2 2526)" fill="#4a6cb4" fill-opacity="0.6"/>
<ellipse cx="816.6" cy="2503" rx="3.8" ry="2.1" transform="rotate(117 816.6 2503)" fill="#4a6cb4" fill-opacity="0.7"/>
<ellipse cx="828.3" cy="2447.1" rx="4.3" ry="2" transform="rotate(139 828.3 2447.1)" fill="#4a6cb4" fill-opacity="0.7"/>
<ellipse cx="806.9" cy="2506.2" rx="4.4" ry="2" transform="rotate(111 806.9 2506.2)" fill="#4a6cb4" fill-opacity="0.8"/>
<ellipse cx="857.9" cy="2417" rx="5.9" ry="2.8" transform="rotate(108 857.9 2417)" fill="#4a6cb4" fill-opacity="0.7"/>
<ellipse cx="810.1" cy="2521.8" rx="3.4" ry="2.1" transform="rotate(98 810.1 2521.8)" fill="#4a6cb4" fill-opacity="0.7"/>
<ellipse cx="840.3" cy="2456.1" rx="3.2" ry="1.8" transform="rotate(102 840.3 2456.1)" fill="#4a6cb4" fill-opacity="0.6"/>
<ellipse cx="870.9" cy="2405.4" rx="6.4" ry="2.8" transform="rotate(112 870.9 2405.4)" fill="#4a6cb4" fill-opacity="0.7"/>
<ellipse cx="844.4" cy="2438" rx="5.3" ry="2.5" transform="rotate(126 844.4 2438)" fill="#4a6cb4" fill-opacity="0.6"/>
<ellipse cx="838.5" cy="2435.4" rx="3.6" ry="2.4" transform="rotate(144 838.5 2435.4)" fill="#4a6cb4" fill-opacity="0.7"/>
<ellipse cx="869.1" cy="2406.4" rx="5.2" ry="2.7" transform="rotate(127 869.1 2406.4)" fill="#4a6cb4" fill-opacity="0.8"/>
<ellipse cx="811.8" cy="2478.5" rx="4.6" ry="2.2" transform="rotate(120 811.8 2478.5)" fill="#4a6cb4" fill-opacity="0.8"/>
<ellipse cx="834.8" cy="2452.4" rx="4" ry="2.4" transform="rotate(130 834.8 2452.4)" fill="#4a6cb4" fill-opacity="0.6"/>
<ellipse cx="837.3" cy="2454.7" rx="4.6" ry="2.8" transform="rotate(142 837.3 2454.7)" fill="#4a6cb4" fill-opacity="0.7"/>
<ellipse cx="796.9" cy="2523.4" rx="4.7" ry="1.9" transform="rotate(125 796.9 2523.4)" fill="#4a6cb4" fill-opacity="0.7"/>
<ellipse cx="802" cy="2523.3" rx="5.8" ry="2.6" transform="rotate(121 802 2523.3)" fill="#4a6cb4" fill-opacity="0.7"/>
<ellipse cx="868.3" cy="2410.9" rx="3.7" ry="2.7" transform="rotate(110 868.3 2410.9)" fill="#4a6cb4" fill-opacity="0.6"/>
<ellipse cx="868.6" cy="2410.4" rx="6.1" ry="1.9" transform="rotate(109 868.6 2410.4)" fill="#4a6cb4" fill-opacity="0.8"/>
<ellipse cx="862.8" cy="2410" rx="6" ry="2.9" transform="rotate(137 862.8 2410)" fill="#4a6cb4" fill-opacity="0.8"/>
<ellipse cx="880.3" cy="2406.7" rx="5.7" ry="2.4" transform="rotate(144 880.3 2406.7)" fill="#4a6cb4" fill-opacity="0.6"/>
<ellipse cx="804.9" cy="2499.4" rx="4.3" ry="2.4" transform="rotate(126 804.9 2499.4)" fill="#4a6cb4" fill-opacity="0.6"/>
<ellipse cx="859.5" cy="2420.5" rx="4" ry="2.5" transform="rotate(146 859.5 2420.5)" fill="#4a6cb4" fill-opacity="0.7"/>
<ellipse cx="841" cy="2445.6" rx="4.6" ry="1.8" transform="rotate(120 841 2445.6)" fill="#4a6cb4" fill-opacity="0.8"/>
<ellipse cx="831.4" cy="2448.8" rx="5.7" ry="1.9" transform="rotate(130 831.4 2448.8)" fill="#4a6cb4" fill-opacity="0.8"/>
<ellipse cx="816" cy="2491.1" rx="5.3" ry="2.9" transform="rotate(103 816 2491.1)" fill="#4a6cb4" fill-opacity="0.6"/>
<ellipse cx="807" cy="2500.1" rx="6.2" ry="2.4" transform="rotate(106 807 2500.1)" fill="#4a6cb4" fill-opacity="0.8"/>
<ellipse cx="858.5" cy="2421.1" rx="5.1" ry="2.1" transform="rotate(120 858.5 2421.1)" fill="#4a6cb4" fill-opacity="0.8"/>
<ellipse cx="791.6" cy="2531.5" rx="4.2" ry="2.6" transform="rotate(105 791.6 2531.5)" fill="#4a6cb4" fill-opacity="0.8"/>
<ellipse cx="887.7" cy="2404.9" rx="3.3" ry="2.3" transform="rotate(0 887.7 2404.9)" fill="#4a6cb4" fill-opacity="0.6"/>
<ellipse cx="866.5" cy="2411.9" rx="4.3" ry="2.7" transform="rotate(-11 866.5 2411.9)" fill="#4a6cb4" fill-opacity="0.8"/>
<ellipse cx="879.4" cy="2393.9" rx="6" ry="2.8" transform="rotate(9 879.4 2393.9)" fill="#4a6cb4" fill-opacity="0.7"/>
<ellipse cx="900.7" cy="2399.4" rx="6" ry="2.2" transform="rotate(18 900.7 2399.4)" fill="#4a6cb4" fill-opacity="0.8"/>
<ellipse cx="876.9" cy="2405.8" rx="5.6" ry="2.6" transform="rotate(29 876.9 2405.8)" fill="#4a6cb4" fill-opacity="0.8"/>
<ellipse cx="855.8" cy="2411.1" rx="3.8" ry="2" transform="rotate(-9 855.8 2411.1)" fill="#4a6cb4" fill-opacity="0.8"/>
<ellipse cx="911.5" cy="2416" rx="6.1" ry="2.1" transform="rotate(2 911.5 2416)" fill="#4a6cb4" fill-opacity="0.8"/>
<ellipse cx="843.3" cy="2395.5" rx="3.5" ry="2.8" transform="rotate(-4 843.3 2395.5)" fill="#4a6cb4" fill-opacity="0.7"/>
<ellipse cx="887.3" cy="2405.2" rx="4.3" ry="2.3" transform="rotate(5 887.3 2405.2)" fill="#4a6cb4" fill-opacity="0.6"/>
<ellipse cx="887.8" cy="2404.6" rx="6.4" ry="2.2" transform="rotate(8 887.8 2404.6)" fill="#4a6cb4" fill-opacity="0.6"/>
<ellipse cx="860.1" cy="2399.8" rx="6.1" ry="2.9" transform="rotate(-13 860.1 2399.8)" fill="#4a6cb4" fill-opacity="0.8"/>
<ellipse cx="869.2" cy="2398.7" rx="5.7" ry="2.7" transform="rotate(-3 869.2 2398.7)" fill="#4a6cb4" fill-opacity="0.8"/>
<ellipse cx="893.5" cy="2409.8" rx="5.7" ry="2.9" transform="rotate(14 893.5 2409.8)" fill="#4a6cb4" fill-opacity="0.7"/>
<ellipse cx="846.2" cy="2392.3" rx="4.8" ry="2.2" transform="rotate(17 846.2 2392.3)" fill="#4a6cb4" fill-opacity="0.8"/>
<ellipse cx="885.2" cy="2412.8" rx="5.3" ry="1.9" transform="rotate(25 885.2 2412.8)" fill="#4a6cb4" fill-opacity="0.7"/>
<ellipse cx="844.3" cy="2416.9" rx="6.3" ry="1.9" transform="rotate(-2 844.3 2416.9)" fill="#4a6cb4" fill-opacity="0.8"/>
<ellipse cx="890.6" cy="2389.8" rx="4.7" ry="2.1" transform="rotate(-9 890.6 2389.8)" fill="#4a6cb4" fill-opacity="0.6"/>
<ellipse cx="900.1" cy="2401.3" rx="5.7" ry="2.4" transform="rotate(18 900.1 2401.3)" fill="#4a6cb4" fill-opacity="0.7"/>
<ellipse cx="860.9" cy="2384.7" rx="3.3" ry="2.4" transform="rotate(-6 860.9 2384.7)" fill="#4a6cb4" fill-opacity="0.8"/>
<ellipse cx="865.1" cy="2419.7" rx="4.3" ry="2.2" transform="rotate(8 865.1 2419.7)" fill="#4a6cb4" fill-opacity="0.8"/>
<ellipse cx="866.4" cy="2406.9" rx="4.1" ry="1.8" transform="rotate(-13 866.4 2406.9)" fill="#4a6cb4" fill-opacity="0.8"/>
<ellipse cx="901" cy="2402.5" rx="3.8" ry="1.9" transform="rotate(2 901 2402.5)" fill="#4a6cb4" fill-opacity="0.8"/>
<ellipse cx="908.4" cy="2408" rx="3.7" ry="2.2" transform="rotate(-8 908.4 2408)" fill="#4a6cb4" fill-opacity="0.7"/>
<ellipse cx="887.9" cy="2389.7" rx="3.9" ry="2" transform="rotate(20 887.9 2389.7)" fill="#4a6cb4" fill-opacity="0.6"/>
<ellipse cx="904.8" cy="2430.6" rx="4.5" ry="2.4" transform="rotate(10 904.8 2430.6)" fill="#4a6cb4" fill-opacity="0.7"/>
<ellipse cx="925" cy="2391.4" rx="5.5" ry="2.1" transform="rotate(24 925 2391.4)" fill="#4a6cb4" fill-opacity="0.7"/>
<ellipse cx="889.1" cy="2405.9" rx="5.7" ry="2.6" transform="rotate(5 889.1 2405.9)" fill="#4a6cb4" fill-opacity="0.7"/>
<ellipse cx="876.5" cy="2403.8" rx="3.8" ry="2.4" transform="rotate(-16 876.5 2403.8)" fill="#4a6cb4" fill-opacity="0.7"/>
<ellipse cx="894.7" cy="2392" rx="6.4" ry="2.9" transform="rotate(-11 894.7 2392)" fill="#4a6cb4" fill-opacity="0.8"/>
<ellipse cx="890.5" cy="2411.5" rx="3.4" ry="2.2" transform="rotate(-6 890.5 2411.5)" fill="#4a6cb4" fill-opacity="0.6"/>
<ellipse cx="882.4" cy="2414.9" rx="6.1" ry="2.6" transform="rotate(-11 882.4 2414.9)" fill="#4a6cb4" fill-opacity="0.8"/>
<ellipse cx="889.6" cy="2401.5" rx="6.3" ry="2.6" transform="rotate(18 889.6 2401.5)" fill="#4a6cb4" fill-opacity="0.7"/>
<ellipse cx="905.2" cy="2429.6" rx="4.6" ry="2.7" transform="rotate(5 905.2 2429.6)" fill="#4a6cb4" fill-opacity="0.6"/>
<ellipse cx="839.9" cy="2390.6" rx="3.5" ry="2" transform="rotate(-10 839.9 2390.6)" fill="#4a6cb4" fill-opacity="0.7"/>
<ellipse cx="899.3" cy="2394.8" rx="5.3" ry="2.1" transform="rotate(4 899.3 2394.8)" fill="#4a6cb4" fill-opacity="0.8"/>
<ellipse cx="871.5" cy="2401.1" rx="3.8" ry="2.9" transform="rotate(17 871.5 2401.1)" fill="#4a6cb4" fill-opacity="0.7"/>
<ellipse cx="870.1" cy="2387.9" rx="3.9" ry="1.7" transform="rotate(-8 870.1 2387.9)" fill="#4a6cb4" fill-opacity="0.8"/>
<ellipse cx="848.2" cy="2398.5" rx="4.7" ry="2" transform="rotate(-8 848.2 2398.5)" fill="#4a6cb4" fill-opacity="0.6"/>
<ellipse cx="871.2" cy="2405.4" rx="3.6" ry="1.9" transform="rotate(5 871.2 2405.4)" fill="#4a6cb4" fill-opacity="0.6"/>
<ellipse cx="836.7" cy="2402.7" rx="4.7" ry="2.2" transform="rotate(16 836.7 2402.7)" fill="#4a6cb4" fill-opacity="0.6"/>
<ellipse cx="877.9" cy="2460.7" rx="6.4" ry="2" transform="rotate(-36 877.9 2460.7)" fill="#4a6cb4" fill-opacity="0.7"/>
<ellipse cx="861.8" cy="2467.7" rx="5.3" ry="2.2" transform="rotate(-34 861.8 2467.7)" fill="#4a6cb4" fill-opacity="0.6"/>
<ellipse cx="900.4" cy="2453.6" rx="4.7" ry="2.9" transform="rotate(-25 900.4 2453.6)" fill="#4a6cb4" fill-opacity="0.6"/>
<ellipse cx="872" cy="2476.4" rx="5.9" ry="2.5" transform="rotate(-23 872 2476.4)" fill="#4a6cb4" fill-opacity="0.6"/>
<ellipse cx="900.3" cy="2465.2" rx="3.2" ry="1.7" transform="rotate(-36 900.3 2465.2)" fill="#4a6cb4" fill-opacity="0.6"/>
<ellipse cx="852.1" cy="2467.5" rx="3.4" ry="2.6" transform="rotate(4 852.1 2467.5)" fill="#4a6cb4" fill-opacity="0.6"/>
<ellipse cx="914.7" cy="2438.5" rx="6.2" ry="2.9" transform="rotate(-39 914.7 2438.5)" fill="#4a6cb4" fill-opacity="0.6"/>
<ellipse cx="893" cy="2459.6" rx="6.3" ry="1.8" transform="rotate(-26 893 2459.6)" fill="#4a6cb4" fill-opacity="0.8"/>
<ellipse cx="856.7" cy="2463" rx="5.4" ry="2.9" transform="rotate(-32 856.7 2463)" fill="#4a6cb4" fill-opacity="0.8"/>
<ellipse cx="902.5" cy="2459.2" rx="6" ry="2.4" transform="rotate(5 902.5 2459.2)" fill="#4a6cb4" fill-opacity="0.7"/>
<ellipse cx="879.5" cy="2463.2" rx="4.8" ry="2.1" transform="rotate(-32 879.5 2463.2)" fill="#4a6cb4" fill-opacity="0.8"/>
<ellipse cx="895.7" cy="2469.5" rx="5.5" ry="2.2" transform="rotate(-16 895.7 2469.5)" fill="#4a6cb4" fill-opacity="0.6"/>
<ellipse cx="901.9" cy="2463.3" rx="5.7" ry="2.6" transform="rotate(-36 901.9 2463.3)" fill="#4a6cb4" fill-opacity="0.6"/>
<ellipse cx="909.4" cy="2454.2" rx="5.3" ry="2.8" transform="rotate(2 909.4 2454.2)" fill="#4a6cb4" fill-opacity="0.7"/>
<ellipse cx="912.6" cy="2451.4" rx="4.4" ry="1.8" transform="rotate(-20 912.6 2451.4)" fill="#4a6cb4" fill-opacity="0.8"/>
<ellipse cx="855.6" cy="2461.9" rx="5.1" ry="1.8" transform="rotate(-36 855.6 2461.9)" fill="#4a6cb4" fill-opacity="0.7"/>
<ellipse cx="867.9" cy="2468.9" rx="5.3" ry="2.5" transform="rotate(-40 867.9 2468.9)" fill="#4a6cb4" fill-opacity="0.6"/>
<ellipse cx="918" cy="2451.8" rx="3.9" ry="2.4" transform="rotate(-19 918 2451.8)" fill="#4a6cb4" fill-opacity="0.8"/>
<ellipse cx="892.9" cy="2459.9" rx="3.8" ry="1.9" transform="rotate(-36 892.9 2459.9)" fill="#4a6cb4" fill-opacity="0.8"/>
<ellipse cx="855.6" cy="2459.7" rx="3.3" ry="3" transform="rotate(-30 855.6 2459.7)" fill="#4a6cb4" fill-opacity="0.8"/>
<ellipse cx="865.9" cy="2521.3" rx="5.9" ry="2.5" transform="rotate(11 865.9 2521.3)" fill="#4a6cb4" fill-opacity="0.8"/>
<ellipse cx="916.6" cy="2530.3" rx="4.3" ry="2.5" transform="rotate(1 916.6 2530.3)" fill="#4a6cb4" fill-opacity="0.6"/>
<ellipse cx="915" cy="2520.1" rx="3.9" ry="2.4" transform="rotate(2 915 2520.1)" fill="#4a6cb4" fill-opacity="0.8"/>
<ellipse cx="865.5" cy="2519.2" rx="4.3" ry="2.3" transform="rotate(-17 865.5 2519.2)" fill="#4a6cb4" fill-opacity="0.7"/>
<ellipse cx="908.4" cy="2521" rx="5.2" ry="2" transform="rotate(-3 908.4 2521)" fill="#4a6cb4" fill-opacity="0.8"/>
<ellipse cx="881.5" cy="2530.7" rx="4.6" ry="1.8" transform="rotate(-9 881.5 2530.7)" fill="#4a6cb4" fill-opacity="0.6"/>
<ellipse cx="920.6" cy="2527.9" rx="6.5" ry="2.5" transform="rotate(25 920.6 2527.9)" fill="#4a6cb4" fill-opacity="0.7"/>
<ellipse cx="888.1" cy="2515" rx="6.3" ry="2.9" transform="rotate(26 888.1 2515)" fill="#4a6cb4" fill-opacity="0.7"/>
<ellipse cx="930.1" cy="2453.8" rx="6.2" ry="2.1" transform="rotate(63 930.1 2453.8)" fill="#4a6cb4" fill-opacity="0.6"/>
<ellipse cx="874.2" cy="2455.2" rx="5.6" ry="2.1" transform="rotate(42 874.2 2455.2)" fill="#4a6cb4" fill-opacity="0.7"/>
<ellipse cx="882" cy="2441.5" rx="4.6" ry="2.1" transform="rotate(53 882 2441.5)" fill="#4a6cb4" fill-opacity="0.8"/>
<ellipse cx="897.2" cy="2446.7" rx="3.5" ry="2.1" transform="rotate(37 897.2 2446.7)" fill="#4a6cb4" fill-opacity="0.6"/>
<ellipse cx="886.2" cy="2446.9" rx="6.4" ry="3" transform="rotate(60 886.2 2446.9)" fill="#4a6cb4" fill-opacity="0.7"/>
<ellipse cx="895.5" cy="2437.2" rx="4.2" ry="2.3" transform="rotate(42 895.5 2437.2)" fill="#4a6cb4" fill-opacity="0.7"/>
<ellipse cx="893.6" cy="2457.3" rx="4.7" ry="2.9" transform="rotate(56 893.6 2457.3)" fill="#4a6cb4" fill-opacity="0.6"/>
<ellipse cx="894.4" cy="2445.8" rx="5.9" ry="1.7" transform="rotate(23 894.4 2445.8)" fill="#4a6cb4" fill-opacity="0.7"/>
<ellipse cx="903.3" cy="2462.4" rx="3.9" ry="2.7" transform="rotate(39 903.3 2462.4)" fill="#4a6cb4" fill-opacity="0.8"/>
<ellipse cx="913.9" cy="2473.1" rx="6.4" ry="1.7" transform="rotate(25 913.9 2473.1)" fill="#4a6cb4" fill-opacity="0.6"/>
</g>
<rect x="733.8" y="2395.5" width="191.2" height="142.5" fill="none" stroke="#000" stroke-width="3"/>
<clipPath id="ci6"><rect x="935.2" y="2394" width="194" height="145.5"/></clipPath>
<g clip-path="url(#ci6)">
<rect x="935.2" y="2394" width="194" height="145.5" fill="#b2c9d6"/>
<ellipse cx="1085" cy="2485" rx="25" ry="15" fill="#5a78b8" opacity="0.3" filter="url(#b7)"/>
<rect x="935.2" y="2394" width="194" height="145.5" filter="url(#light)" opacity="0.4"/>
<rect x="935.2" y="2394" width="194" height="145.5" filter="url(#s200c)" opacity="0.8"/>
<ellipse cx="985" cy="2430" rx="22" ry="25" fill="#c2d3d8" opacity="0.8" filter="url(#b7)"/>
<ellipse cx="1100" cy="2425" rx="19" ry="22" fill="#c2d3d8" opacity="0.8" filter="url(#b7)"/>
<ellipse cx="1040" cy="2505" rx="26" ry="19" fill="#c0d2d6" opacity="0.7" filter="url(#b7)"/>
<ellipse cx="1108" cy="2505" rx="15" ry="17" fill="#c0d2d6" opacity="0.7" filter="url(#b7)"/>
</g>
<rect x="936.7" y="2395.5" width="191" height="142.5" fill="none" stroke="#000" stroke-width="3"/>
<rect x="942.8" y="2399.3" width="97.9" height="67.5" fill="none" stroke="#000" stroke-width="3.2"/>
<clipPath id="ci7"><rect x="1136.7" y="2394" width="194.3" height="145.5"/></clipPath>
<g clip-path="url(#ci7)">
<rect x="1136.7" y="2394" width="194.3" height="145.5" fill="#abc8d3"/>
<ellipse cx="1188" cy="2448" rx="48" ry="46" fill="#bcd4da" opacity="0.9" filter="url(#b7)"/>
<ellipse cx="1300" cy="2500" rx="30" ry="25" fill="#b8d0d8" opacity="0.7" filter="url(#b7)"/>
<rect x="1136.7" y="2394" width="194.3" height="145.5" filter="url(#light)" opacity="0.3"/>
<rect x="1136.7" y="2394" width="194.3" height="145.5" filter="url(#s400c)" opacity="0.2"/>
<ellipse cx="1145.6" cy="2436" rx="3.7" ry="1.8" transform="rotate(71 1145.6 2436)" fill="#4a6cb4" fill-opacity="0.8"/>
<ellipse cx="1168.3" cy="2512.7" rx="5.7" ry="2" transform="rotate(68 1168.3 2512.7)" fill="#4a6cb4" fill-opacity="0.6"/>
<ellipse cx="1144.2" cy="2427.1" rx="6.3" ry="2.8" transform="rotate(91 1144.2 2427.1)" fill="#4a6cb4" fill-opacity="0.8"/>
<ellipse cx="1145.2" cy="2429.9" rx="4.2" ry="2.5" transform="rotate(87 1145.2 2429.9)" fill="#4a6cb4" fill-opacity="0.8"/>
<ellipse cx="1171.2" cy="2523.7" rx="5.4" ry="2.4" transform="rotate(50 1171.2 2523.7)" fill="#4a6cb4" fill-opacity="0.7"/>
<ellipse cx="1140.9" cy="2415.8" rx="6.3" ry="2.8" transform="rotate(78 1140.9 2415.8)" fill="#4a6cb4" fill-opacity="0.6"/>
<ellipse cx="1181.1" cy="2524" rx="6" ry="2.4" transform="rotate(62 1181.1 2524)" fill="#4a6cb4" fill-opacity="0.7"/>
<ellipse cx="1157.1" cy="2461.6" rx="3.7" ry="2.1" transform="rotate(91 1157.1 2461.6)" fill="#4a6cb4" fill-opacity="0.6"/>
<ellipse cx="1143.2" cy="2409" rx="5" ry="2.3" transform="rotate(68 1143.2 2409)" fill="#4a6cb4" fill-opacity="0.8"/>
<ellipse cx="1148.3" cy="2429.5" rx="4.6" ry="2" transform="rotate(82 1148.3 2429.5)" fill="#4a6cb4" fill-opacity="0.6"/>
<ellipse cx="1152" cy="2451.9" rx="5" ry="2.9" transform="rotate(56 1152 2451.9)" fill="#4a6cb4" fill-opacity="0.6"/>
<ellipse cx="1150.3" cy="2433.8" rx="5.7" ry="2.5" transform="rotate(63 1150.3 2433.8)" fill="#4a6cb4" fill-opacity="0.6"/>
<ellipse cx="1146.8" cy="2427.2" rx="5.5" ry="2.9" transform="rotate(99 1146.8 2427.2)" fill="#4a6cb4" fill-opacity="0.8"/>
<ellipse cx="1178.6" cy="2532.9" rx="3.3" ry="2.1" transform="rotate(90 1178.6 2532.9)" fill="#4a6cb4" fill-opacity="0.8"/>
<ellipse cx="1150" cy="2460.3" rx="5.9" ry="2.1" transform="rotate(60 1150 2460.3)" fill="#4a6cb4" fill-opacity="0.7"/>
<ellipse cx="1146" cy="2421.4" rx="4.5" ry="3" transform="rotate(67 1146 2421.4)" fill="#4a6cb4" fill-opacity="0.6"/>
<ellipse cx="1139" cy="2409.8" rx="4.4" ry="2.1" transform="rotate(56 1139 2409.8)" fill="#4a6cb4" fill-opacity="0.8"/>
<ellipse cx="1149.8" cy="2462.4" rx="3.9" ry="1.8" transform="rotate(54 1149.8 2462.4)" fill="#4a6cb4" fill-opacity="0.6"/>
<ellipse cx="1162.7" cy="2496.1" rx="4.8" ry="2" transform="rotate(91 1162.7 2496.1)" fill="#4a6cb4" fill-opacity="0.6"/>
<ellipse cx="1157.1" cy="2475.9" rx="5.8" ry="2.2" transform="rotate(100 1157.1 2475.9)" fill="#4a6cb4" fill-opacity="0.7"/>
<ellipse cx="1148.8" cy="2436.1" rx="4.6" ry="2" transform="rotate(95 1148.8 2436.1)" fill="#4a6cb4" fill-opacity="0.8"/>
<ellipse cx="1156.3" cy="2471.6" rx="3.3" ry="2" transform="rotate(63 1156.3 2471.6)" fill="#4a6cb4" fill-opacity="0.6"/>
<ellipse cx="1146.7" cy="2435.1" rx="3.4" ry="2.9" transform="rotate(79 1146.7 2435.1)" fill="#4a6cb4" fill-opacity="0.8"/>
<ellipse cx="1154.7" cy="2458.1" rx="6.2" ry="2.6" transform="rotate(90 1154.7 2458.1)" fill="#4a6cb4" fill-opacity="0.8"/>
<ellipse cx="1154.9" cy="2471.3" rx="6.1" ry="2.9" transform="rotate(97 1154.9 2471.3)" fill="#4a6cb4" fill-opacity="0.7"/>
<ellipse cx="1161.1" cy="2493.7" rx="5.8" ry="2.5" transform="rotate(82 1161.1 2493.7)" fill="#4a6cb4" fill-opacity="0.7"/>
<ellipse cx="1162.9" cy="2492.8" rx="6.2" ry="2.9" transform="rotate(54 1162.9 2492.8)" fill="#4a6cb4" fill-opacity="0.8"/>
<ellipse cx="1180.9" cy="2532.2" rx="5.4" ry="1.8" transform="rotate(87 1180.9 2532.2)" fill="#4a6cb4" fill-opacity="0.6"/>
<ellipse cx="1186.3" cy="2527.7" rx="3.8" ry="2.5" transform="rotate(117 1186.3 2527.7)" fill="#4a6cb4" fill-opacity="0.8"/>
<ellipse cx="1188.9" cy="2523.2" rx="3.9" ry="1.7" transform="rotate(135 1188.9 2523.2)" fill="#4a6cb4" fill-opacity="0.6"/>
<ellipse cx="1185.4" cy="2514.6" rx="5.8" ry="2.8" transform="rotate(116 1185.4 2514.6)" fill="#4a6cb4" fill-opacity="0.8"/>
<ellipse cx="1227.1" cy="2440.5" rx="5.4" ry="2.1" transform="rotate(142 1227.1 2440.5)" fill="#4a6cb4" fill-opacity="0.8"/>
<ellipse cx="1213.4" cy="2471.9" rx="3.3" ry="2.5" transform="rotate(122 1213.4 2471.9)" fill="#4a6cb4" fill-opacity="0.8"/>
<ellipse cx="1204.3" cy="2486.3" rx="3.7" ry="2.2" transform="rotate(127 1204.3 2486.3)" fill="#4a6cb4" fill-opacity="0.7"/>
<ellipse cx="1241" cy="2421" rx="3.5" ry="2.4" transform="rotate(117 1241 2421)" fill="#4a6cb4" fill-opacity="0.8"/>
<ellipse cx="1229" cy="2458.1" rx="4" ry="2.3" transform="rotate(146 1229 2458.1)" fill="#4a6cb4" fill-opacity="0.6"/>
<ellipse cx="1242.2" cy="2437.3" rx="4.9" ry="2.3" transform="rotate(141 1242.2 2437.3)" fill="#4a6cb4" fill-opacity="0.8"/>
<ellipse cx="1245.2" cy="2432.2" rx="6.1" ry="2" transform="rotate(113 1245.2 2432.2)" fill="#4a6cb4" fill-opacity="0.8"/>
<ellipse cx="1215.4" cy="2465.9" rx="6.1" ry="1.9" transform="rotate(105 1215.4 2465.9)" fill="#4a6cb4" fill-opacity="0.7"/>
<ellipse cx="1223.7" cy="2458.7" rx="5" ry="2.9" transform="rotate(133 1223.7 2458.7)" fill="#4a6cb4" fill-opacity="0.6"/>
<ellipse cx="1227.3" cy="2457.1" rx="5.6" ry="2.3" transform="rotate(102 1227.3 2457.1)" fill="#4a6cb4" fill-opacity="0.6"/>
<ellipse cx="1193" cy="2514.1" rx="4.4" ry="2.7" transform="rotate(138 1193 2514.1)" fill="#4a6cb4" fill-opacity="0.7"/>
<ellipse cx="1203.1" cy="2495.2" rx="6.2" ry="2.3" transform="rotate(134 1203.1 2495.2)" fill="#4a6cb4" fill-opacity="0.6"/>
<ellipse cx="1192.8" cy="2516.8" rx="5.8" ry="2.5" transform="rotate(111 1192.8 2516.8)" fill="#4a6cb4" fill-opacity="0.6"/>
<ellipse cx="1199.3" cy="2506.4" rx="3.6" ry="1.8" transform="rotate(96 1199.3 2506.4)" fill="#4a6cb4" fill-opacity="0.8"/>
<ellipse cx="1229" cy="2438.2" rx="6.2" ry="2.2" transform="rotate(127 1229 2438.2)" fill="#4a6cb4" fill-opacity="0.7"/>
<ellipse cx="1200.4" cy="2486.3" rx="6.3" ry="1.9" transform="rotate(121 1200.4 2486.3)" fill="#4a6cb4" fill-opacity="0.6"/>
<ellipse cx="1222.5" cy="2452.3" rx="3.3" ry="1.7" transform="rotate(145 1222.5 2452.3)" fill="#4a6cb4" fill-opacity="0.8"/>
<ellipse cx="1191.1" cy="2506.9" rx="3.7" ry="2.5" transform="rotate(114 1191.1 2506.9)" fill="#4a6cb4" fill-opacity="0.7"/>
<ellipse cx="1195.6" cy="2527.7" rx="5.7" ry="3" transform="rotate(95 1195.6 2527.7)" fill="#4a6cb4" fill-opacity="0.7"/>
<ellipse cx="1200.9" cy="2494" rx="5.9" ry="2.1" transform="rotate(135 1200.9 2494)" fill="#4a6cb4" fill-opacity="0.7"/>
<ellipse cx="1209.7" cy="2487.5" rx="6.2" ry="2.6" transform="rotate(104 1209.7 2487.5)" fill="#4a6cb4" fill-opacity="0.6"/>
<ellipse cx="1230.4" cy="2461.4" rx="6.2" ry="2.2" transform="rotate(118 1230.4 2461.4)" fill="#4a6cb4" fill-opacity="0.8"/>
<ellipse cx="1233.6" cy="2457" rx="4.6" ry="1.7" transform="rotate(107 1233.6 2457)" fill="#4a6cb4" fill-opacity="0.7"/>
<ellipse cx="1202.4" cy="2497.1" rx="6.3" ry="2.5" transform="rotate(97 1202.4 2497.1)" fill="#4a6cb4" fill-opacity="0.6"/>
<ellipse cx="1187.6" cy="2529" rx="6.5" ry="2.9" transform="rotate(119 1187.6 2529)" fill="#4a6cb4" fill-opacity="0.6"/>
<ellipse cx="1238.8" cy="2431.6" rx="6.3" ry="2.9" transform="rotate(137 1238.8 2431.6)" fill="#4a6cb4" fill-opacity="0.6"/>
<ellipse cx="1226.3" cy="2445.4" rx="4.2" ry="2.9" transform="rotate(106 1226.3 2445.4)" fill="#4a6cb4" fill-opacity="0.8"/>
<ellipse cx="1304.4" cy="2395.3" rx="4.1" ry="2.4" transform="rotate(0 1304.4 2395.3)" fill="#4a6cb4" fill-opacity="0.6"/>
<ellipse cx="1235.3" cy="2391.9" rx="4.2" ry="1.9" transform="rotate(-5 1235.3 2391.9)" fill="#4a6cb4" fill-opacity="0.8"/>
<ellipse cx="1255.1" cy="2418.2" rx="5.6" ry="2.6" transform="rotate(39 1255.1 2418.2)" fill="#4a6cb4" fill-opacity="0.8"/>
<ellipse cx="1304.1" cy="2410.1" rx="5" ry="2.6" transform="rotate(28 1304.1 2410.1)" fill="#4a6cb4" fill-opacity="0.7"/>
<ellipse cx="1276.6" cy="2423.5" rx="4.8" ry="1.8" transform="rotate(0 1276.6 2423.5)" fill="#4a6cb4" fill-opacity="0.8"/>
<ellipse cx="1250.7" cy="2420.9" rx="4.5" ry="2.6" transform="rotate(34 1250.7 2420.9)" fill="#4a6cb4" fill-opacity="0.6"/>
<ellipse cx="1268.9" cy="2407.6" rx="6.1" ry="1.7" transform="rotate(39 1268.9 2407.6)" fill="#4a6cb4" fill-opacity="0.6"/>
<ellipse cx="1245.2" cy="2403.8" rx="6" ry="2.8" transform="rotate(3 1245.2 2403.8)" fill="#4a6cb4" fill-opacity="0.7"/>
<ellipse cx="1277.6" cy="2411.1" rx="5.9" ry="3" transform="rotate(27 1277.6 2411.1)" fill="#4a6cb4" fill-opacity="0.8"/>
<ellipse cx="1324.6" cy="2420.1" rx="4.5" ry="2.8" transform="rotate(33 1324.6 2420.1)" fill="#4a6cb4" fill-opacity="0.7"/>
<ellipse cx="1245.3" cy="2385.8" rx="4.2" ry="2.5" transform="rotate(36 1245.3 2385.8)" fill="#4a6cb4" fill-opacity="0.7"/>
<ellipse cx="1238" cy="2384.8" rx="5.3" ry="2" transform="rotate(34 1238 2384.8)" fill="#4a6cb4" fill-opacity="0.7"/>
<ellipse cx="1257.2" cy="2417.8" rx="4.3" ry="2.8" transform="rotate(36 1257.2 2417.8)" fill="#4a6cb4" fill-opacity="0.8"/>
<ellipse cx="1319.9" cy="2416.3" rx="5.4" ry="2.6" transform="rotate(22 1319.9 2416.3)" fill="#4a6cb4" fill-opacity="0.7"/>
<ellipse cx="1328.5" cy="2425.2" rx="5.6" ry="2.3" transform="rotate(19 1328.5 2425.2)" fill="#4a6cb4" fill-opacity="0.7"/>
<ellipse cx="1253.8" cy="2408.6" rx="3.9" ry="1.8" transform="rotate(30 1253.8 2408.6)" fill="#4a6cb4" fill-opacity="0.8"/>
<ellipse cx="1293" cy="2438.6" rx="5.9" ry="2.4" transform="rotate(-8 1293 2438.6)" fill="#4a6cb4" fill-opacity="0.8"/>
<ellipse cx="1286.3" cy="2434.5" rx="5.3" ry="1.7" transform="rotate(28 1286.3 2434.5)" fill="#4a6cb4" fill-opacity="0.6"/>
<ellipse cx="1275.6" cy="2417.9" rx="6.1" ry="2.7" transform="rotate(32 1275.6 2417.9)" fill="#4a6cb4" fill-opacity="0.6"/>
<ellipse cx="1266.3" cy="2416.8" rx="5.2" ry="1.7" transform="rotate(12 1266.3 2416.8)" fill="#4a6cb4" fill-opacity="0.8"/>
<ellipse cx="1303.1" cy="2425.9" rx="5.5" ry="2.7" transform="rotate(27 1303.1 2425.9)" fill="#4a6cb4" fill-opacity="0.7"/>
<ellipse cx="1249.2" cy="2397.1" rx="3.3" ry="2.9" transform="rotate(38 1249.2 2397.1)" fill="#4a6cb4" fill-opacity="0.6"/>
<ellipse cx="1308.2" cy="2409.4" rx="6" ry="2.1" transform="rotate(22 1308.2 2409.4)" fill="#4a6cb4" fill-opacity="0.6"/>
<ellipse cx="1278.4" cy="2420.7" rx="3.3" ry="2" transform="rotate(6 1278.4 2420.7)" fill="#4a6cb4" fill-opacity="0.8"/>
<ellipse cx="1243" cy="2402.2" rx="6.5" ry="1.9" transform="rotate(-3 1243 2402.2)" fill="#4a6cb4" fill-opacity="0.6"/>
<ellipse cx="1323.6" cy="2421.9" rx="5.4" ry="2.9" transform="rotate(16 1323.6 2421.9)" fill="#4a6cb4" fill-opacity="0.6"/>
<ellipse cx="1272.2" cy="2380.2" rx="3.7" ry="2" transform="rotate(34 1272.2 2380.2)" fill="#4a6cb4" fill-opacity="0.6"/>
<ellipse cx="1323.7" cy="2435.2" rx="4.2" ry="2.4" transform="rotate(24 1323.7 2435.2)" fill="#4a6cb4" fill-opacity="0.8"/>
<ellipse cx="1236.5" cy="2403.7" rx="5.6" ry="1.7" transform="rotate(30 1236.5 2403.7)" fill="#4a6cb4" fill-opacity="0.6"/>
<ellipse cx="1251.9" cy="2399.2" rx="3.3" ry="2.1" transform="rotate(8 1251.9 2399.2)" fill="#4a6cb4" fill-opacity="0.8"/>
<ellipse cx="1295.9" cy="2397.1" rx="3.8" ry="2" transform="rotate(39 1295.9 2397.1)" fill="#4a6cb4" fill-opacity="0.8"/>
<ellipse cx="1291.1" cy="2440.4" rx="6.4" ry="1.8" transform="rotate(37 1291.1 2440.4)" fill="#4a6cb4" fill-opacity="0.8"/>
<ellipse cx="1295.4" cy="2420.5" rx="3.9" ry="1.9" transform="rotate(15 1295.4 2420.5)" fill="#4a6cb4" fill-opacity="0.7"/>
<ellipse cx="1284.7" cy="2410.5" rx="4.4" ry="2.7" transform="rotate(33 1284.7 2410.5)" fill="#4a6cb4" fill-opacity="0.8"/>
<ellipse cx="1232.6" cy="2403" rx="4" ry="2.4" transform="rotate(1 1232.6 2403)" fill="#4a6cb4" fill-opacity="0.7"/>
<ellipse cx="1262.4" cy="2413.8" rx="4.4" ry="2.6" transform="rotate(39 1262.4 2413.8)" fill="#4a6cb4" fill-opacity="0.6"/>
<ellipse cx="1262.5" cy="2415" rx="3.3" ry="1.9" transform="rotate(33 1262.5 2415)" fill="#4a6cb4" fill-opacity="0.8"/>
<ellipse cx="1323.1" cy="2425.4" rx="4.8" ry="1.8" transform="rotate(7 1323.1 2425.4)" fill="#4a6cb4" fill-opacity="0.8"/>
<ellipse cx="1267.1" cy="2415.7" rx="4.7" ry="2.2" transform="rotate(14 1267.1 2415.7)" fill="#4a6cb4" fill-opacity="0.6"/>
<ellipse cx="1230.8" cy="2406" rx="5.8" ry="2.7" transform="rotate(12 1230.8 2406)" fill="#4a6cb4" fill-opacity="0.6"/>
<ellipse cx="1265" cy="2387.9" rx="4.8" ry="3" transform="rotate(18 1265 2387.9)" fill="#4a6cb4" fill-opacity="0.6"/>
<ellipse cx="1293.1" cy="2409.2" rx="5.2" ry="2.5" transform="rotate(28 1293.1 2409.2)" fill="#4a6cb4" fill-opacity="0.6"/>
<ellipse cx="1272.8" cy="2412.7" rx="3.3" ry="1.9" transform="rotate(6 1272.8 2412.7)" fill="#4a6cb4" fill-opacity="0.7"/>
<ellipse cx="1262.6" cy="2402.5" rx="5.3" ry="1.9" transform="rotate(9 1262.6 2402.5)" fill="#4a6cb4" fill-opacity="0.8"/>
<ellipse cx="1277.3" cy="2436" rx="4.1" ry="2.1" transform="rotate(18 1277.3 2436)" fill="#4a6cb4" fill-opacity="0.7"/>
<ellipse cx="1279.3" cy="2462.5" rx="6" ry="2" transform="rotate(-15 1279.3 2462.5)" fill="#4a6cb4" fill-opacity="0.6"/>
<ellipse cx="1316.5" cy="2442" rx="3.7" ry="2.6" transform="rotate(-9 1316.5 2442)" fill="#4a6cb4" fill-opacity="0.6"/>
<ellipse cx="1312.7" cy="2447.6" rx="6.1" ry="1.8" transform="rotate(8 1312.7 2447.6)" fill="#4a6cb4" fill-opacity="0.8"/>
<ellipse cx="1297.5" cy="2457.1" rx="3.4" ry="2.3" transform="rotate(4 1297.5 2457.1)" fill="#4a6cb4" fill-opacity="0.6"/>
<ellipse cx="1288.1" cy="2462.8" rx="4.1" ry="2.6" transform="rotate(9 1288.1 2462.8)" fill="#4a6cb4" fill-opacity="0.8"/>
<ellipse cx="1274.1" cy="2467.2" rx="4.9" ry="2.8" transform="rotate(3 1274.1 2467.2)" fill="#4a6cb4" fill-opacity="0.6"/>
<ellipse cx="1285.4" cy="2465" rx="3.5" ry="2.3" transform="rotate(6 1285.4 2465)" fill="#4a6cb4" fill-opacity="0.6"/>
<ellipse cx="1319.7" cy="2467.3" rx="3.9" ry="2.9" transform="rotate(7 1319.7 2467.3)" fill="#4a6cb4" fill-opacity="0.8"/>
<ellipse cx="1252.1" cy="2469.8" rx="3.2" ry="2.1" transform="rotate(-12 1252.1 2469.8)" fill="#4a6cb4" fill-opacity="0.7"/>
<ellipse cx="1257.8" cy="2465.8" rx="5.3" ry="2.4" transform="rotate(-11 1257.8 2465.8)" fill="#4a6cb4" fill-opacity="0.8"/>
<ellipse cx="1255.3" cy="2465.1" rx="4.6" ry="1.9" transform="rotate(-33 1255.3 2465.1)" fill="#4a6cb4" fill-opacity="0.8"/>
<ellipse cx="1276.4" cy="2464.3" rx="5.1" ry="1.9" transform="rotate(-6 1276.4 2464.3)" fill="#4a6cb4" fill-opacity="0.6"/>
<ellipse cx="1326.5" cy="2458.8" rx="3.7" ry="2.7" transform="rotate(-11 1326.5 2458.8)" fill="#4a6cb4" fill-opacity="0.7"/>
<ellipse cx="1273.9" cy="2461" rx="4.9" ry="2.4" transform="rotate(-26 1273.9 2461)" fill="#4a6cb4" fill-opacity="0.7"/>
<ellipse cx="1267" cy="2477.4" rx="4.8" ry="2.5" transform="rotate(-11 1267 2477.4)" fill="#4a6cb4" fill-opacity="0.7"/>
<ellipse cx="1297.2" cy="2467.2" rx="5.5" ry="2.6" transform="rotate(8 1297.2 2467.2)" fill="#4a6cb4" fill-opacity="0.7"/>
<ellipse cx="1281" cy="2480.4" rx="4.2" ry="2.1" transform="rotate(-23 1281 2480.4)" fill="#4a6cb4" fill-opacity="0.6"/>
<ellipse cx="1266.9" cy="2464.2" rx="4.4" ry="2.6" transform="rotate(-23 1266.9 2464.2)" fill="#4a6cb4" fill-opacity="0.8"/>
<ellipse cx="1320.6" cy="2520.3" rx="4.3" ry="2.8" transform="rotate(35 1320.6 2520.3)" fill="#4a6cb4" fill-opacity="0.6"/>
<ellipse cx="1328.1" cy="2530.3" rx="6.1" ry="1.7" transform="rotate(59 1328.1 2530.3)" fill="#4a6cb4" fill-opacity="0.7"/>
<ellipse cx="1298.6" cy="2491.2" rx="4" ry="3" transform="rotate(46 1298.6 2491.2)" fill="#4a6cb4" fill-opacity="0.6"/>
<ellipse cx="1307.8" cy="2501.6" rx="3.5" ry="2.7" transform="rotate(31 1307.8 2501.6)" fill="#4a6cb4" fill-opacity="0.6"/>
<ellipse cx="1295.4" cy="2476.2" rx="6.5" ry="2.3" transform="rotate(63 1295.4 2476.2)" fill="#4a6cb4" fill-opacity="0.7"/>
<ellipse cx="1331.3" cy="2526.2" rx="5.5" ry="1.7" transform="rotate(45 1331.3 2526.2)" fill="#4a6cb4" fill-opacity="0.8"/>
<ellipse cx="1307.5" cy="2512.4" rx="4.8" ry="2.9" transform="rotate(48 1307.5 2512.4)" fill="#4a6cb4" fill-opacity="0.8"/>
<ellipse cx="1300" cy="2503.8" rx="3.9" ry="1.7" transform="rotate(41 1300 2503.8)" fill="#4a6cb4" fill-opacity="0.6"/>
</g>
<rect x="1138.2" y="2395.5" width="191.3" height="142.5" fill="none" stroke="#000" stroke-width="3"/>
<text x="1073" y="2524" font-size="19.5" fill="#fff">50um</text>
<line x1="1096.4" y1="2533" x2="1124" y2="2533" stroke="#fff" stroke-width="3.5"/>
<text x="1276" y="2524" font-size="19.5" fill="#fff">20um</text>
<line x1="1300" y1="2533" x2="1327" y2="2533" stroke="#fff" stroke-width="3.5"/>
<text transform="translate(520 2351) rotate(-90)" font-size="31">HPV<tspan dy="-15" font-size="20">-</tspan></text>
<text transform="translate(520 2506) rotate(-90)" font-size="31">HPV<tspan dy="-14" font-size="20">+</tspan></text>
<text transform="translate(1376 2341.4) rotate(-90)" font-size="34" text-anchor="middle">Expression of Galectin-9</text>
<line x1="1454" y1="2419.1" x2="1695.3" y2="2419.1" stroke="#000" stroke-width="4" stroke-dasharray="0 10.3" stroke-linecap="round"/>
<path d="M1516.2 2209.9C1516.5 2212.2 1517.4 2219.3 1518.3 2223.4C1519.2 2227.4 1520.6 2230.5 1521.6 2234.1C1522.5 2237.7 1523.1 2241.2 1524.2 2244.8C1525.3 2248.4 1526.2 2252 1528.3 2255.5C1530.3 2259.1 1533.4 2263.1 1536.3 2266.3C1539.2 2269.4 1543 2271.6 1545.7 2274.3C1548.4 2277 1551 2279.2 1552.4 2282.4C1553.7 2285.5 1554 2289.5 1553.7 2293.1C1553.5 2296.7 1552.2 2300.2 1551 2303.8C1549.9 2307.4 1547 2311 1547 2314.5C1547 2318.1 1549.9 2321.7 1551 2325.3C1552.2 2328.8 1553.5 2332.4 1553.7 2336C1554 2339.6 1553.1 2343.1 1552.4 2346.7C1551.7 2350.3 1550.8 2353.9 1549.7 2357.4C1548.6 2361 1547 2364.6 1545.7 2368.2C1544.3 2371.7 1543.2 2375.3 1541.7 2378.9C1540.1 2382.5 1538.1 2386 1536.3 2389.6C1534.5 2393.2 1532.7 2396.8 1530.9 2400.3C1529.1 2403.9 1527.2 2407.5 1525.6 2411.1C1523.9 2414.7 1522.3 2418.2 1521 2421.8C1519.7 2425.4 1518.6 2428.1 1517.8 2432.5C1517 2437 1516.5 2445.9 1516.2 2448.6L1516.2 2448.6C1515.9 2445.9 1515.4 2437 1514.6 2432.5C1513.8 2428.1 1512.7 2425.4 1511.4 2421.8C1510.1 2418.2 1508.5 2414.7 1506.8 2411.1C1505.1 2407.5 1503.2 2403.9 1501.4 2400.3C1499.6 2396.8 1497.9 2393.2 1496.1 2389.6C1494.3 2386 1492.3 2382.5 1490.7 2378.9C1489.1 2375.3 1488 2371.7 1486.7 2368.2C1485.3 2364.6 1483.8 2361 1482.7 2357.4C1481.5 2353.9 1480.7 2350.3 1480 2346.7C1479.3 2343.1 1478.4 2339.6 1478.6 2336C1478.9 2332.4 1480.2 2328.8 1481.3 2325.3C1482.4 2321.7 1485.3 2318.1 1485.3 2314.5C1485.3 2311 1482.4 2307.4 1481.3 2303.8C1480.2 2300.2 1478.9 2296.7 1478.6 2293.1C1478.4 2289.5 1478.6 2285.5 1480 2282.4C1481.3 2279.2 1484 2277 1486.7 2274.3C1489.4 2271.6 1493.2 2269.4 1496.1 2266.3C1499 2263.1 1502.1 2259.1 1504.1 2255.5C1506.1 2252 1507 2248.4 1508.1 2244.8C1509.3 2241.2 1509.8 2237.7 1510.8 2234.1C1511.8 2230.5 1513.1 2227.4 1514 2223.4C1514.9 2219.3 1515.8 2212.2 1516.2 2209.9Z" fill="#0000ff" stroke="#000" stroke-width="5" stroke-linejoin="round" stroke-linecap="round"/>
<path d="M1513.8 2247.3l-8.5 -15.3h17zM1520.2 2247.3l-8.5 -15.3h17zM1513.8 2262l-8.5 -15.3h17zM1520.2 2262l-8.5 -15.3h17zM1505.7 2278.1l-8.5 -15.3h17zM1517 2278.1l-8.5 -15.3h17zM1528.3 2278.1l-8.5 -15.3h17zM1487 2291.5l-8.5 -15.3h17zM1498.8 2291.5l-8.5 -15.3h17zM1510.7 2291.5l-8.5 -15.3h17zM1522.5 2291.5l-8.5 -15.3h17zM1534.4 2291.5l-8.5 -15.3h17zM1546.2 2291.5l-8.5 -15.3h17zM1489.6 2304.9l-8.5 -15.3h17zM1503 2304.9l-8.5 -15.3h17zM1516.3 2304.9l-8.5 -15.3h17zM1529.7 2304.9l-8.5 -15.3h17zM1543 2304.9l-8.5 -15.3h17zM1493.7 2321l-8.5 -15.3h17zM1505 2321l-8.5 -15.3h17zM1516.3 2321l-8.5 -15.3h17zM1527.7 2321l-8.5 -15.3h17zM1539 2321l-8.5 -15.3h17zM1487 2334.4l-8.5 -15.3h17zM1498.8 2334.4l-8.5 -15.3h17zM1510.7 2334.4l-8.5 -15.3h17zM1522.5 2334.4l-8.5 -15.3h17zM1534.4 2334.4l-8.5 -15.3h17zM1546.2 2334.4l-8.5 -15.3h17zM1487 2349.2l-8.5 -15.3h17zM1498.8 2349.2l-8.5 -15.3h17zM1510.7 2349.2l-8.5 -15.3h17zM1522.5 2349.2l-8.5 -15.3h17zM1534.4 2349.2l-8.5 -15.3h17zM1546.2 2349.2l-8.5 -15.3h17zM1492.3 2363.9l-8.5 -15.3h17zM1504.3 2363.9l-8.5 -15.3h17zM1516.3 2363.9l-8.5 -15.3h17zM1528.3 2363.9l-8.5 -15.3h17zM1540.3 2363.9l-8.5 -15.3h17zM1496.3 2378.7l-8.5 -15.3h17zM1509.7 2378.7l-8.5 -15.3h17zM1523 2378.7l-8.5 -15.3h17zM1536.3 2378.7l-8.5 -15.3h17zM1501.7 2393.4l-8.5 -15.3h17zM1511.4 2393.4l-8.5 -15.3h17zM1521.2 2393.4l-8.5 -15.3h17zM1530.9 2393.4l-8.5 -15.3h17zM1505.7 2408.2l-8.5 -15.3h17zM1516.3 2408.2l-8.5 -15.3h17zM1526.9 2408.2l-8.5 -15.3h17zM1511.1 2422.9l-8.5 -15.3h17zM1521.6 2422.9l-8.5 -15.3h17zM1516.5 2436.3l-8.5 -15.3h17zM1516.2 2436.3l-8.5 -15.3h17z" fill="#0000ff"/>
<line x1="1508.9" y1="2278.3" x2="1525" y2="2278.3" stroke="#fff" stroke-width="1.6" stroke-dasharray="0 5" stroke-linecap="round"/>
<line x1="1490.2" y1="2291.7" x2="1543" y2="2291.7" stroke="#fff" stroke-width="1.6" stroke-dasharray="0 5" stroke-linecap="round"/>
<line x1="1492.9" y1="2305.1" x2="1539.8" y2="2305.1" stroke="#fff" stroke-width="1.6" stroke-dasharray="0 5" stroke-linecap="round"/>
<line x1="1496.9" y1="2321.2" x2="1535.8" y2="2321.2" stroke="#fff" stroke-width="1.6" stroke-dasharray="0 5" stroke-linecap="round"/>
<line x1="1490.2" y1="2334.6" x2="1543" y2="2334.6" stroke="#fff" stroke-width="1.6" stroke-dasharray="0 5" stroke-linecap="round"/>
<line x1="1490.2" y1="2349.4" x2="1543" y2="2349.4" stroke="#fff" stroke-width="1.6" stroke-dasharray="0 5" stroke-linecap="round"/>
<line x1="1495.5" y1="2364.1" x2="1537.1" y2="2364.1" stroke="#fff" stroke-width="1.6" stroke-dasharray="0 5" stroke-linecap="round"/>
<line x1="1499.6" y1="2378.9" x2="1533.1" y2="2378.9" stroke="#fff" stroke-width="1.6" stroke-dasharray="0 5" stroke-linecap="round"/>
<line x1="1504.9" y1="2393.6" x2="1527.7" y2="2393.6" stroke="#fff" stroke-width="1.6" stroke-dasharray="0 5" stroke-linecap="round"/>
<line x1="1508.9" y1="2408.4" x2="1523.7" y2="2408.4" stroke="#fff" stroke-width="1.6" stroke-dasharray="0 5" stroke-linecap="round"/>
<line x1="1514.3" y1="2423.1" x2="1518.3" y2="2423.1" stroke="#fff" stroke-width="1.6" stroke-dasharray="0 5" stroke-linecap="round"/>
<line x1="1484.8" y1="2330.6" x2="1547.8" y2="2330.6" stroke="#000" stroke-width="2.2" stroke-dasharray="6 3.5"/>
<line x1="1490.2" y1="2301.1" x2="1543.8" y2="2301.1" stroke="#000" stroke-width="2.2" stroke-dasharray="0 5" stroke-linecap="round"/>
<line x1="1490.2" y1="2360.1" x2="1543.8" y2="2360.1" stroke="#000" stroke-width="2.2" stroke-dasharray="0 5" stroke-linecap="round"/>
<path d="M1624.3 2310.5C1624.7 2312.1 1625.6 2316.5 1626.9 2319.9C1628.3 2323.3 1630.3 2327 1632.3 2330.6C1634.3 2334.2 1636.5 2337.8 1639 2341.4C1641.5 2344.9 1644.6 2348.5 1647.1 2352.1C1649.5 2355.7 1652.2 2359.2 1653.8 2362.8C1655.3 2366.4 1656.4 2370 1656.4 2373.5C1656.4 2377.1 1654.7 2380.7 1653.8 2384.3C1652.9 2387.8 1652.4 2391.4 1651.1 2395C1649.7 2398.6 1648.2 2402.6 1645.7 2405.7C1643.3 2408.8 1639.4 2411.1 1636.3 2413.8C1633.3 2416.4 1629.5 2419.6 1627.5 2421.8C1625.5 2424 1624.8 2426.3 1624.3 2427.2L1624.3 2427.2C1623.7 2426.3 1623.1 2424 1621 2421.8C1619 2419.6 1615.2 2416.4 1612.2 2413.8C1609.2 2411.1 1605.3 2408.8 1602.8 2405.7C1600.3 2402.6 1598.8 2398.6 1597.4 2395C1596.1 2391.4 1595.7 2387.8 1594.8 2384.3C1593.9 2380.7 1592.1 2377.1 1592.1 2373.5C1592.1 2370 1593.2 2366.4 1594.8 2362.8C1596.3 2359.2 1599 2355.7 1601.5 2352.1C1603.9 2348.5 1607.1 2344.9 1609.5 2341.4C1612 2337.8 1614.2 2334.2 1616.2 2330.6C1618.2 2327 1620.2 2323.3 1621.6 2319.9C1622.9 2316.5 1623.8 2312.1 1624.3 2310.5Z" fill="none" stroke="#000" stroke-width="5" stroke-linejoin="round" stroke-linecap="round"/>
<path d="M1624.3 2321.4l8.5 15.3h-17zM1624.3 2334.9l8.5 15.3h-17zM1608.2 2349.6l8.5 15.3h-17zM1624.3 2349.6l8.5 15.3h-17zM1640.3 2349.6l8.5 15.3h-17zM1593.4 2369.7l8.5 15.3h-17zM1608.7 2369.7l8.5 15.3h-17zM1624.3 2369.7l8.5 15.3h-17zM1639.5 2369.7l8.5 15.3h-17zM1655.1 2369.7l8.5 15.3h-17zM1601.5 2384.5l8.5 15.3h-17zM1616.2 2384.5l8.5 15.3h-17zM1631.8 2384.5l8.5 15.3h-17zM1647.1 2384.5l8.5 15.3h-17zM1608.2 2396.5l8.5 15.3h-17zM1624.3 2396.5l8.5 15.3h-17zM1640.3 2396.5l8.5 15.3h-17zM1616.2 2359l8.5 15.3h-17zM1632.3 2359l8.5 15.3h-17z" fill="#ff0000"/>
<line x1="1596.1" y1="2374.9" x2="1652.4" y2="2374.9" stroke="#000" stroke-width="2.2" stroke-dasharray="6 3.5"/>
<line x1="1605.5" y1="2360.1" x2="1643" y2="2360.1" stroke="#000" stroke-width="2.2" stroke-dasharray="0 5" stroke-linecap="round"/>
<line x1="1605.5" y1="2389.6" x2="1643" y2="2389.6" stroke="#000" stroke-width="2.2" stroke-dasharray="0 5" stroke-linecap="round"/>
<line x1="1445.9" y1="2196.4" x2="1445.9" y2="2496.4" stroke="#000" stroke-width="5.5"/>
<line x1="1443.2" y1="2493.7" x2="1698.8" y2="2493.7" stroke="#000" stroke-width="5.5"/>
<line x1="1434.7" y1="2198.7" x2="1445.9" y2="2198.7" stroke="#000" stroke-width="5.5"/>
<text x="1430.2" y="2209.1" font-size="29" text-anchor="end">15</text>
<line x1="1434.7" y1="2271.6" x2="1445.9" y2="2271.6" stroke="#000" stroke-width="5.5"/>
<text x="1430.2" y="2282" font-size="29" text-anchor="end">10</text>
<line x1="1434.7" y1="2345.4" x2="1445.9" y2="2345.4" stroke="#000" stroke-width="5.5"/>
<text x="1430.2" y="2355.8" font-size="29" text-anchor="end">5</text>
<line x1="1434.7" y1="2419.1" x2="1445.9" y2="2419.1" stroke="#000" stroke-width="5.5"/>
<text x="1430.2" y="2429.5" font-size="29" text-anchor="end">0</text>
<line x1="1434.7" y1="2493.7" x2="1445.9" y2="2493.7" stroke="#000" stroke-width="5.5"/>
<text x="1430.2" y="2504.1" font-size="29" text-anchor="end">-5</text>
<line x1="1516.2" y1="2493.7" x2="1516.2" y2="2504.9" stroke="#000" stroke-width="5.5"/>
<line x1="1624.3" y1="2493.7" x2="1624.3" y2="2504.9" stroke="#000" stroke-width="5.5"/>
<line x1="1518.4" y1="2199.2" x2="1619.3" y2="2199.2" stroke="#000" stroke-width="5.5"/>
<text x="1568.8" y="2205.5" font-size="50" text-anchor="middle">****</text>
<text x="1476.8" y="2480.8" font-size="29.5">n = 88</text>
<text x="1581.3" y="2468" font-size="29.5">n = 17</text>
<text x="1469" y="2534.4" font-size="27.5">circE7<tspan dy="-14" font-size="18">-</tspan></text>
<text x="1572" y="2534.4" font-size="27.5">circE7<tspan dy="-13" font-size="18">+</tspan></text>
</svg>
</body></html>
